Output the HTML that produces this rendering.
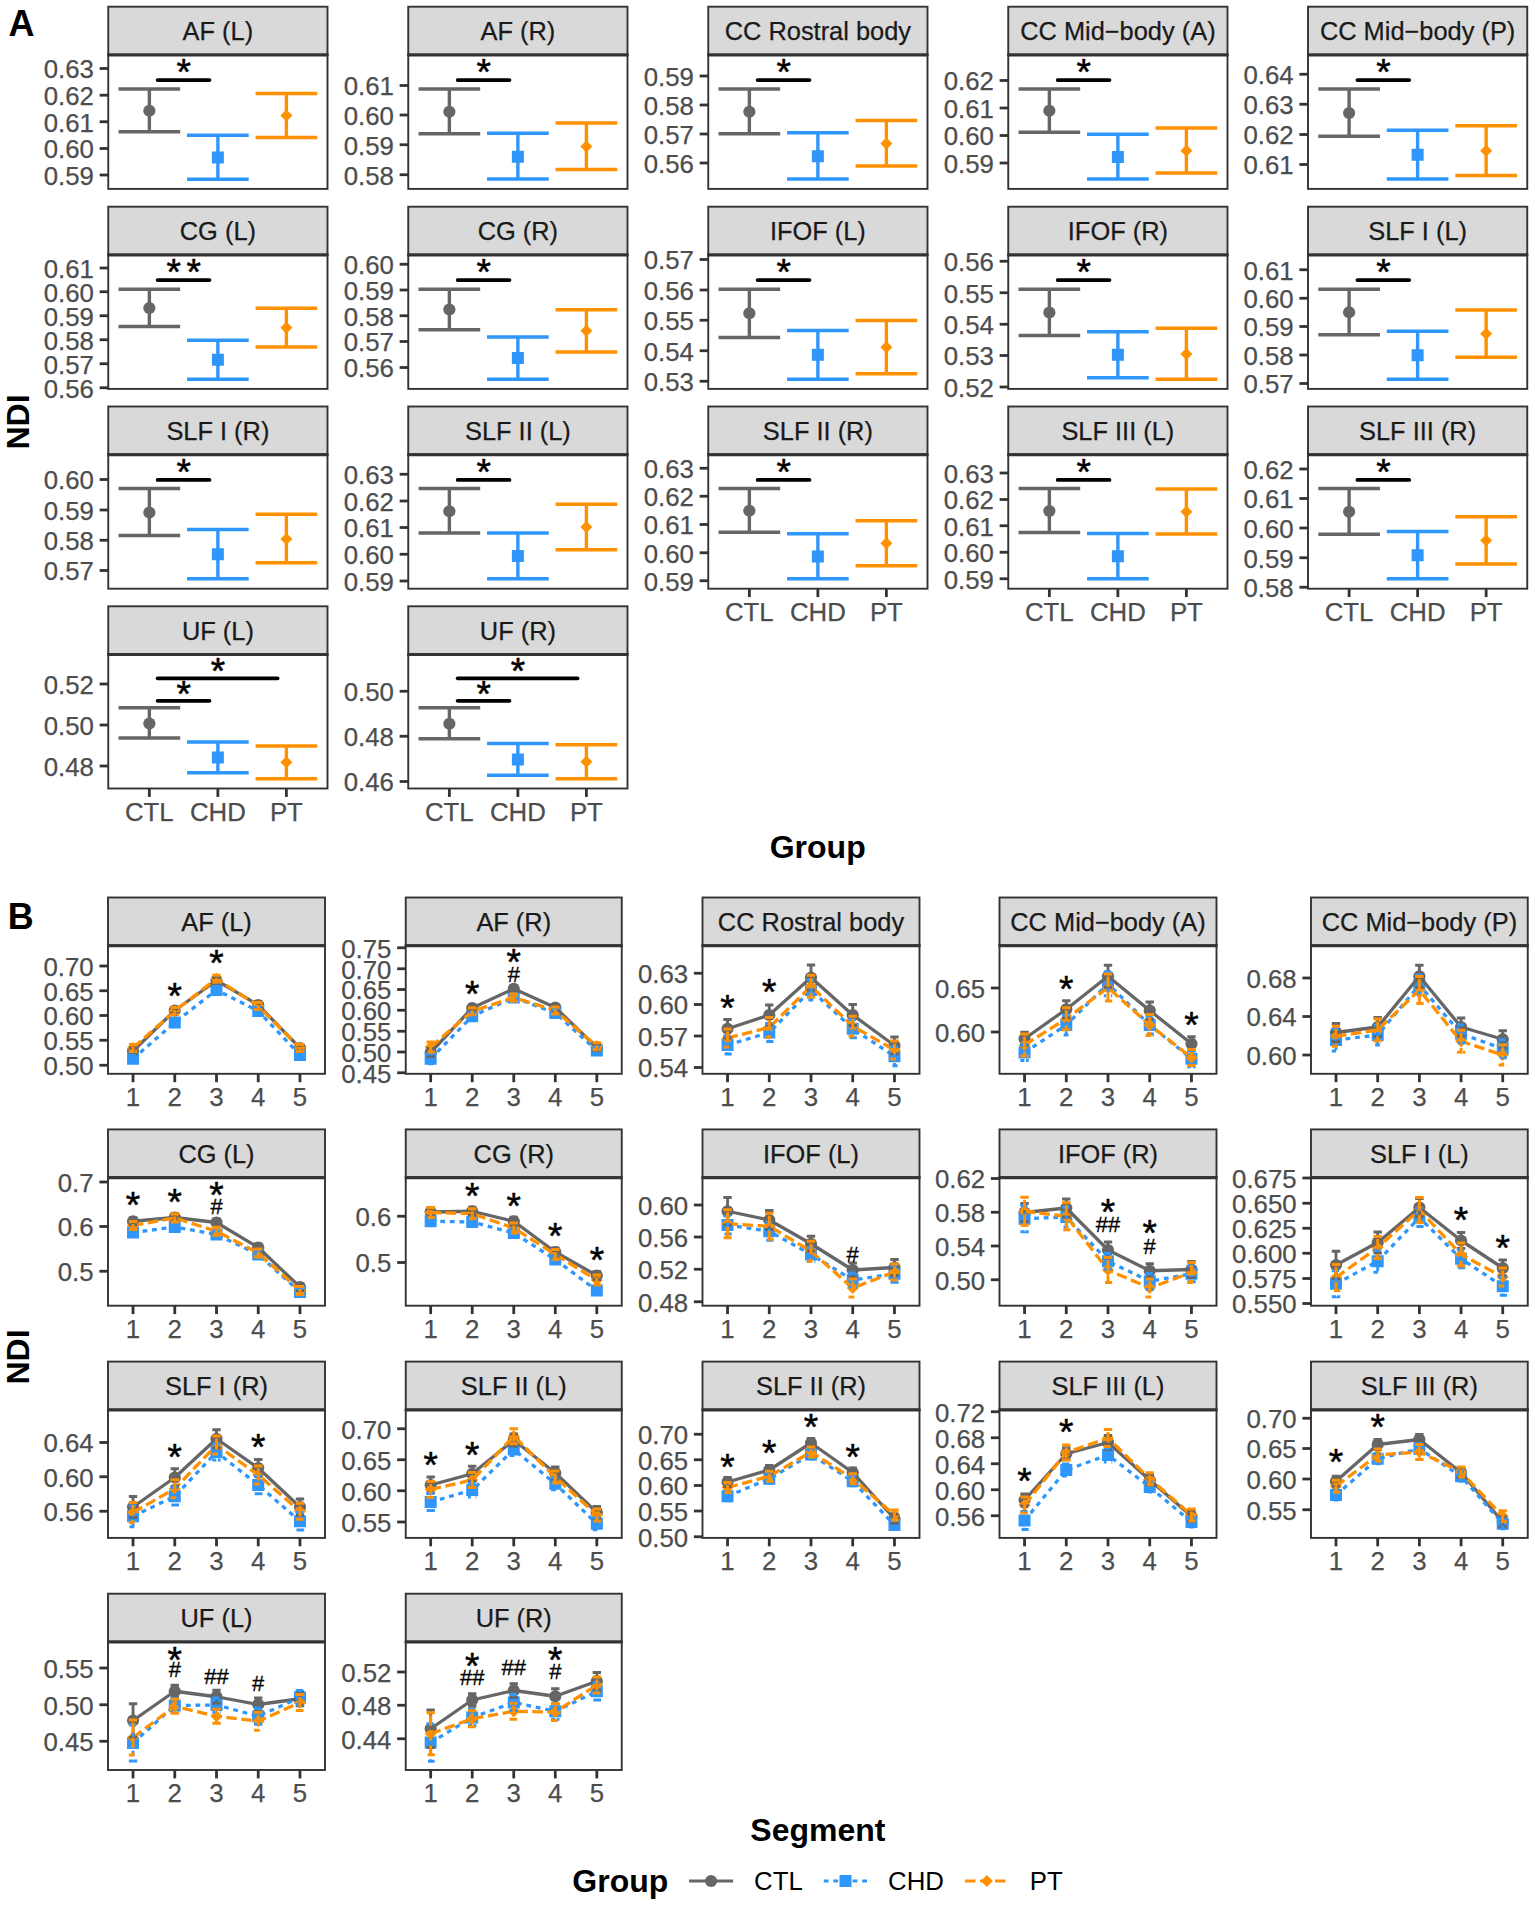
<!DOCTYPE html>
<html lang="en">
<head>
<meta charset="utf-8">
<title>NDI by group and segment</title>
<style>
html,body{margin:0;padding:0;background:#fff;}
body{width:1535px;height:1906px;overflow:hidden;}
svg{display:block;font-family:"Liberation Sans",Arial,Helvetica,sans-serif;}
</style>
</head>
<body>
<svg width="1535" height="1906" viewBox="0 0 1535 1906">
<rect width="1535" height="1906" fill="#fff"/>
<rect x="108.25" y="6.7" width="219.25" height="48" fill="#D9D9D9" stroke="#333333" stroke-width="1.9"/>
<rect x="108.25" y="54.7" width="219.25" height="134.2" fill="#fff" stroke="#333333" stroke-width="1.9"/>
<line x1="107.3" y1="55" x2="328.45" y2="55" stroke="#333333" stroke-width="3"/>
<text x="217.88" y="39.9" font-size="25.4" text-anchor="middle" fill="#1A1A1A" stroke="#1A1A1A" stroke-width="0.25">AF (L)</text>
<line x1="99.65" y1="68.5" x2="108.25" y2="68.5" stroke="#333333" stroke-width="2.8"/>
<text x="93.85" y="78.3" font-size="25.8" text-anchor="end" fill="#4D4D4D" stroke="#4D4D4D" stroke-width="0.25">0.63</text>
<line x1="99.65" y1="95.2" x2="108.25" y2="95.2" stroke="#333333" stroke-width="2.8"/>
<text x="93.85" y="105" font-size="25.8" text-anchor="end" fill="#4D4D4D" stroke="#4D4D4D" stroke-width="0.25">0.62</text>
<line x1="99.65" y1="121.75" x2="108.25" y2="121.75" stroke="#333333" stroke-width="2.8"/>
<text x="93.85" y="131.55" font-size="25.8" text-anchor="end" fill="#4D4D4D" stroke="#4D4D4D" stroke-width="0.25">0.61</text>
<line x1="99.65" y1="148.5" x2="108.25" y2="148.5" stroke="#333333" stroke-width="2.8"/>
<text x="93.85" y="158.3" font-size="25.8" text-anchor="end" fill="#4D4D4D" stroke="#4D4D4D" stroke-width="0.25">0.60</text>
<line x1="99.65" y1="175" x2="108.25" y2="175" stroke="#333333" stroke-width="2.8"/>
<text x="93.85" y="184.8" font-size="25.8" text-anchor="end" fill="#4D4D4D" stroke="#4D4D4D" stroke-width="0.25">0.59</text>
<line x1="118.53" y1="89" x2="180.19" y2="89" stroke="#666666" stroke-width="3.4"/>
<line x1="118.53" y1="131.75" x2="180.19" y2="131.75" stroke="#666666" stroke-width="3.4"/>
<line x1="149.36" y1="89" x2="149.36" y2="131.75" stroke="#666666" stroke-width="3.4"/>
<circle cx="149.36" cy="110.75" r="6.1" fill="#666666"/>
<line x1="187.04" y1="135.25" x2="248.71" y2="135.25" stroke="#2F96FB" stroke-width="3.4"/>
<line x1="187.04" y1="179.25" x2="248.71" y2="179.25" stroke="#2F96FB" stroke-width="3.4"/>
<line x1="217.88" y1="135.25" x2="217.88" y2="179.25" stroke="#2F96FB" stroke-width="3.4"/>
<rect x="211.88" y="151.5" width="12" height="12" fill="#2F96FB"/>
<line x1="255.56" y1="93.5" x2="317.22" y2="93.5" stroke="#FF9000" stroke-width="3.4"/>
<line x1="255.56" y1="137.5" x2="317.22" y2="137.5" stroke="#FF9000" stroke-width="3.4"/>
<line x1="286.39" y1="93.5" x2="286.39" y2="137.5" stroke="#FF9000" stroke-width="3.4"/>
<path d="M280.39 115.5L286.39 109.5L292.39 115.5L286.39 121.5Z" fill="#FF9000"/>
<line x1="157.66" y1="80.1" x2="209.47" y2="80.1" stroke="#000" stroke-width="3.8" stroke-linecap="round"/>
<text x="183.62" y="85.2" font-size="37" text-anchor="middle" fill="#000" stroke="#000" stroke-width="0.5" stroke-linejoin="round">*</text>
<rect x="408.25" y="6.7" width="219.25" height="48" fill="#D9D9D9" stroke="#333333" stroke-width="1.9"/>
<rect x="408.25" y="54.7" width="219.25" height="134.2" fill="#fff" stroke="#333333" stroke-width="1.9"/>
<line x1="407.3" y1="55" x2="628.45" y2="55" stroke="#333333" stroke-width="3"/>
<text x="517.88" y="39.9" font-size="25.4" text-anchor="middle" fill="#1A1A1A" stroke="#1A1A1A" stroke-width="0.25">AF (R)</text>
<line x1="399.65" y1="85.5" x2="408.25" y2="85.5" stroke="#333333" stroke-width="2.8"/>
<text x="393.85" y="95.3" font-size="25.8" text-anchor="end" fill="#4D4D4D" stroke="#4D4D4D" stroke-width="0.25">0.61</text>
<line x1="399.65" y1="115" x2="408.25" y2="115" stroke="#333333" stroke-width="2.8"/>
<text x="393.85" y="124.8" font-size="25.8" text-anchor="end" fill="#4D4D4D" stroke="#4D4D4D" stroke-width="0.25">0.60</text>
<line x1="399.65" y1="144.75" x2="408.25" y2="144.75" stroke="#333333" stroke-width="2.8"/>
<text x="393.85" y="154.55" font-size="25.8" text-anchor="end" fill="#4D4D4D" stroke="#4D4D4D" stroke-width="0.25">0.59</text>
<line x1="399.65" y1="174.75" x2="408.25" y2="174.75" stroke="#333333" stroke-width="2.8"/>
<text x="393.85" y="184.55" font-size="25.8" text-anchor="end" fill="#4D4D4D" stroke="#4D4D4D" stroke-width="0.25">0.58</text>
<line x1="418.53" y1="89" x2="480.19" y2="89" stroke="#666666" stroke-width="3.4"/>
<line x1="418.53" y1="133.75" x2="480.19" y2="133.75" stroke="#666666" stroke-width="3.4"/>
<line x1="449.36" y1="89" x2="449.36" y2="133.75" stroke="#666666" stroke-width="3.4"/>
<circle cx="449.36" cy="111.75" r="6.1" fill="#666666"/>
<line x1="487.04" y1="133.25" x2="548.71" y2="133.25" stroke="#2F96FB" stroke-width="3.4"/>
<line x1="487.04" y1="179" x2="548.71" y2="179" stroke="#2F96FB" stroke-width="3.4"/>
<line x1="517.88" y1="133.25" x2="517.88" y2="179" stroke="#2F96FB" stroke-width="3.4"/>
<rect x="511.88" y="150.75" width="12" height="12" fill="#2F96FB"/>
<line x1="555.56" y1="123" x2="617.22" y2="123" stroke="#FF9000" stroke-width="3.4"/>
<line x1="555.56" y1="169.5" x2="617.22" y2="169.5" stroke="#FF9000" stroke-width="3.4"/>
<line x1="586.39" y1="123" x2="586.39" y2="169.5" stroke="#FF9000" stroke-width="3.4"/>
<path d="M580.39 146.5L586.39 140.5L592.39 146.5L586.39 152.5Z" fill="#FF9000"/>
<line x1="457.66" y1="80.1" x2="509.48" y2="80.1" stroke="#000" stroke-width="3.8" stroke-linecap="round"/>
<text x="483.62" y="85.2" font-size="37" text-anchor="middle" fill="#000" stroke="#000" stroke-width="0.5" stroke-linejoin="round">*</text>
<rect x="708.25" y="6.7" width="219.25" height="48" fill="#D9D9D9" stroke="#333333" stroke-width="1.9"/>
<rect x="708.25" y="54.7" width="219.25" height="134.2" fill="#fff" stroke="#333333" stroke-width="1.9"/>
<line x1="707.3" y1="55" x2="928.45" y2="55" stroke="#333333" stroke-width="3"/>
<text x="817.88" y="39.9" font-size="25.4" text-anchor="middle" fill="#1A1A1A" stroke="#1A1A1A" stroke-width="0.25">CC Rostral body</text>
<line x1="699.65" y1="76" x2="708.25" y2="76" stroke="#333333" stroke-width="2.8"/>
<text x="693.85" y="85.8" font-size="25.8" text-anchor="end" fill="#4D4D4D" stroke="#4D4D4D" stroke-width="0.25">0.59</text>
<line x1="699.65" y1="105" x2="708.25" y2="105" stroke="#333333" stroke-width="2.8"/>
<text x="693.85" y="114.8" font-size="25.8" text-anchor="end" fill="#4D4D4D" stroke="#4D4D4D" stroke-width="0.25">0.58</text>
<line x1="699.65" y1="134" x2="708.25" y2="134" stroke="#333333" stroke-width="2.8"/>
<text x="693.85" y="143.8" font-size="25.8" text-anchor="end" fill="#4D4D4D" stroke="#4D4D4D" stroke-width="0.25">0.57</text>
<line x1="699.65" y1="163" x2="708.25" y2="163" stroke="#333333" stroke-width="2.8"/>
<text x="693.85" y="172.8" font-size="25.8" text-anchor="end" fill="#4D4D4D" stroke="#4D4D4D" stroke-width="0.25">0.56</text>
<line x1="718.53" y1="89" x2="780.19" y2="89" stroke="#666666" stroke-width="3.4"/>
<line x1="718.53" y1="133.75" x2="780.19" y2="133.75" stroke="#666666" stroke-width="3.4"/>
<line x1="749.36" y1="89" x2="749.36" y2="133.75" stroke="#666666" stroke-width="3.4"/>
<circle cx="749.36" cy="111.75" r="6.1" fill="#666666"/>
<line x1="787.04" y1="132.75" x2="848.71" y2="132.75" stroke="#2F96FB" stroke-width="3.4"/>
<line x1="787.04" y1="179" x2="848.71" y2="179" stroke="#2F96FB" stroke-width="3.4"/>
<line x1="817.88" y1="132.75" x2="817.88" y2="179" stroke="#2F96FB" stroke-width="3.4"/>
<rect x="811.88" y="150.25" width="12" height="12" fill="#2F96FB"/>
<line x1="855.56" y1="120.5" x2="917.22" y2="120.5" stroke="#FF9000" stroke-width="3.4"/>
<line x1="855.56" y1="166" x2="917.22" y2="166" stroke="#FF9000" stroke-width="3.4"/>
<line x1="886.39" y1="120.5" x2="886.39" y2="166" stroke="#FF9000" stroke-width="3.4"/>
<path d="M880.39 143.5L886.39 137.5L892.39 143.5L886.39 149.5Z" fill="#FF9000"/>
<line x1="757.66" y1="80.1" x2="809.48" y2="80.1" stroke="#000" stroke-width="3.8" stroke-linecap="round"/>
<text x="783.62" y="85.2" font-size="37" text-anchor="middle" fill="#000" stroke="#000" stroke-width="0.5" stroke-linejoin="round">*</text>
<rect x="1008.25" y="6.7" width="219.25" height="48" fill="#D9D9D9" stroke="#333333" stroke-width="1.9"/>
<rect x="1008.25" y="54.7" width="219.25" height="134.2" fill="#fff" stroke="#333333" stroke-width="1.9"/>
<line x1="1007.3" y1="55" x2="1228.45" y2="55" stroke="#333333" stroke-width="3"/>
<text x="1117.88" y="39.9" font-size="25.4" text-anchor="middle" fill="#1A1A1A" stroke="#1A1A1A" stroke-width="0.25">CC Mid−body (A)</text>
<line x1="999.65" y1="80.5" x2="1008.25" y2="80.5" stroke="#333333" stroke-width="2.8"/>
<text x="993.85" y="90.3" font-size="25.8" text-anchor="end" fill="#4D4D4D" stroke="#4D4D4D" stroke-width="0.25">0.62</text>
<line x1="999.65" y1="108" x2="1008.25" y2="108" stroke="#333333" stroke-width="2.8"/>
<text x="993.85" y="117.8" font-size="25.8" text-anchor="end" fill="#4D4D4D" stroke="#4D4D4D" stroke-width="0.25">0.61</text>
<line x1="999.65" y1="135.5" x2="1008.25" y2="135.5" stroke="#333333" stroke-width="2.8"/>
<text x="993.85" y="145.3" font-size="25.8" text-anchor="end" fill="#4D4D4D" stroke="#4D4D4D" stroke-width="0.25">0.60</text>
<line x1="999.65" y1="163" x2="1008.25" y2="163" stroke="#333333" stroke-width="2.8"/>
<text x="993.85" y="172.8" font-size="25.8" text-anchor="end" fill="#4D4D4D" stroke="#4D4D4D" stroke-width="0.25">0.59</text>
<line x1="1018.53" y1="89" x2="1080.19" y2="89" stroke="#666666" stroke-width="3.4"/>
<line x1="1018.53" y1="132.25" x2="1080.19" y2="132.25" stroke="#666666" stroke-width="3.4"/>
<line x1="1049.36" y1="89" x2="1049.36" y2="132.25" stroke="#666666" stroke-width="3.4"/>
<circle cx="1049.36" cy="110.75" r="6.1" fill="#666666"/>
<line x1="1087.04" y1="134.25" x2="1148.71" y2="134.25" stroke="#2F96FB" stroke-width="3.4"/>
<line x1="1087.04" y1="179" x2="1148.71" y2="179" stroke="#2F96FB" stroke-width="3.4"/>
<line x1="1117.88" y1="134.25" x2="1117.88" y2="179" stroke="#2F96FB" stroke-width="3.4"/>
<rect x="1111.88" y="151" width="12" height="12" fill="#2F96FB"/>
<line x1="1155.56" y1="128" x2="1217.22" y2="128" stroke="#FF9000" stroke-width="3.4"/>
<line x1="1155.56" y1="173" x2="1217.22" y2="173" stroke="#FF9000" stroke-width="3.4"/>
<line x1="1186.39" y1="128" x2="1186.39" y2="173" stroke="#FF9000" stroke-width="3.4"/>
<path d="M1180.39 150.75L1186.39 144.75L1192.39 150.75L1186.39 156.75Z" fill="#FF9000"/>
<line x1="1057.66" y1="80.1" x2="1109.47" y2="80.1" stroke="#000" stroke-width="3.8" stroke-linecap="round"/>
<text x="1083.62" y="85.2" font-size="37" text-anchor="middle" fill="#000" stroke="#000" stroke-width="0.5" stroke-linejoin="round">*</text>
<rect x="1308" y="6.7" width="219.25" height="48" fill="#D9D9D9" stroke="#333333" stroke-width="1.9"/>
<rect x="1308" y="54.7" width="219.25" height="134.2" fill="#fff" stroke="#333333" stroke-width="1.9"/>
<line x1="1307.05" y1="55" x2="1528.2" y2="55" stroke="#333333" stroke-width="3"/>
<text x="1417.62" y="39.9" font-size="25.4" text-anchor="middle" fill="#1A1A1A" stroke="#1A1A1A" stroke-width="0.25">CC Mid−body (P)</text>
<line x1="1299.4" y1="74.25" x2="1308" y2="74.25" stroke="#333333" stroke-width="2.8"/>
<text x="1293.6" y="84.05" font-size="25.8" text-anchor="end" fill="#4D4D4D" stroke="#4D4D4D" stroke-width="0.25">0.64</text>
<line x1="1299.4" y1="104.25" x2="1308" y2="104.25" stroke="#333333" stroke-width="2.8"/>
<text x="1293.6" y="114.05" font-size="25.8" text-anchor="end" fill="#4D4D4D" stroke="#4D4D4D" stroke-width="0.25">0.63</text>
<line x1="1299.4" y1="134.5" x2="1308" y2="134.5" stroke="#333333" stroke-width="2.8"/>
<text x="1293.6" y="144.3" font-size="25.8" text-anchor="end" fill="#4D4D4D" stroke="#4D4D4D" stroke-width="0.25">0.62</text>
<line x1="1299.4" y1="164.5" x2="1308" y2="164.5" stroke="#333333" stroke-width="2.8"/>
<text x="1293.6" y="174.3" font-size="25.8" text-anchor="end" fill="#4D4D4D" stroke="#4D4D4D" stroke-width="0.25">0.61</text>
<line x1="1318.28" y1="89" x2="1379.94" y2="89" stroke="#666666" stroke-width="3.4"/>
<line x1="1318.28" y1="136.25" x2="1379.94" y2="136.25" stroke="#666666" stroke-width="3.4"/>
<line x1="1349.11" y1="89" x2="1349.11" y2="136.25" stroke="#666666" stroke-width="3.4"/>
<circle cx="1349.11" cy="113" r="6.1" fill="#666666"/>
<line x1="1386.79" y1="130.25" x2="1448.46" y2="130.25" stroke="#2F96FB" stroke-width="3.4"/>
<line x1="1386.79" y1="179" x2="1448.46" y2="179" stroke="#2F96FB" stroke-width="3.4"/>
<line x1="1417.62" y1="130.25" x2="1417.62" y2="179" stroke="#2F96FB" stroke-width="3.4"/>
<rect x="1411.62" y="148.75" width="12" height="12" fill="#2F96FB"/>
<line x1="1455.31" y1="125.75" x2="1516.97" y2="125.75" stroke="#FF9000" stroke-width="3.4"/>
<line x1="1455.31" y1="175.5" x2="1516.97" y2="175.5" stroke="#FF9000" stroke-width="3.4"/>
<line x1="1486.14" y1="125.75" x2="1486.14" y2="175.5" stroke="#FF9000" stroke-width="3.4"/>
<path d="M1480.14 150.75L1486.14 144.75L1492.14 150.75L1486.14 156.75Z" fill="#FF9000"/>
<line x1="1357.41" y1="80.1" x2="1409.22" y2="80.1" stroke="#000" stroke-width="3.8" stroke-linecap="round"/>
<text x="1383.37" y="85.2" font-size="37" text-anchor="middle" fill="#000" stroke="#000" stroke-width="0.5" stroke-linejoin="round">*</text>
<rect x="108.25" y="206.7" width="219.25" height="48" fill="#D9D9D9" stroke="#333333" stroke-width="1.9"/>
<rect x="108.25" y="254.7" width="219.25" height="134.2" fill="#fff" stroke="#333333" stroke-width="1.9"/>
<line x1="107.3" y1="255" x2="328.45" y2="255" stroke="#333333" stroke-width="3"/>
<text x="217.88" y="239.9" font-size="25.4" text-anchor="middle" fill="#1A1A1A" stroke="#1A1A1A" stroke-width="0.25">CG (L)</text>
<line x1="99.65" y1="268" x2="108.25" y2="268" stroke="#333333" stroke-width="2.8"/>
<text x="93.85" y="277.8" font-size="25.8" text-anchor="end" fill="#4D4D4D" stroke="#4D4D4D" stroke-width="0.25">0.61</text>
<line x1="99.65" y1="291.75" x2="108.25" y2="291.75" stroke="#333333" stroke-width="2.8"/>
<text x="93.85" y="301.55" font-size="25.8" text-anchor="end" fill="#4D4D4D" stroke="#4D4D4D" stroke-width="0.25">0.60</text>
<line x1="99.65" y1="315.75" x2="108.25" y2="315.75" stroke="#333333" stroke-width="2.8"/>
<text x="93.85" y="325.55" font-size="25.8" text-anchor="end" fill="#4D4D4D" stroke="#4D4D4D" stroke-width="0.25">0.59</text>
<line x1="99.65" y1="339.75" x2="108.25" y2="339.75" stroke="#333333" stroke-width="2.8"/>
<text x="93.85" y="349.55" font-size="25.8" text-anchor="end" fill="#4D4D4D" stroke="#4D4D4D" stroke-width="0.25">0.58</text>
<line x1="99.65" y1="363.75" x2="108.25" y2="363.75" stroke="#333333" stroke-width="2.8"/>
<text x="93.85" y="373.55" font-size="25.8" text-anchor="end" fill="#4D4D4D" stroke="#4D4D4D" stroke-width="0.25">0.57</text>
<line x1="99.65" y1="387.75" x2="108.25" y2="387.75" stroke="#333333" stroke-width="2.8"/>
<text x="93.85" y="397.55" font-size="25.8" text-anchor="end" fill="#4D4D4D" stroke="#4D4D4D" stroke-width="0.25">0.56</text>
<line x1="118.53" y1="289.25" x2="180.19" y2="289.25" stroke="#666666" stroke-width="3.4"/>
<line x1="118.53" y1="326.5" x2="180.19" y2="326.5" stroke="#666666" stroke-width="3.4"/>
<line x1="149.36" y1="289.25" x2="149.36" y2="326.5" stroke="#666666" stroke-width="3.4"/>
<circle cx="149.36" cy="308" r="6.1" fill="#666666"/>
<line x1="187.04" y1="340.25" x2="248.71" y2="340.25" stroke="#2F96FB" stroke-width="3.4"/>
<line x1="187.04" y1="379.25" x2="248.71" y2="379.25" stroke="#2F96FB" stroke-width="3.4"/>
<line x1="217.88" y1="340.25" x2="217.88" y2="379.25" stroke="#2F96FB" stroke-width="3.4"/>
<rect x="211.88" y="353.75" width="12" height="12" fill="#2F96FB"/>
<line x1="255.56" y1="308.25" x2="317.22" y2="308.25" stroke="#FF9000" stroke-width="3.4"/>
<line x1="255.56" y1="347" x2="317.22" y2="347" stroke="#FF9000" stroke-width="3.4"/>
<line x1="286.39" y1="308.25" x2="286.39" y2="347" stroke="#FF9000" stroke-width="3.4"/>
<path d="M280.39 327.75L286.39 321.75L292.39 327.75L286.39 333.75Z" fill="#FF9000"/>
<line x1="157.66" y1="280.1" x2="209.47" y2="280.1" stroke="#000" stroke-width="3.8" stroke-linecap="round"/>
<text x="173.62" y="285.2" font-size="37" text-anchor="middle" fill="#000" stroke="#000" stroke-width="0.5" stroke-linejoin="round">*</text>
<text x="193.62" y="285.2" font-size="37" text-anchor="middle" fill="#000" stroke="#000" stroke-width="0.5" stroke-linejoin="round">*</text>
<rect x="408.25" y="206.7" width="219.25" height="48" fill="#D9D9D9" stroke="#333333" stroke-width="1.9"/>
<rect x="408.25" y="254.7" width="219.25" height="134.2" fill="#fff" stroke="#333333" stroke-width="1.9"/>
<line x1="407.3" y1="255" x2="628.45" y2="255" stroke="#333333" stroke-width="3"/>
<text x="517.88" y="239.9" font-size="25.4" text-anchor="middle" fill="#1A1A1A" stroke="#1A1A1A" stroke-width="0.25">CG (R)</text>
<line x1="399.65" y1="264.25" x2="408.25" y2="264.25" stroke="#333333" stroke-width="2.8"/>
<text x="393.85" y="274.05" font-size="25.8" text-anchor="end" fill="#4D4D4D" stroke="#4D4D4D" stroke-width="0.25">0.60</text>
<line x1="399.65" y1="290" x2="408.25" y2="290" stroke="#333333" stroke-width="2.8"/>
<text x="393.85" y="299.8" font-size="25.8" text-anchor="end" fill="#4D4D4D" stroke="#4D4D4D" stroke-width="0.25">0.59</text>
<line x1="399.65" y1="315.75" x2="408.25" y2="315.75" stroke="#333333" stroke-width="2.8"/>
<text x="393.85" y="325.55" font-size="25.8" text-anchor="end" fill="#4D4D4D" stroke="#4D4D4D" stroke-width="0.25">0.58</text>
<line x1="399.65" y1="341.5" x2="408.25" y2="341.5" stroke="#333333" stroke-width="2.8"/>
<text x="393.85" y="351.3" font-size="25.8" text-anchor="end" fill="#4D4D4D" stroke="#4D4D4D" stroke-width="0.25">0.57</text>
<line x1="399.65" y1="367.5" x2="408.25" y2="367.5" stroke="#333333" stroke-width="2.8"/>
<text x="393.85" y="377.3" font-size="25.8" text-anchor="end" fill="#4D4D4D" stroke="#4D4D4D" stroke-width="0.25">0.56</text>
<line x1="418.53" y1="289.25" x2="480.19" y2="289.25" stroke="#666666" stroke-width="3.4"/>
<line x1="418.53" y1="329.75" x2="480.19" y2="329.75" stroke="#666666" stroke-width="3.4"/>
<line x1="449.36" y1="289.25" x2="449.36" y2="329.75" stroke="#666666" stroke-width="3.4"/>
<circle cx="449.36" cy="309.5" r="6.1" fill="#666666"/>
<line x1="487.04" y1="337" x2="548.71" y2="337" stroke="#2F96FB" stroke-width="3.4"/>
<line x1="487.04" y1="379.25" x2="548.71" y2="379.25" stroke="#2F96FB" stroke-width="3.4"/>
<line x1="517.88" y1="337" x2="517.88" y2="379.25" stroke="#2F96FB" stroke-width="3.4"/>
<rect x="511.88" y="352" width="12" height="12" fill="#2F96FB"/>
<line x1="555.56" y1="309.75" x2="617.22" y2="309.75" stroke="#FF9000" stroke-width="3.4"/>
<line x1="555.56" y1="352" x2="617.22" y2="352" stroke="#FF9000" stroke-width="3.4"/>
<line x1="586.39" y1="309.75" x2="586.39" y2="352" stroke="#FF9000" stroke-width="3.4"/>
<path d="M580.39 330.75L586.39 324.75L592.39 330.75L586.39 336.75Z" fill="#FF9000"/>
<line x1="457.66" y1="280.1" x2="509.48" y2="280.1" stroke="#000" stroke-width="3.8" stroke-linecap="round"/>
<text x="483.62" y="285.2" font-size="37" text-anchor="middle" fill="#000" stroke="#000" stroke-width="0.5" stroke-linejoin="round">*</text>
<rect x="708.25" y="206.7" width="219.25" height="48" fill="#D9D9D9" stroke="#333333" stroke-width="1.9"/>
<rect x="708.25" y="254.7" width="219.25" height="134.2" fill="#fff" stroke="#333333" stroke-width="1.9"/>
<line x1="707.3" y1="255" x2="928.45" y2="255" stroke="#333333" stroke-width="3"/>
<text x="817.88" y="239.9" font-size="25.4" text-anchor="middle" fill="#1A1A1A" stroke="#1A1A1A" stroke-width="0.25">IFOF (L)</text>
<line x1="699.65" y1="259.5" x2="708.25" y2="259.5" stroke="#333333" stroke-width="2.8"/>
<text x="693.85" y="269.3" font-size="25.8" text-anchor="end" fill="#4D4D4D" stroke="#4D4D4D" stroke-width="0.25">0.57</text>
<line x1="699.65" y1="290" x2="708.25" y2="290" stroke="#333333" stroke-width="2.8"/>
<text x="693.85" y="299.8" font-size="25.8" text-anchor="end" fill="#4D4D4D" stroke="#4D4D4D" stroke-width="0.25">0.56</text>
<line x1="699.65" y1="320.25" x2="708.25" y2="320.25" stroke="#333333" stroke-width="2.8"/>
<text x="693.85" y="330.05" font-size="25.8" text-anchor="end" fill="#4D4D4D" stroke="#4D4D4D" stroke-width="0.25">0.55</text>
<line x1="699.65" y1="350.75" x2="708.25" y2="350.75" stroke="#333333" stroke-width="2.8"/>
<text x="693.85" y="360.55" font-size="25.8" text-anchor="end" fill="#4D4D4D" stroke="#4D4D4D" stroke-width="0.25">0.54</text>
<line x1="699.65" y1="381.25" x2="708.25" y2="381.25" stroke="#333333" stroke-width="2.8"/>
<text x="693.85" y="391.05" font-size="25.8" text-anchor="end" fill="#4D4D4D" stroke="#4D4D4D" stroke-width="0.25">0.53</text>
<line x1="718.53" y1="289.25" x2="780.19" y2="289.25" stroke="#666666" stroke-width="3.4"/>
<line x1="718.53" y1="337.5" x2="780.19" y2="337.5" stroke="#666666" stroke-width="3.4"/>
<line x1="749.36" y1="289.25" x2="749.36" y2="337.5" stroke="#666666" stroke-width="3.4"/>
<circle cx="749.36" cy="313.25" r="6.1" fill="#666666"/>
<line x1="787.04" y1="330.5" x2="848.71" y2="330.5" stroke="#2F96FB" stroke-width="3.4"/>
<line x1="787.04" y1="379.25" x2="848.71" y2="379.25" stroke="#2F96FB" stroke-width="3.4"/>
<line x1="817.88" y1="330.5" x2="817.88" y2="379.25" stroke="#2F96FB" stroke-width="3.4"/>
<rect x="811.88" y="348.75" width="12" height="12" fill="#2F96FB"/>
<line x1="855.56" y1="320.5" x2="917.22" y2="320.5" stroke="#FF9000" stroke-width="3.4"/>
<line x1="855.56" y1="373.75" x2="917.22" y2="373.75" stroke="#FF9000" stroke-width="3.4"/>
<line x1="886.39" y1="320.5" x2="886.39" y2="373.75" stroke="#FF9000" stroke-width="3.4"/>
<path d="M880.39 347.25L886.39 341.25L892.39 347.25L886.39 353.25Z" fill="#FF9000"/>
<line x1="757.66" y1="280.1" x2="809.48" y2="280.1" stroke="#000" stroke-width="3.8" stroke-linecap="round"/>
<text x="783.62" y="285.2" font-size="37" text-anchor="middle" fill="#000" stroke="#000" stroke-width="0.5" stroke-linejoin="round">*</text>
<rect x="1008.25" y="206.7" width="219.25" height="48" fill="#D9D9D9" stroke="#333333" stroke-width="1.9"/>
<rect x="1008.25" y="254.7" width="219.25" height="134.2" fill="#fff" stroke="#333333" stroke-width="1.9"/>
<line x1="1007.3" y1="255" x2="1228.45" y2="255" stroke="#333333" stroke-width="3"/>
<text x="1117.88" y="239.9" font-size="25.4" text-anchor="middle" fill="#1A1A1A" stroke="#1A1A1A" stroke-width="0.25">IFOF (R)</text>
<line x1="999.65" y1="261.25" x2="1008.25" y2="261.25" stroke="#333333" stroke-width="2.8"/>
<text x="993.85" y="271.05" font-size="25.8" text-anchor="end" fill="#4D4D4D" stroke="#4D4D4D" stroke-width="0.25">0.56</text>
<line x1="999.65" y1="292.75" x2="1008.25" y2="292.75" stroke="#333333" stroke-width="2.8"/>
<text x="993.85" y="302.55" font-size="25.8" text-anchor="end" fill="#4D4D4D" stroke="#4D4D4D" stroke-width="0.25">0.55</text>
<line x1="999.65" y1="324.25" x2="1008.25" y2="324.25" stroke="#333333" stroke-width="2.8"/>
<text x="993.85" y="334.05" font-size="25.8" text-anchor="end" fill="#4D4D4D" stroke="#4D4D4D" stroke-width="0.25">0.54</text>
<line x1="999.65" y1="355.5" x2="1008.25" y2="355.5" stroke="#333333" stroke-width="2.8"/>
<text x="993.85" y="365.3" font-size="25.8" text-anchor="end" fill="#4D4D4D" stroke="#4D4D4D" stroke-width="0.25">0.53</text>
<line x1="999.65" y1="387" x2="1008.25" y2="387" stroke="#333333" stroke-width="2.8"/>
<text x="993.85" y="396.8" font-size="25.8" text-anchor="end" fill="#4D4D4D" stroke="#4D4D4D" stroke-width="0.25">0.52</text>
<line x1="1018.53" y1="289.25" x2="1080.19" y2="289.25" stroke="#666666" stroke-width="3.4"/>
<line x1="1018.53" y1="335.5" x2="1080.19" y2="335.5" stroke="#666666" stroke-width="3.4"/>
<line x1="1049.36" y1="289.25" x2="1049.36" y2="335.5" stroke="#666666" stroke-width="3.4"/>
<circle cx="1049.36" cy="312.5" r="6.1" fill="#666666"/>
<line x1="1087.04" y1="331.75" x2="1148.71" y2="331.75" stroke="#2F96FB" stroke-width="3.4"/>
<line x1="1087.04" y1="377.75" x2="1148.71" y2="377.75" stroke="#2F96FB" stroke-width="3.4"/>
<line x1="1117.88" y1="331.75" x2="1117.88" y2="377.75" stroke="#2F96FB" stroke-width="3.4"/>
<rect x="1111.88" y="348.75" width="12" height="12" fill="#2F96FB"/>
<line x1="1155.56" y1="328.25" x2="1217.22" y2="328.25" stroke="#FF9000" stroke-width="3.4"/>
<line x1="1155.56" y1="379.25" x2="1217.22" y2="379.25" stroke="#FF9000" stroke-width="3.4"/>
<line x1="1186.39" y1="328.25" x2="1186.39" y2="379.25" stroke="#FF9000" stroke-width="3.4"/>
<path d="M1180.39 354L1186.39 348L1192.39 354L1186.39 360Z" fill="#FF9000"/>
<line x1="1057.66" y1="280.1" x2="1109.47" y2="280.1" stroke="#000" stroke-width="3.8" stroke-linecap="round"/>
<text x="1083.62" y="285.2" font-size="37" text-anchor="middle" fill="#000" stroke="#000" stroke-width="0.5" stroke-linejoin="round">*</text>
<rect x="1308" y="206.7" width="219.25" height="48" fill="#D9D9D9" stroke="#333333" stroke-width="1.9"/>
<rect x="1308" y="254.7" width="219.25" height="134.2" fill="#fff" stroke="#333333" stroke-width="1.9"/>
<line x1="1307.05" y1="255" x2="1528.2" y2="255" stroke="#333333" stroke-width="3"/>
<text x="1417.62" y="239.9" font-size="25.4" text-anchor="middle" fill="#1A1A1A" stroke="#1A1A1A" stroke-width="0.25">SLF I (L)</text>
<line x1="1299.4" y1="269.75" x2="1308" y2="269.75" stroke="#333333" stroke-width="2.8"/>
<text x="1293.6" y="279.55" font-size="25.8" text-anchor="end" fill="#4D4D4D" stroke="#4D4D4D" stroke-width="0.25">0.61</text>
<line x1="1299.4" y1="298.25" x2="1308" y2="298.25" stroke="#333333" stroke-width="2.8"/>
<text x="1293.6" y="308.05" font-size="25.8" text-anchor="end" fill="#4D4D4D" stroke="#4D4D4D" stroke-width="0.25">0.60</text>
<line x1="1299.4" y1="326.5" x2="1308" y2="326.5" stroke="#333333" stroke-width="2.8"/>
<text x="1293.6" y="336.3" font-size="25.8" text-anchor="end" fill="#4D4D4D" stroke="#4D4D4D" stroke-width="0.25">0.59</text>
<line x1="1299.4" y1="355" x2="1308" y2="355" stroke="#333333" stroke-width="2.8"/>
<text x="1293.6" y="364.8" font-size="25.8" text-anchor="end" fill="#4D4D4D" stroke="#4D4D4D" stroke-width="0.25">0.58</text>
<line x1="1299.4" y1="383.5" x2="1308" y2="383.5" stroke="#333333" stroke-width="2.8"/>
<text x="1293.6" y="393.3" font-size="25.8" text-anchor="end" fill="#4D4D4D" stroke="#4D4D4D" stroke-width="0.25">0.57</text>
<line x1="1318.28" y1="289.25" x2="1379.94" y2="289.25" stroke="#666666" stroke-width="3.4"/>
<line x1="1318.28" y1="334.75" x2="1379.94" y2="334.75" stroke="#666666" stroke-width="3.4"/>
<line x1="1349.11" y1="289.25" x2="1349.11" y2="334.75" stroke="#666666" stroke-width="3.4"/>
<circle cx="1349.11" cy="312.25" r="6.1" fill="#666666"/>
<line x1="1386.79" y1="331.25" x2="1448.46" y2="331.25" stroke="#2F96FB" stroke-width="3.4"/>
<line x1="1386.79" y1="379.25" x2="1448.46" y2="379.25" stroke="#2F96FB" stroke-width="3.4"/>
<line x1="1417.62" y1="331.25" x2="1417.62" y2="379.25" stroke="#2F96FB" stroke-width="3.4"/>
<rect x="1411.62" y="349.25" width="12" height="12" fill="#2F96FB"/>
<line x1="1455.31" y1="310" x2="1516.97" y2="310" stroke="#FF9000" stroke-width="3.4"/>
<line x1="1455.31" y1="357.25" x2="1516.97" y2="357.25" stroke="#FF9000" stroke-width="3.4"/>
<line x1="1486.14" y1="310" x2="1486.14" y2="357.25" stroke="#FF9000" stroke-width="3.4"/>
<path d="M1480.14 333.75L1486.14 327.75L1492.14 333.75L1486.14 339.75Z" fill="#FF9000"/>
<line x1="1357.41" y1="280.1" x2="1409.22" y2="280.1" stroke="#000" stroke-width="3.8" stroke-linecap="round"/>
<text x="1383.37" y="285.2" font-size="37" text-anchor="middle" fill="#000" stroke="#000" stroke-width="0.5" stroke-linejoin="round">*</text>
<rect x="108.25" y="406.5" width="219.25" height="48" fill="#D9D9D9" stroke="#333333" stroke-width="1.9"/>
<rect x="108.25" y="454.5" width="219.25" height="134.2" fill="#fff" stroke="#333333" stroke-width="1.9"/>
<line x1="107.3" y1="454.8" x2="328.45" y2="454.8" stroke="#333333" stroke-width="3"/>
<text x="217.88" y="439.7" font-size="25.4" text-anchor="middle" fill="#1A1A1A" stroke="#1A1A1A" stroke-width="0.25">SLF I (R)</text>
<line x1="99.65" y1="479.5" x2="108.25" y2="479.5" stroke="#333333" stroke-width="2.8"/>
<text x="93.85" y="489.3" font-size="25.8" text-anchor="end" fill="#4D4D4D" stroke="#4D4D4D" stroke-width="0.25">0.60</text>
<line x1="99.65" y1="510" x2="108.25" y2="510" stroke="#333333" stroke-width="2.8"/>
<text x="93.85" y="519.8" font-size="25.8" text-anchor="end" fill="#4D4D4D" stroke="#4D4D4D" stroke-width="0.25">0.59</text>
<line x1="99.65" y1="540.25" x2="108.25" y2="540.25" stroke="#333333" stroke-width="2.8"/>
<text x="93.85" y="550.05" font-size="25.8" text-anchor="end" fill="#4D4D4D" stroke="#4D4D4D" stroke-width="0.25">0.58</text>
<line x1="99.65" y1="570.5" x2="108.25" y2="570.5" stroke="#333333" stroke-width="2.8"/>
<text x="93.85" y="580.3" font-size="25.8" text-anchor="end" fill="#4D4D4D" stroke="#4D4D4D" stroke-width="0.25">0.57</text>
<line x1="118.53" y1="488.5" x2="180.19" y2="488.5" stroke="#666666" stroke-width="3.4"/>
<line x1="118.53" y1="535.5" x2="180.19" y2="535.5" stroke="#666666" stroke-width="3.4"/>
<line x1="149.36" y1="488.5" x2="149.36" y2="535.5" stroke="#666666" stroke-width="3.4"/>
<circle cx="149.36" cy="512.5" r="6.1" fill="#666666"/>
<line x1="187.04" y1="529.5" x2="248.71" y2="529.5" stroke="#2F96FB" stroke-width="3.4"/>
<line x1="187.04" y1="578.75" x2="248.71" y2="578.75" stroke="#2F96FB" stroke-width="3.4"/>
<line x1="217.88" y1="529.5" x2="217.88" y2="578.75" stroke="#2F96FB" stroke-width="3.4"/>
<rect x="211.88" y="548.25" width="12" height="12" fill="#2F96FB"/>
<line x1="255.56" y1="514.25" x2="317.22" y2="514.25" stroke="#FF9000" stroke-width="3.4"/>
<line x1="255.56" y1="562.75" x2="317.22" y2="562.75" stroke="#FF9000" stroke-width="3.4"/>
<line x1="286.39" y1="514.25" x2="286.39" y2="562.75" stroke="#FF9000" stroke-width="3.4"/>
<path d="M280.39 539L286.39 533L292.39 539L286.39 545Z" fill="#FF9000"/>
<line x1="157.66" y1="479.9" x2="209.47" y2="479.9" stroke="#000" stroke-width="3.8" stroke-linecap="round"/>
<text x="183.62" y="485" font-size="37" text-anchor="middle" fill="#000" stroke="#000" stroke-width="0.5" stroke-linejoin="round">*</text>
<rect x="408.25" y="406.5" width="219.25" height="48" fill="#D9D9D9" stroke="#333333" stroke-width="1.9"/>
<rect x="408.25" y="454.5" width="219.25" height="134.2" fill="#fff" stroke="#333333" stroke-width="1.9"/>
<line x1="407.3" y1="454.8" x2="628.45" y2="454.8" stroke="#333333" stroke-width="3"/>
<text x="517.88" y="439.7" font-size="25.4" text-anchor="middle" fill="#1A1A1A" stroke="#1A1A1A" stroke-width="0.25">SLF II (L)</text>
<line x1="399.65" y1="474.25" x2="408.25" y2="474.25" stroke="#333333" stroke-width="2.8"/>
<text x="393.85" y="484.05" font-size="25.8" text-anchor="end" fill="#4D4D4D" stroke="#4D4D4D" stroke-width="0.25">0.63</text>
<line x1="399.65" y1="501" x2="408.25" y2="501" stroke="#333333" stroke-width="2.8"/>
<text x="393.85" y="510.8" font-size="25.8" text-anchor="end" fill="#4D4D4D" stroke="#4D4D4D" stroke-width="0.25">0.62</text>
<line x1="399.65" y1="527.5" x2="408.25" y2="527.5" stroke="#333333" stroke-width="2.8"/>
<text x="393.85" y="537.3" font-size="25.8" text-anchor="end" fill="#4D4D4D" stroke="#4D4D4D" stroke-width="0.25">0.61</text>
<line x1="399.65" y1="554.25" x2="408.25" y2="554.25" stroke="#333333" stroke-width="2.8"/>
<text x="393.85" y="564.05" font-size="25.8" text-anchor="end" fill="#4D4D4D" stroke="#4D4D4D" stroke-width="0.25">0.60</text>
<line x1="399.65" y1="581" x2="408.25" y2="581" stroke="#333333" stroke-width="2.8"/>
<text x="393.85" y="590.8" font-size="25.8" text-anchor="end" fill="#4D4D4D" stroke="#4D4D4D" stroke-width="0.25">0.59</text>
<line x1="418.53" y1="488.5" x2="480.19" y2="488.5" stroke="#666666" stroke-width="3.4"/>
<line x1="418.53" y1="533" x2="480.19" y2="533" stroke="#666666" stroke-width="3.4"/>
<line x1="449.36" y1="488.5" x2="449.36" y2="533" stroke="#666666" stroke-width="3.4"/>
<circle cx="449.36" cy="511.25" r="6.1" fill="#666666"/>
<line x1="487.04" y1="533" x2="548.71" y2="533" stroke="#2F96FB" stroke-width="3.4"/>
<line x1="487.04" y1="578.75" x2="548.71" y2="578.75" stroke="#2F96FB" stroke-width="3.4"/>
<line x1="517.88" y1="533" x2="517.88" y2="578.75" stroke="#2F96FB" stroke-width="3.4"/>
<rect x="511.88" y="550" width="12" height="12" fill="#2F96FB"/>
<line x1="555.56" y1="504.25" x2="617.22" y2="504.25" stroke="#FF9000" stroke-width="3.4"/>
<line x1="555.56" y1="549.75" x2="617.22" y2="549.75" stroke="#FF9000" stroke-width="3.4"/>
<line x1="586.39" y1="504.25" x2="586.39" y2="549.75" stroke="#FF9000" stroke-width="3.4"/>
<path d="M580.39 527L586.39 521L592.39 527L586.39 533Z" fill="#FF9000"/>
<line x1="457.66" y1="479.9" x2="509.48" y2="479.9" stroke="#000" stroke-width="3.8" stroke-linecap="round"/>
<text x="483.62" y="485" font-size="37" text-anchor="middle" fill="#000" stroke="#000" stroke-width="0.5" stroke-linejoin="round">*</text>
<rect x="708.25" y="406.5" width="219.25" height="48" fill="#D9D9D9" stroke="#333333" stroke-width="1.9"/>
<rect x="708.25" y="454.5" width="219.25" height="134.2" fill="#fff" stroke="#333333" stroke-width="1.9"/>
<line x1="707.3" y1="454.8" x2="928.45" y2="454.8" stroke="#333333" stroke-width="3"/>
<text x="817.88" y="439.7" font-size="25.4" text-anchor="middle" fill="#1A1A1A" stroke="#1A1A1A" stroke-width="0.25">SLF II (R)</text>
<line x1="699.65" y1="468.25" x2="708.25" y2="468.25" stroke="#333333" stroke-width="2.8"/>
<text x="693.85" y="478.05" font-size="25.8" text-anchor="end" fill="#4D4D4D" stroke="#4D4D4D" stroke-width="0.25">0.63</text>
<line x1="699.65" y1="496.25" x2="708.25" y2="496.25" stroke="#333333" stroke-width="2.8"/>
<text x="693.85" y="506.05" font-size="25.8" text-anchor="end" fill="#4D4D4D" stroke="#4D4D4D" stroke-width="0.25">0.62</text>
<line x1="699.65" y1="524.5" x2="708.25" y2="524.5" stroke="#333333" stroke-width="2.8"/>
<text x="693.85" y="534.3" font-size="25.8" text-anchor="end" fill="#4D4D4D" stroke="#4D4D4D" stroke-width="0.25">0.61</text>
<line x1="699.65" y1="552.75" x2="708.25" y2="552.75" stroke="#333333" stroke-width="2.8"/>
<text x="693.85" y="562.55" font-size="25.8" text-anchor="end" fill="#4D4D4D" stroke="#4D4D4D" stroke-width="0.25">0.60</text>
<line x1="699.65" y1="580.75" x2="708.25" y2="580.75" stroke="#333333" stroke-width="2.8"/>
<text x="693.85" y="590.55" font-size="25.8" text-anchor="end" fill="#4D4D4D" stroke="#4D4D4D" stroke-width="0.25">0.59</text>
<line x1="718.53" y1="488.5" x2="780.19" y2="488.5" stroke="#666666" stroke-width="3.4"/>
<line x1="718.53" y1="532.25" x2="780.19" y2="532.25" stroke="#666666" stroke-width="3.4"/>
<line x1="749.36" y1="488.5" x2="749.36" y2="532.25" stroke="#666666" stroke-width="3.4"/>
<circle cx="749.36" cy="510.75" r="6.1" fill="#666666"/>
<line x1="787.04" y1="533.75" x2="848.71" y2="533.75" stroke="#2F96FB" stroke-width="3.4"/>
<line x1="787.04" y1="578.75" x2="848.71" y2="578.75" stroke="#2F96FB" stroke-width="3.4"/>
<line x1="817.88" y1="533.75" x2="817.88" y2="578.75" stroke="#2F96FB" stroke-width="3.4"/>
<rect x="811.88" y="550.5" width="12" height="12" fill="#2F96FB"/>
<line x1="855.56" y1="520.75" x2="917.22" y2="520.75" stroke="#FF9000" stroke-width="3.4"/>
<line x1="855.56" y1="565.75" x2="917.22" y2="565.75" stroke="#FF9000" stroke-width="3.4"/>
<line x1="886.39" y1="520.75" x2="886.39" y2="565.75" stroke="#FF9000" stroke-width="3.4"/>
<path d="M880.39 543.25L886.39 537.25L892.39 543.25L886.39 549.25Z" fill="#FF9000"/>
<line x1="757.66" y1="479.9" x2="809.48" y2="479.9" stroke="#000" stroke-width="3.8" stroke-linecap="round"/>
<text x="783.62" y="485" font-size="37" text-anchor="middle" fill="#000" stroke="#000" stroke-width="0.5" stroke-linejoin="round">*</text>
<line x1="749.36" y1="588.7" x2="749.36" y2="597.1" stroke="#333333" stroke-width="2.8"/>
<text x="749.36" y="620.9" font-size="25.8" text-anchor="middle" fill="#4D4D4D" stroke="#4D4D4D" stroke-width="0.25">CTL</text>
<line x1="817.88" y1="588.7" x2="817.88" y2="597.1" stroke="#333333" stroke-width="2.8"/>
<text x="817.88" y="620.9" font-size="25.8" text-anchor="middle" fill="#4D4D4D" stroke="#4D4D4D" stroke-width="0.25">CHD</text>
<line x1="886.39" y1="588.7" x2="886.39" y2="597.1" stroke="#333333" stroke-width="2.8"/>
<text x="886.39" y="620.9" font-size="25.8" text-anchor="middle" fill="#4D4D4D" stroke="#4D4D4D" stroke-width="0.25">PT</text>
<rect x="1008.25" y="406.5" width="219.25" height="48" fill="#D9D9D9" stroke="#333333" stroke-width="1.9"/>
<rect x="1008.25" y="454.5" width="219.25" height="134.2" fill="#fff" stroke="#333333" stroke-width="1.9"/>
<line x1="1007.3" y1="454.8" x2="1228.45" y2="454.8" stroke="#333333" stroke-width="3"/>
<text x="1117.88" y="439.7" font-size="25.4" text-anchor="middle" fill="#1A1A1A" stroke="#1A1A1A" stroke-width="0.25">SLF III (L)</text>
<line x1="999.65" y1="473" x2="1008.25" y2="473" stroke="#333333" stroke-width="2.8"/>
<text x="993.85" y="482.8" font-size="25.8" text-anchor="end" fill="#4D4D4D" stroke="#4D4D4D" stroke-width="0.25">0.63</text>
<line x1="999.65" y1="499.5" x2="1008.25" y2="499.5" stroke="#333333" stroke-width="2.8"/>
<text x="993.85" y="509.3" font-size="25.8" text-anchor="end" fill="#4D4D4D" stroke="#4D4D4D" stroke-width="0.25">0.62</text>
<line x1="999.65" y1="525.75" x2="1008.25" y2="525.75" stroke="#333333" stroke-width="2.8"/>
<text x="993.85" y="535.55" font-size="25.8" text-anchor="end" fill="#4D4D4D" stroke="#4D4D4D" stroke-width="0.25">0.61</text>
<line x1="999.65" y1="552.25" x2="1008.25" y2="552.25" stroke="#333333" stroke-width="2.8"/>
<text x="993.85" y="562.05" font-size="25.8" text-anchor="end" fill="#4D4D4D" stroke="#4D4D4D" stroke-width="0.25">0.60</text>
<line x1="999.65" y1="578.75" x2="1008.25" y2="578.75" stroke="#333333" stroke-width="2.8"/>
<text x="993.85" y="588.55" font-size="25.8" text-anchor="end" fill="#4D4D4D" stroke="#4D4D4D" stroke-width="0.25">0.59</text>
<line x1="1018.53" y1="488.5" x2="1080.19" y2="488.5" stroke="#666666" stroke-width="3.4"/>
<line x1="1018.53" y1="532.5" x2="1080.19" y2="532.5" stroke="#666666" stroke-width="3.4"/>
<line x1="1049.36" y1="488.5" x2="1049.36" y2="532.5" stroke="#666666" stroke-width="3.4"/>
<circle cx="1049.36" cy="511" r="6.1" fill="#666666"/>
<line x1="1087.04" y1="533.5" x2="1148.71" y2="533.5" stroke="#2F96FB" stroke-width="3.4"/>
<line x1="1087.04" y1="578.75" x2="1148.71" y2="578.75" stroke="#2F96FB" stroke-width="3.4"/>
<line x1="1117.88" y1="533.5" x2="1117.88" y2="578.75" stroke="#2F96FB" stroke-width="3.4"/>
<rect x="1111.88" y="550.25" width="12" height="12" fill="#2F96FB"/>
<line x1="1155.56" y1="489" x2="1217.22" y2="489" stroke="#FF9000" stroke-width="3.4"/>
<line x1="1155.56" y1="534" x2="1217.22" y2="534" stroke="#FF9000" stroke-width="3.4"/>
<line x1="1186.39" y1="489" x2="1186.39" y2="534" stroke="#FF9000" stroke-width="3.4"/>
<path d="M1180.39 511.75L1186.39 505.75L1192.39 511.75L1186.39 517.75Z" fill="#FF9000"/>
<line x1="1057.66" y1="479.9" x2="1109.47" y2="479.9" stroke="#000" stroke-width="3.8" stroke-linecap="round"/>
<text x="1083.62" y="485" font-size="37" text-anchor="middle" fill="#000" stroke="#000" stroke-width="0.5" stroke-linejoin="round">*</text>
<line x1="1049.36" y1="588.7" x2="1049.36" y2="597.1" stroke="#333333" stroke-width="2.8"/>
<text x="1049.36" y="620.9" font-size="25.8" text-anchor="middle" fill="#4D4D4D" stroke="#4D4D4D" stroke-width="0.25">CTL</text>
<line x1="1117.88" y1="588.7" x2="1117.88" y2="597.1" stroke="#333333" stroke-width="2.8"/>
<text x="1117.88" y="620.9" font-size="25.8" text-anchor="middle" fill="#4D4D4D" stroke="#4D4D4D" stroke-width="0.25">CHD</text>
<line x1="1186.39" y1="588.7" x2="1186.39" y2="597.1" stroke="#333333" stroke-width="2.8"/>
<text x="1186.39" y="620.9" font-size="25.8" text-anchor="middle" fill="#4D4D4D" stroke="#4D4D4D" stroke-width="0.25">PT</text>
<rect x="1308" y="406.5" width="219.25" height="48" fill="#D9D9D9" stroke="#333333" stroke-width="1.9"/>
<rect x="1308" y="454.5" width="219.25" height="134.2" fill="#fff" stroke="#333333" stroke-width="1.9"/>
<line x1="1307.05" y1="454.8" x2="1528.2" y2="454.8" stroke="#333333" stroke-width="3"/>
<text x="1417.62" y="439.7" font-size="25.4" text-anchor="middle" fill="#1A1A1A" stroke="#1A1A1A" stroke-width="0.25">SLF III (R)</text>
<line x1="1299.4" y1="469" x2="1308" y2="469" stroke="#333333" stroke-width="2.8"/>
<text x="1293.6" y="478.8" font-size="25.8" text-anchor="end" fill="#4D4D4D" stroke="#4D4D4D" stroke-width="0.25">0.62</text>
<line x1="1299.4" y1="498.5" x2="1308" y2="498.5" stroke="#333333" stroke-width="2.8"/>
<text x="1293.6" y="508.3" font-size="25.8" text-anchor="end" fill="#4D4D4D" stroke="#4D4D4D" stroke-width="0.25">0.61</text>
<line x1="1299.4" y1="528" x2="1308" y2="528" stroke="#333333" stroke-width="2.8"/>
<text x="1293.6" y="537.8" font-size="25.8" text-anchor="end" fill="#4D4D4D" stroke="#4D4D4D" stroke-width="0.25">0.60</text>
<line x1="1299.4" y1="557.75" x2="1308" y2="557.75" stroke="#333333" stroke-width="2.8"/>
<text x="1293.6" y="567.55" font-size="25.8" text-anchor="end" fill="#4D4D4D" stroke="#4D4D4D" stroke-width="0.25">0.59</text>
<line x1="1299.4" y1="587.25" x2="1308" y2="587.25" stroke="#333333" stroke-width="2.8"/>
<text x="1293.6" y="597.05" font-size="25.8" text-anchor="end" fill="#4D4D4D" stroke="#4D4D4D" stroke-width="0.25">0.58</text>
<line x1="1318.28" y1="488.5" x2="1379.94" y2="488.5" stroke="#666666" stroke-width="3.4"/>
<line x1="1318.28" y1="534.25" x2="1379.94" y2="534.25" stroke="#666666" stroke-width="3.4"/>
<line x1="1349.11" y1="488.5" x2="1349.11" y2="534.25" stroke="#666666" stroke-width="3.4"/>
<circle cx="1349.11" cy="511.75" r="6.1" fill="#666666"/>
<line x1="1386.79" y1="531.5" x2="1448.46" y2="531.5" stroke="#2F96FB" stroke-width="3.4"/>
<line x1="1386.79" y1="578.75" x2="1448.46" y2="578.75" stroke="#2F96FB" stroke-width="3.4"/>
<line x1="1417.62" y1="531.5" x2="1417.62" y2="578.75" stroke="#2F96FB" stroke-width="3.4"/>
<rect x="1411.62" y="549.25" width="12" height="12" fill="#2F96FB"/>
<line x1="1455.31" y1="516.75" x2="1516.97" y2="516.75" stroke="#FF9000" stroke-width="3.4"/>
<line x1="1455.31" y1="564" x2="1516.97" y2="564" stroke="#FF9000" stroke-width="3.4"/>
<line x1="1486.14" y1="516.75" x2="1486.14" y2="564" stroke="#FF9000" stroke-width="3.4"/>
<path d="M1480.14 540.5L1486.14 534.5L1492.14 540.5L1486.14 546.5Z" fill="#FF9000"/>
<line x1="1357.41" y1="479.9" x2="1409.22" y2="479.9" stroke="#000" stroke-width="3.8" stroke-linecap="round"/>
<text x="1383.37" y="485" font-size="37" text-anchor="middle" fill="#000" stroke="#000" stroke-width="0.5" stroke-linejoin="round">*</text>
<line x1="1349.11" y1="588.7" x2="1349.11" y2="597.1" stroke="#333333" stroke-width="2.8"/>
<text x="1349.11" y="620.9" font-size="25.8" text-anchor="middle" fill="#4D4D4D" stroke="#4D4D4D" stroke-width="0.25">CTL</text>
<line x1="1417.62" y1="588.7" x2="1417.62" y2="597.1" stroke="#333333" stroke-width="2.8"/>
<text x="1417.62" y="620.9" font-size="25.8" text-anchor="middle" fill="#4D4D4D" stroke="#4D4D4D" stroke-width="0.25">CHD</text>
<line x1="1486.14" y1="588.7" x2="1486.14" y2="597.1" stroke="#333333" stroke-width="2.8"/>
<text x="1486.14" y="620.9" font-size="25.8" text-anchor="middle" fill="#4D4D4D" stroke="#4D4D4D" stroke-width="0.25">PT</text>
<rect x="108.25" y="606.3" width="219.25" height="48" fill="#D9D9D9" stroke="#333333" stroke-width="1.9"/>
<rect x="108.25" y="654.3" width="219.25" height="134.2" fill="#fff" stroke="#333333" stroke-width="1.9"/>
<line x1="107.3" y1="654.6" x2="328.45" y2="654.6" stroke="#333333" stroke-width="3"/>
<text x="217.88" y="639.5" font-size="25.4" text-anchor="middle" fill="#1A1A1A" stroke="#1A1A1A" stroke-width="0.25">UF (L)</text>
<line x1="99.65" y1="684" x2="108.25" y2="684" stroke="#333333" stroke-width="2.8"/>
<text x="93.85" y="693.8" font-size="25.8" text-anchor="end" fill="#4D4D4D" stroke="#4D4D4D" stroke-width="0.25">0.52</text>
<line x1="99.65" y1="725" x2="108.25" y2="725" stroke="#333333" stroke-width="2.8"/>
<text x="93.85" y="734.8" font-size="25.8" text-anchor="end" fill="#4D4D4D" stroke="#4D4D4D" stroke-width="0.25">0.50</text>
<line x1="99.65" y1="766" x2="108.25" y2="766" stroke="#333333" stroke-width="2.8"/>
<text x="93.85" y="775.8" font-size="25.8" text-anchor="end" fill="#4D4D4D" stroke="#4D4D4D" stroke-width="0.25">0.48</text>
<line x1="118.53" y1="707.75" x2="180.19" y2="707.75" stroke="#666666" stroke-width="3.4"/>
<line x1="118.53" y1="738" x2="180.19" y2="738" stroke="#666666" stroke-width="3.4"/>
<line x1="149.36" y1="707.75" x2="149.36" y2="738" stroke="#666666" stroke-width="3.4"/>
<circle cx="149.36" cy="723.5" r="6.1" fill="#666666"/>
<line x1="187.04" y1="742" x2="248.71" y2="742" stroke="#2F96FB" stroke-width="3.4"/>
<line x1="187.04" y1="772.75" x2="248.71" y2="772.75" stroke="#2F96FB" stroke-width="3.4"/>
<line x1="217.88" y1="742" x2="217.88" y2="772.75" stroke="#2F96FB" stroke-width="3.4"/>
<rect x="211.88" y="751.5" width="12" height="12" fill="#2F96FB"/>
<line x1="255.56" y1="746" x2="317.22" y2="746" stroke="#FF9000" stroke-width="3.4"/>
<line x1="255.56" y1="778.75" x2="317.22" y2="778.75" stroke="#FF9000" stroke-width="3.4"/>
<line x1="286.39" y1="746" x2="286.39" y2="778.75" stroke="#FF9000" stroke-width="3.4"/>
<path d="M280.39 762.25L286.39 756.25L292.39 762.25L286.39 768.25Z" fill="#FF9000"/>
<line x1="157.66" y1="678.3" x2="277.59" y2="678.3" stroke="#000" stroke-width="3.8" stroke-linecap="round"/>
<text x="217.88" y="684.2" font-size="37" text-anchor="middle" fill="#000" stroke="#000" stroke-width="0.5" stroke-linejoin="round">*</text>
<line x1="157.66" y1="700.8" x2="209.47" y2="700.8" stroke="#000" stroke-width="3.8" stroke-linecap="round"/>
<text x="183.62" y="707.1" font-size="37" text-anchor="middle" fill="#000" stroke="#000" stroke-width="0.5" stroke-linejoin="round">*</text>
<line x1="149.36" y1="788.5" x2="149.36" y2="796.9" stroke="#333333" stroke-width="2.8"/>
<text x="149.36" y="820.7" font-size="25.8" text-anchor="middle" fill="#4D4D4D" stroke="#4D4D4D" stroke-width="0.25">CTL</text>
<line x1="217.88" y1="788.5" x2="217.88" y2="796.9" stroke="#333333" stroke-width="2.8"/>
<text x="217.88" y="820.7" font-size="25.8" text-anchor="middle" fill="#4D4D4D" stroke="#4D4D4D" stroke-width="0.25">CHD</text>
<line x1="286.39" y1="788.5" x2="286.39" y2="796.9" stroke="#333333" stroke-width="2.8"/>
<text x="286.39" y="820.7" font-size="25.8" text-anchor="middle" fill="#4D4D4D" stroke="#4D4D4D" stroke-width="0.25">PT</text>
<rect x="408.25" y="606.3" width="219.25" height="48" fill="#D9D9D9" stroke="#333333" stroke-width="1.9"/>
<rect x="408.25" y="654.3" width="219.25" height="134.2" fill="#fff" stroke="#333333" stroke-width="1.9"/>
<line x1="407.3" y1="654.6" x2="628.45" y2="654.6" stroke="#333333" stroke-width="3"/>
<text x="517.88" y="639.5" font-size="25.4" text-anchor="middle" fill="#1A1A1A" stroke="#1A1A1A" stroke-width="0.25">UF (R)</text>
<line x1="399.65" y1="691.25" x2="408.25" y2="691.25" stroke="#333333" stroke-width="2.8"/>
<text x="393.85" y="701.05" font-size="25.8" text-anchor="end" fill="#4D4D4D" stroke="#4D4D4D" stroke-width="0.25">0.50</text>
<line x1="399.65" y1="736.25" x2="408.25" y2="736.25" stroke="#333333" stroke-width="2.8"/>
<text x="393.85" y="746.05" font-size="25.8" text-anchor="end" fill="#4D4D4D" stroke="#4D4D4D" stroke-width="0.25">0.48</text>
<line x1="399.65" y1="781.5" x2="408.25" y2="781.5" stroke="#333333" stroke-width="2.8"/>
<text x="393.85" y="791.3" font-size="25.8" text-anchor="end" fill="#4D4D4D" stroke="#4D4D4D" stroke-width="0.25">0.46</text>
<line x1="418.53" y1="707.75" x2="480.19" y2="707.75" stroke="#666666" stroke-width="3.4"/>
<line x1="418.53" y1="738.75" x2="480.19" y2="738.75" stroke="#666666" stroke-width="3.4"/>
<line x1="449.36" y1="707.75" x2="449.36" y2="738.75" stroke="#666666" stroke-width="3.4"/>
<circle cx="449.36" cy="723.75" r="6.1" fill="#666666"/>
<line x1="487.04" y1="743.5" x2="548.71" y2="743.5" stroke="#2F96FB" stroke-width="3.4"/>
<line x1="487.04" y1="775.25" x2="548.71" y2="775.25" stroke="#2F96FB" stroke-width="3.4"/>
<line x1="517.88" y1="743.5" x2="517.88" y2="775.25" stroke="#2F96FB" stroke-width="3.4"/>
<rect x="511.88" y="753.5" width="12" height="12" fill="#2F96FB"/>
<line x1="555.56" y1="744.75" x2="617.22" y2="744.75" stroke="#FF9000" stroke-width="3.4"/>
<line x1="555.56" y1="778.75" x2="617.22" y2="778.75" stroke="#FF9000" stroke-width="3.4"/>
<line x1="586.39" y1="744.75" x2="586.39" y2="778.75" stroke="#FF9000" stroke-width="3.4"/>
<path d="M580.39 761.75L586.39 755.75L592.39 761.75L586.39 767.75Z" fill="#FF9000"/>
<line x1="457.66" y1="678.3" x2="577.59" y2="678.3" stroke="#000" stroke-width="3.8" stroke-linecap="round"/>
<text x="517.88" y="684.2" font-size="37" text-anchor="middle" fill="#000" stroke="#000" stroke-width="0.5" stroke-linejoin="round">*</text>
<line x1="457.66" y1="700.8" x2="509.48" y2="700.8" stroke="#000" stroke-width="3.8" stroke-linecap="round"/>
<text x="483.62" y="707.1" font-size="37" text-anchor="middle" fill="#000" stroke="#000" stroke-width="0.5" stroke-linejoin="round">*</text>
<line x1="449.36" y1="788.5" x2="449.36" y2="796.9" stroke="#333333" stroke-width="2.8"/>
<text x="449.36" y="820.7" font-size="25.8" text-anchor="middle" fill="#4D4D4D" stroke="#4D4D4D" stroke-width="0.25">CTL</text>
<line x1="517.88" y1="788.5" x2="517.88" y2="796.9" stroke="#333333" stroke-width="2.8"/>
<text x="517.88" y="820.7" font-size="25.8" text-anchor="middle" fill="#4D4D4D" stroke="#4D4D4D" stroke-width="0.25">CHD</text>
<line x1="586.39" y1="788.5" x2="586.39" y2="796.9" stroke="#333333" stroke-width="2.8"/>
<text x="586.39" y="820.7" font-size="25.8" text-anchor="middle" fill="#4D4D4D" stroke="#4D4D4D" stroke-width="0.25">PT</text>
<text x="817.7" y="858.4" font-size="32" text-anchor="middle" fill="#000" font-weight="bold">Group</text>
<text x="0" y="0" font-size="32" text-anchor="middle" fill="#000" font-weight="bold" transform="translate(29.4 422) rotate(-90)">NDI</text>
<text x="8.4" y="35.5" font-size="36" text-anchor="start" fill="#000" font-weight="bold">A</text>
<rect x="108" y="897.5" width="217" height="48" fill="#D9D9D9" stroke="#333333" stroke-width="1.9"/>
<rect x="108" y="945.5" width="217" height="128.3" fill="#fff" stroke="#333333" stroke-width="1.9"/>
<line x1="107.05" y1="945.8" x2="325.95" y2="945.8" stroke="#333333" stroke-width="3"/>
<text x="216.5" y="930.7" font-size="25.4" text-anchor="middle" fill="#1A1A1A" stroke="#1A1A1A" stroke-width="0.25">AF (L)</text>
<line x1="99.4" y1="966" x2="108" y2="966" stroke="#333333" stroke-width="2.8"/>
<text x="93.6" y="975.8" font-size="25.8" text-anchor="end" fill="#4D4D4D" stroke="#4D4D4D" stroke-width="0.25">0.70</text>
<line x1="99.4" y1="990.75" x2="108" y2="990.75" stroke="#333333" stroke-width="2.8"/>
<text x="93.6" y="1000.55" font-size="25.8" text-anchor="end" fill="#4D4D4D" stroke="#4D4D4D" stroke-width="0.25">0.65</text>
<line x1="99.4" y1="1015.5" x2="108" y2="1015.5" stroke="#333333" stroke-width="2.8"/>
<text x="93.6" y="1025.3" font-size="25.8" text-anchor="end" fill="#4D4D4D" stroke="#4D4D4D" stroke-width="0.25">0.60</text>
<line x1="99.4" y1="1040.25" x2="108" y2="1040.25" stroke="#333333" stroke-width="2.8"/>
<text x="93.6" y="1050.05" font-size="25.8" text-anchor="end" fill="#4D4D4D" stroke="#4D4D4D" stroke-width="0.25">0.55</text>
<line x1="99.4" y1="1065.25" x2="108" y2="1065.25" stroke="#333333" stroke-width="2.8"/>
<text x="93.6" y="1075.05" font-size="25.8" text-anchor="end" fill="#4D4D4D" stroke="#4D4D4D" stroke-width="0.25">0.50</text>
<line x1="133.04" y1="1073.8" x2="133.04" y2="1082.2" stroke="#333333" stroke-width="2.8"/>
<text x="133.04" y="1106" font-size="25.8" text-anchor="middle" fill="#4D4D4D" stroke="#4D4D4D" stroke-width="0.25">1</text>
<line x1="174.77" y1="1073.8" x2="174.77" y2="1082.2" stroke="#333333" stroke-width="2.8"/>
<text x="174.77" y="1106" font-size="25.8" text-anchor="middle" fill="#4D4D4D" stroke="#4D4D4D" stroke-width="0.25">2</text>
<line x1="216.5" y1="1073.8" x2="216.5" y2="1082.2" stroke="#333333" stroke-width="2.8"/>
<text x="216.5" y="1106" font-size="25.8" text-anchor="middle" fill="#4D4D4D" stroke="#4D4D4D" stroke-width="0.25">3</text>
<line x1="258.23" y1="1073.8" x2="258.23" y2="1082.2" stroke="#333333" stroke-width="2.8"/>
<text x="258.23" y="1106" font-size="25.8" text-anchor="middle" fill="#4D4D4D" stroke="#4D4D4D" stroke-width="0.25">4</text>
<line x1="299.96" y1="1073.8" x2="299.96" y2="1082.2" stroke="#333333" stroke-width="2.8"/>
<text x="299.96" y="1106" font-size="25.8" text-anchor="middle" fill="#4D4D4D" stroke="#4D4D4D" stroke-width="0.25">5</text>
<circle cx="133.04" cy="1051" r="6.1" fill="#666666"/>
<circle cx="174.77" cy="1010.5" r="6.1" fill="#666666"/>
<circle cx="216.5" cy="980.5" r="6.1" fill="#666666"/>
<circle cx="258.23" cy="1005" r="6.1" fill="#666666"/>
<circle cx="299.96" cy="1048" r="6.1" fill="#666666"/>
<rect x="127.04" y="1052.75" width="12" height="12" fill="#2F96FB"/>
<rect x="168.77" y="1016.5" width="12" height="12" fill="#2F96FB"/>
<rect x="210.5" y="984" width="12" height="12" fill="#2F96FB"/>
<rect x="252.23" y="1005" width="12" height="12" fill="#2F96FB"/>
<rect x="293.96" y="1049" width="12" height="12" fill="#2F96FB"/>
<path d="M127.04 1048L133.04 1042L139.04 1048L133.04 1054Z" fill="#FF9000"/>
<path d="M168.77 1011L174.77 1005L180.77 1011L174.77 1017Z" fill="#FF9000"/>
<path d="M210.5 978.75L216.5 972.75L222.5 978.75L216.5 984.75Z" fill="#FF9000"/>
<path d="M252.23 1006L258.23 1000L264.23 1006L258.23 1012Z" fill="#FF9000"/>
<path d="M293.96 1048L299.96 1042L305.96 1048L299.96 1054Z" fill="#FF9000"/>
<polyline points="133.04,1051 174.77,1010.5 216.5,980.5 258.23,1005 299.96,1048" fill="none" stroke="#666666" stroke-width="3.3" stroke-linejoin="round"/>
<polyline points="133.04,1058.75 174.77,1022.5 216.5,990 258.23,1011 299.96,1055" fill="none" stroke="#2F96FB" stroke-width="3.3" stroke-linejoin="round" stroke-dasharray="4.8 4.8"/>
<polyline points="133.04,1048 174.77,1011 216.5,978.75 258.23,1006 299.96,1048" fill="none" stroke="#FF9000" stroke-width="3.3" stroke-linejoin="round" stroke-dasharray="10.5 4.5"/>
<path d="M128.84 1048H137.24H133.04V1054H128.84H137.24" fill="none" stroke="#666666" stroke-width="2.9"/>
<path d="M170.57 1007.5H178.97H174.77V1013.5H170.57H178.97" fill="none" stroke="#666666" stroke-width="2.9"/>
<path d="M212.3 977.5H220.7H216.5V983.5H212.3H220.7" fill="none" stroke="#666666" stroke-width="2.9"/>
<path d="M254.03 1002H262.43H258.23V1008H254.03H262.43" fill="none" stroke="#666666" stroke-width="2.9"/>
<path d="M295.76 1045H304.16H299.96V1051H295.76H304.16" fill="none" stroke="#666666" stroke-width="2.9"/>
<path d="M128.84 1055.25H137.24H133.04V1062.25H128.84H137.24" fill="none" stroke="#2F96FB" stroke-width="2.9" stroke-dasharray="4.8 4.8"/>
<path d="M170.57 1019H178.97H174.77V1026H170.57H178.97" fill="none" stroke="#2F96FB" stroke-width="2.9" stroke-dasharray="4.8 4.8"/>
<path d="M212.3 986.5H220.7H216.5V993.5H212.3H220.7" fill="none" stroke="#2F96FB" stroke-width="2.9" stroke-dasharray="4.8 4.8"/>
<path d="M254.03 1007.5H262.43H258.23V1014.5H254.03H262.43" fill="none" stroke="#2F96FB" stroke-width="2.9" stroke-dasharray="4.8 4.8"/>
<path d="M295.76 1051.5H304.16H299.96V1058.5H295.76H304.16" fill="none" stroke="#2F96FB" stroke-width="2.9" stroke-dasharray="4.8 4.8"/>
<path d="M128.84 1044.5H137.24H133.04V1051.5H128.84H137.24" fill="none" stroke="#FF9000" stroke-width="2.9" stroke-dasharray="10.5 4.5"/>
<path d="M170.57 1007.5H178.97H174.77V1014.5H170.57H178.97" fill="none" stroke="#FF9000" stroke-width="2.9" stroke-dasharray="10.5 4.5"/>
<path d="M212.3 975.25H220.7H216.5V982.25H212.3H220.7" fill="none" stroke="#FF9000" stroke-width="2.9" stroke-dasharray="10.5 4.5"/>
<path d="M254.03 1002.5H262.43H258.23V1009.5H254.03H262.43" fill="none" stroke="#FF9000" stroke-width="2.9" stroke-dasharray="10.5 4.5"/>
<path d="M295.76 1044.5H304.16H299.96V1051.5H295.76H304.16" fill="none" stroke="#FF9000" stroke-width="2.9" stroke-dasharray="10.5 4.5"/>
<text x="174.77" y="1008.9" font-size="37" text-anchor="middle" fill="#000" stroke="#000" stroke-width="0.5" stroke-linejoin="round">*</text>
<text x="216.5" y="975.9" font-size="37" text-anchor="middle" fill="#000" stroke="#000" stroke-width="0.5" stroke-linejoin="round">*</text>
<rect x="405.75" y="897.5" width="216" height="48" fill="#D9D9D9" stroke="#333333" stroke-width="1.9"/>
<rect x="405.75" y="945.5" width="216" height="128.3" fill="#fff" stroke="#333333" stroke-width="1.9"/>
<line x1="404.8" y1="945.8" x2="622.7" y2="945.8" stroke="#333333" stroke-width="3"/>
<text x="513.75" y="930.7" font-size="25.4" text-anchor="middle" fill="#1A1A1A" stroke="#1A1A1A" stroke-width="0.25">AF (R)</text>
<line x1="397.15" y1="947.75" x2="405.75" y2="947.75" stroke="#333333" stroke-width="2.8"/>
<text x="391.35" y="957.55" font-size="25.8" text-anchor="end" fill="#4D4D4D" stroke="#4D4D4D" stroke-width="0.25">0.75</text>
<line x1="397.15" y1="968.75" x2="405.75" y2="968.75" stroke="#333333" stroke-width="2.8"/>
<text x="391.35" y="978.55" font-size="25.8" text-anchor="end" fill="#4D4D4D" stroke="#4D4D4D" stroke-width="0.25">0.70</text>
<line x1="397.15" y1="989.5" x2="405.75" y2="989.5" stroke="#333333" stroke-width="2.8"/>
<text x="391.35" y="999.3" font-size="25.8" text-anchor="end" fill="#4D4D4D" stroke="#4D4D4D" stroke-width="0.25">0.65</text>
<line x1="397.15" y1="1010.25" x2="405.75" y2="1010.25" stroke="#333333" stroke-width="2.8"/>
<text x="391.35" y="1020.05" font-size="25.8" text-anchor="end" fill="#4D4D4D" stroke="#4D4D4D" stroke-width="0.25">0.60</text>
<line x1="397.15" y1="1031.25" x2="405.75" y2="1031.25" stroke="#333333" stroke-width="2.8"/>
<text x="391.35" y="1041.05" font-size="25.8" text-anchor="end" fill="#4D4D4D" stroke="#4D4D4D" stroke-width="0.25">0.55</text>
<line x1="397.15" y1="1052" x2="405.75" y2="1052" stroke="#333333" stroke-width="2.8"/>
<text x="391.35" y="1061.8" font-size="25.8" text-anchor="end" fill="#4D4D4D" stroke="#4D4D4D" stroke-width="0.25">0.50</text>
<line x1="397.15" y1="1072.75" x2="405.75" y2="1072.75" stroke="#333333" stroke-width="2.8"/>
<text x="391.35" y="1082.55" font-size="25.8" text-anchor="end" fill="#4D4D4D" stroke="#4D4D4D" stroke-width="0.25">0.45</text>
<line x1="430.67" y1="1073.8" x2="430.67" y2="1082.2" stroke="#333333" stroke-width="2.8"/>
<text x="430.67" y="1106" font-size="25.8" text-anchor="middle" fill="#4D4D4D" stroke="#4D4D4D" stroke-width="0.25">1</text>
<line x1="472.21" y1="1073.8" x2="472.21" y2="1082.2" stroke="#333333" stroke-width="2.8"/>
<text x="472.21" y="1106" font-size="25.8" text-anchor="middle" fill="#4D4D4D" stroke="#4D4D4D" stroke-width="0.25">2</text>
<line x1="513.75" y1="1073.8" x2="513.75" y2="1082.2" stroke="#333333" stroke-width="2.8"/>
<text x="513.75" y="1106" font-size="25.8" text-anchor="middle" fill="#4D4D4D" stroke="#4D4D4D" stroke-width="0.25">3</text>
<line x1="555.29" y1="1073.8" x2="555.29" y2="1082.2" stroke="#333333" stroke-width="2.8"/>
<text x="555.29" y="1106" font-size="25.8" text-anchor="middle" fill="#4D4D4D" stroke="#4D4D4D" stroke-width="0.25">4</text>
<line x1="596.83" y1="1073.8" x2="596.83" y2="1082.2" stroke="#333333" stroke-width="2.8"/>
<text x="596.83" y="1106" font-size="25.8" text-anchor="middle" fill="#4D4D4D" stroke="#4D4D4D" stroke-width="0.25">5</text>
<circle cx="430.67" cy="1052.5" r="6.1" fill="#666666"/>
<circle cx="472.21" cy="1008" r="6.1" fill="#666666"/>
<circle cx="513.75" cy="988.75" r="6.1" fill="#666666"/>
<circle cx="555.29" cy="1007.5" r="6.1" fill="#666666"/>
<circle cx="596.83" cy="1047.5" r="6.1" fill="#666666"/>
<rect x="424.67" y="1052.75" width="12" height="12" fill="#2F96FB"/>
<rect x="466.21" y="1010.25" width="12" height="12" fill="#2F96FB"/>
<rect x="507.75" y="991.5" width="12" height="12" fill="#2F96FB"/>
<rect x="549.29" y="1007" width="12" height="12" fill="#2F96FB"/>
<rect x="590.83" y="1044.5" width="12" height="12" fill="#2F96FB"/>
<path d="M424.67 1047L430.67 1041L436.67 1047L430.67 1053Z" fill="#FF9000"/>
<path d="M466.21 1011.25L472.21 1005.25L478.21 1011.25L472.21 1017.25Z" fill="#FF9000"/>
<path d="M507.75 997.5L513.75 991.5L519.75 997.5L513.75 1003.5Z" fill="#FF9000"/>
<path d="M549.29 1010.5L555.29 1004.5L561.29 1010.5L555.29 1016.5Z" fill="#FF9000"/>
<path d="M590.83 1046.25L596.83 1040.25L602.83 1046.25L596.83 1052.25Z" fill="#FF9000"/>
<polyline points="430.67,1052.5 472.21,1008 513.75,988.75 555.29,1007.5 596.83,1047.5" fill="none" stroke="#666666" stroke-width="3.3" stroke-linejoin="round"/>
<polyline points="430.67,1058.75 472.21,1016.25 513.75,997.5 555.29,1013 596.83,1050.5" fill="none" stroke="#2F96FB" stroke-width="3.3" stroke-linejoin="round" stroke-dasharray="4.8 4.8"/>
<polyline points="430.67,1047 472.21,1011.25 513.75,997.5 555.29,1010.5 596.83,1046.25" fill="none" stroke="#FF9000" stroke-width="3.3" stroke-linejoin="round" stroke-dasharray="10.5 4.5"/>
<path d="M426.47 1048.5H434.87H430.67V1056.5H426.47H434.87" fill="none" stroke="#666666" stroke-width="2.9"/>
<path d="M468.01 1005H476.41H472.21V1011H468.01H476.41" fill="none" stroke="#666666" stroke-width="2.9"/>
<path d="M509.55 985.75H517.95H513.75V991.75H509.55H517.95" fill="none" stroke="#666666" stroke-width="2.9"/>
<path d="M551.09 1004.5H559.49H555.29V1010.5H551.09H559.49" fill="none" stroke="#666666" stroke-width="2.9"/>
<path d="M592.63 1044.5H601.03H596.83V1050.5H592.63H601.03" fill="none" stroke="#666666" stroke-width="2.9"/>
<path d="M426.47 1053.75H434.87H430.67V1063.75H426.47H434.87" fill="none" stroke="#2F96FB" stroke-width="2.9" stroke-dasharray="4.8 4.8"/>
<path d="M468.01 1012.75H476.41H472.21V1019.75H468.01H476.41" fill="none" stroke="#2F96FB" stroke-width="2.9" stroke-dasharray="4.8 4.8"/>
<path d="M509.55 994H517.95H513.75V1001H509.55H517.95" fill="none" stroke="#2F96FB" stroke-width="2.9" stroke-dasharray="4.8 4.8"/>
<path d="M551.09 1009.5H559.49H555.29V1016.5H551.09H559.49" fill="none" stroke="#2F96FB" stroke-width="2.9" stroke-dasharray="4.8 4.8"/>
<path d="M592.63 1047H601.03H596.83V1054H592.63H601.03" fill="none" stroke="#2F96FB" stroke-width="2.9" stroke-dasharray="4.8 4.8"/>
<path d="M426.47 1042H434.87H430.67V1052H426.47H434.87" fill="none" stroke="#FF9000" stroke-width="2.9" stroke-dasharray="10.5 4.5"/>
<path d="M468.01 1007.75H476.41H472.21V1014.75H468.01H476.41" fill="none" stroke="#FF9000" stroke-width="2.9" stroke-dasharray="10.5 4.5"/>
<path d="M509.55 994H517.95H513.75V1001H509.55H517.95" fill="none" stroke="#FF9000" stroke-width="2.9" stroke-dasharray="10.5 4.5"/>
<path d="M551.09 1007H559.49H555.29V1014H551.09H559.49" fill="none" stroke="#FF9000" stroke-width="2.9" stroke-dasharray="10.5 4.5"/>
<path d="M592.63 1042.75H601.03H596.83V1049.75H592.63H601.03" fill="none" stroke="#FF9000" stroke-width="2.9" stroke-dasharray="10.5 4.5"/>
<text x="472.21" y="1006.9" font-size="37" text-anchor="middle" fill="#000" stroke="#000" stroke-width="0.5" stroke-linejoin="round">*</text>
<text x="513.75" y="975.15" font-size="37" text-anchor="middle" fill="#000" stroke="#000" stroke-width="0.5" stroke-linejoin="round">*</text>
<text x="513.75" y="981.55" font-size="22" text-anchor="middle" fill="#000" stroke="#000" stroke-width="0.3">#</text>
<rect x="702.5" y="897.5" width="217" height="48" fill="#D9D9D9" stroke="#333333" stroke-width="1.9"/>
<rect x="702.5" y="945.5" width="217" height="128.3" fill="#fff" stroke="#333333" stroke-width="1.9"/>
<line x1="701.55" y1="945.8" x2="920.45" y2="945.8" stroke="#333333" stroke-width="3"/>
<text x="811" y="930.7" font-size="25.4" text-anchor="middle" fill="#1A1A1A" stroke="#1A1A1A" stroke-width="0.25">CC Rostral body</text>
<line x1="693.9" y1="973.25" x2="702.5" y2="973.25" stroke="#333333" stroke-width="2.8"/>
<text x="688.1" y="983.05" font-size="25.8" text-anchor="end" fill="#4D4D4D" stroke="#4D4D4D" stroke-width="0.25">0.63</text>
<line x1="693.9" y1="1004.5" x2="702.5" y2="1004.5" stroke="#333333" stroke-width="2.8"/>
<text x="688.1" y="1014.3" font-size="25.8" text-anchor="end" fill="#4D4D4D" stroke="#4D4D4D" stroke-width="0.25">0.60</text>
<line x1="693.9" y1="1036" x2="702.5" y2="1036" stroke="#333333" stroke-width="2.8"/>
<text x="688.1" y="1045.8" font-size="25.8" text-anchor="end" fill="#4D4D4D" stroke="#4D4D4D" stroke-width="0.25">0.57</text>
<line x1="693.9" y1="1067.5" x2="702.5" y2="1067.5" stroke="#333333" stroke-width="2.8"/>
<text x="688.1" y="1077.3" font-size="25.8" text-anchor="end" fill="#4D4D4D" stroke="#4D4D4D" stroke-width="0.25">0.54</text>
<line x1="727.54" y1="1073.8" x2="727.54" y2="1082.2" stroke="#333333" stroke-width="2.8"/>
<text x="727.54" y="1106" font-size="25.8" text-anchor="middle" fill="#4D4D4D" stroke="#4D4D4D" stroke-width="0.25">1</text>
<line x1="769.27" y1="1073.8" x2="769.27" y2="1082.2" stroke="#333333" stroke-width="2.8"/>
<text x="769.27" y="1106" font-size="25.8" text-anchor="middle" fill="#4D4D4D" stroke="#4D4D4D" stroke-width="0.25">2</text>
<line x1="811" y1="1073.8" x2="811" y2="1082.2" stroke="#333333" stroke-width="2.8"/>
<text x="811" y="1106" font-size="25.8" text-anchor="middle" fill="#4D4D4D" stroke="#4D4D4D" stroke-width="0.25">3</text>
<line x1="852.73" y1="1073.8" x2="852.73" y2="1082.2" stroke="#333333" stroke-width="2.8"/>
<text x="852.73" y="1106" font-size="25.8" text-anchor="middle" fill="#4D4D4D" stroke="#4D4D4D" stroke-width="0.25">4</text>
<line x1="894.46" y1="1073.8" x2="894.46" y2="1082.2" stroke="#333333" stroke-width="2.8"/>
<text x="894.46" y="1106" font-size="25.8" text-anchor="middle" fill="#4D4D4D" stroke="#4D4D4D" stroke-width="0.25">5</text>
<circle cx="727.54" cy="1028.75" r="6.1" fill="#666666"/>
<circle cx="769.27" cy="1015" r="6.1" fill="#666666"/>
<circle cx="811" cy="977.5" r="6.1" fill="#666666"/>
<circle cx="852.73" cy="1015" r="6.1" fill="#666666"/>
<circle cx="894.46" cy="1045.5" r="6.1" fill="#666666"/>
<rect x="721.54" y="1039" width="12" height="12" fill="#2F96FB"/>
<rect x="763.27" y="1026.5" width="12" height="12" fill="#2F96FB"/>
<rect x="805" y="984" width="12" height="12" fill="#2F96FB"/>
<rect x="846.73" y="1022.75" width="12" height="12" fill="#2F96FB"/>
<rect x="888.46" y="1050.25" width="12" height="12" fill="#2F96FB"/>
<path d="M721.54 1038L727.54 1032L733.54 1038L727.54 1044Z" fill="#FF9000"/>
<path d="M763.27 1027.5L769.27 1021.5L775.27 1027.5L769.27 1033.5Z" fill="#FF9000"/>
<path d="M805 986.25L811 980.25L817 986.25L811 992.25Z" fill="#FF9000"/>
<path d="M846.73 1026.25L852.73 1020.25L858.73 1026.25L852.73 1032.25Z" fill="#FF9000"/>
<path d="M888.46 1050L894.46 1044L900.46 1050L894.46 1056Z" fill="#FF9000"/>
<polyline points="727.54,1028.75 769.27,1015 811,977.5 852.73,1015 894.46,1045.5" fill="none" stroke="#666666" stroke-width="3.3" stroke-linejoin="round"/>
<polyline points="727.54,1045 769.27,1032.5 811,990 852.73,1028.75 894.46,1056.25" fill="none" stroke="#2F96FB" stroke-width="3.3" stroke-linejoin="round" stroke-dasharray="4.8 4.8"/>
<polyline points="727.54,1038 769.27,1027.5 811,986.25 852.73,1026.25 894.46,1050" fill="none" stroke="#FF9000" stroke-width="3.3" stroke-linejoin="round" stroke-dasharray="10.5 4.5"/>
<path d="M723.34 1019.5H731.74H727.54V1038H723.34H731.74" fill="none" stroke="#666666" stroke-width="2.9"/>
<path d="M765.07 1005H773.47H769.27V1025H765.07H773.47" fill="none" stroke="#666666" stroke-width="2.9"/>
<path d="M806.8 965H815.2H811V990H806.8H815.2" fill="none" stroke="#666666" stroke-width="2.9"/>
<path d="M848.53 1004.5H856.93H852.73V1025.5H848.53H856.93" fill="none" stroke="#666666" stroke-width="2.9"/>
<path d="M890.26 1037H898.66H894.46V1054H890.26H898.66" fill="none" stroke="#666666" stroke-width="2.9"/>
<path d="M723.34 1036H731.74H727.54V1054H723.34H731.74" fill="none" stroke="#2F96FB" stroke-width="2.9" stroke-dasharray="4.8 4.8"/>
<path d="M765.07 1023.5H773.47H769.27V1041.5H765.07H773.47" fill="none" stroke="#2F96FB" stroke-width="2.9" stroke-dasharray="4.8 4.8"/>
<path d="M806.8 980H815.2H811V1000H806.8H815.2" fill="none" stroke="#2F96FB" stroke-width="2.9" stroke-dasharray="4.8 4.8"/>
<path d="M848.53 1019.75H856.93H852.73V1037.75H848.53H856.93" fill="none" stroke="#2F96FB" stroke-width="2.9" stroke-dasharray="4.8 4.8"/>
<path d="M890.26 1046.75H898.66H894.46V1065.75H890.26H898.66" fill="none" stroke="#2F96FB" stroke-width="2.9" stroke-dasharray="4.8 4.8"/>
<path d="M723.34 1029H731.74H727.54V1047H723.34H731.74" fill="none" stroke="#FF9000" stroke-width="2.9" stroke-dasharray="10.5 4.5"/>
<path d="M765.07 1017.5H773.47H769.27V1037.5H765.07H773.47" fill="none" stroke="#FF9000" stroke-width="2.9" stroke-dasharray="10.5 4.5"/>
<path d="M806.8 975.25H815.2H811V997.25H806.8H815.2" fill="none" stroke="#FF9000" stroke-width="2.9" stroke-dasharray="10.5 4.5"/>
<path d="M848.53 1016.25H856.93H852.73V1036.25H848.53H856.93" fill="none" stroke="#FF9000" stroke-width="2.9" stroke-dasharray="10.5 4.5"/>
<path d="M890.26 1041H898.66H894.46V1059H890.26H898.66" fill="none" stroke="#FF9000" stroke-width="2.9" stroke-dasharray="10.5 4.5"/>
<text x="727.54" y="1020.5" font-size="37" text-anchor="middle" fill="#000" stroke="#000" stroke-width="0.5" stroke-linejoin="round">*</text>
<text x="769.27" y="1005.4" font-size="37" text-anchor="middle" fill="#000" stroke="#000" stroke-width="0.5" stroke-linejoin="round">*</text>
<rect x="999.5" y="897.5" width="217" height="48" fill="#D9D9D9" stroke="#333333" stroke-width="1.9"/>
<rect x="999.5" y="945.5" width="217" height="128.3" fill="#fff" stroke="#333333" stroke-width="1.9"/>
<line x1="998.55" y1="945.8" x2="1217.45" y2="945.8" stroke="#333333" stroke-width="3"/>
<text x="1108" y="930.7" font-size="25.4" text-anchor="middle" fill="#1A1A1A" stroke="#1A1A1A" stroke-width="0.25">CC Mid−body (A)</text>
<line x1="990.9" y1="988" x2="999.5" y2="988" stroke="#333333" stroke-width="2.8"/>
<text x="985.1" y="997.8" font-size="25.8" text-anchor="end" fill="#4D4D4D" stroke="#4D4D4D" stroke-width="0.25">0.65</text>
<line x1="990.9" y1="1032" x2="999.5" y2="1032" stroke="#333333" stroke-width="2.8"/>
<text x="985.1" y="1041.8" font-size="25.8" text-anchor="end" fill="#4D4D4D" stroke="#4D4D4D" stroke-width="0.25">0.60</text>
<line x1="1024.54" y1="1073.8" x2="1024.54" y2="1082.2" stroke="#333333" stroke-width="2.8"/>
<text x="1024.54" y="1106" font-size="25.8" text-anchor="middle" fill="#4D4D4D" stroke="#4D4D4D" stroke-width="0.25">1</text>
<line x1="1066.27" y1="1073.8" x2="1066.27" y2="1082.2" stroke="#333333" stroke-width="2.8"/>
<text x="1066.27" y="1106" font-size="25.8" text-anchor="middle" fill="#4D4D4D" stroke="#4D4D4D" stroke-width="0.25">2</text>
<line x1="1108" y1="1073.8" x2="1108" y2="1082.2" stroke="#333333" stroke-width="2.8"/>
<text x="1108" y="1106" font-size="25.8" text-anchor="middle" fill="#4D4D4D" stroke="#4D4D4D" stroke-width="0.25">3</text>
<line x1="1149.73" y1="1073.8" x2="1149.73" y2="1082.2" stroke="#333333" stroke-width="2.8"/>
<text x="1149.73" y="1106" font-size="25.8" text-anchor="middle" fill="#4D4D4D" stroke="#4D4D4D" stroke-width="0.25">4</text>
<line x1="1191.46" y1="1073.8" x2="1191.46" y2="1082.2" stroke="#333333" stroke-width="2.8"/>
<text x="1191.46" y="1106" font-size="25.8" text-anchor="middle" fill="#4D4D4D" stroke="#4D4D4D" stroke-width="0.25">5</text>
<circle cx="1024.54" cy="1038.75" r="6.1" fill="#666666"/>
<circle cx="1066.27" cy="1009.25" r="6.1" fill="#666666"/>
<circle cx="1108" cy="976.25" r="6.1" fill="#666666"/>
<circle cx="1149.73" cy="1010.5" r="6.1" fill="#666666"/>
<circle cx="1191.46" cy="1043.75" r="6.1" fill="#666666"/>
<rect x="1018.54" y="1046.5" width="12" height="12" fill="#2F96FB"/>
<rect x="1060.27" y="1019" width="12" height="12" fill="#2F96FB"/>
<rect x="1102" y="977.75" width="12" height="12" fill="#2F96FB"/>
<rect x="1143.73" y="1019" width="12" height="12" fill="#2F96FB"/>
<rect x="1185.46" y="1052.75" width="12" height="12" fill="#2F96FB"/>
<path d="M1018.54 1045L1024.54 1039L1030.54 1045L1024.54 1051Z" fill="#FF9000"/>
<path d="M1060.27 1018.75L1066.27 1012.75L1072.27 1018.75L1066.27 1024.75Z" fill="#FF9000"/>
<path d="M1102 987.5L1108 981.5L1114 987.5L1108 993.5Z" fill="#FF9000"/>
<path d="M1143.73 1025L1149.73 1019L1155.73 1025L1149.73 1031Z" fill="#FF9000"/>
<path d="M1185.46 1057.5L1191.46 1051.5L1197.46 1057.5L1191.46 1063.5Z" fill="#FF9000"/>
<polyline points="1024.54,1038.75 1066.27,1009.25 1108,976.25 1149.73,1010.5 1191.46,1043.75" fill="none" stroke="#666666" stroke-width="3.3" stroke-linejoin="round"/>
<polyline points="1024.54,1052.5 1066.27,1025 1108,983.75 1149.73,1025 1191.46,1058.75" fill="none" stroke="#2F96FB" stroke-width="3.3" stroke-linejoin="round" stroke-dasharray="4.8 4.8"/>
<polyline points="1024.54,1045 1066.27,1018.75 1108,987.5 1149.73,1025 1191.46,1057.5" fill="none" stroke="#FF9000" stroke-width="3.3" stroke-linejoin="round" stroke-dasharray="10.5 4.5"/>
<path d="M1020.34 1032.25H1028.74H1024.54V1045.25H1020.34H1028.74" fill="none" stroke="#666666" stroke-width="2.9"/>
<path d="M1062.07 1000.75H1070.47H1066.27V1017.75H1062.07H1070.47" fill="none" stroke="#666666" stroke-width="2.9"/>
<path d="M1103.8 965.25H1112.2H1108V987.25H1103.8H1112.2" fill="none" stroke="#666666" stroke-width="2.9"/>
<path d="M1145.53 1002H1153.93H1149.73V1019H1145.53H1153.93" fill="none" stroke="#666666" stroke-width="2.9"/>
<path d="M1187.26 1036.75H1195.66H1191.46V1050.75H1187.26H1195.66" fill="none" stroke="#666666" stroke-width="2.9"/>
<path d="M1020.34 1044.5H1028.74H1024.54V1060.5H1020.34H1028.74" fill="none" stroke="#2F96FB" stroke-width="2.9" stroke-dasharray="4.8 4.8"/>
<path d="M1062.07 1015H1070.47H1066.27V1035H1062.07H1070.47" fill="none" stroke="#2F96FB" stroke-width="2.9" stroke-dasharray="4.8 4.8"/>
<path d="M1103.8 971.75H1112.2H1108V995.75H1103.8H1112.2" fill="none" stroke="#2F96FB" stroke-width="2.9" stroke-dasharray="4.8 4.8"/>
<path d="M1145.53 1016H1153.93H1149.73V1034H1145.53H1153.93" fill="none" stroke="#2F96FB" stroke-width="2.9" stroke-dasharray="4.8 4.8"/>
<path d="M1187.26 1050.75H1195.66H1191.46V1066.75H1187.26H1195.66" fill="none" stroke="#2F96FB" stroke-width="2.9" stroke-dasharray="4.8 4.8"/>
<path d="M1020.34 1034H1028.74H1024.54V1056H1020.34H1028.74" fill="none" stroke="#FF9000" stroke-width="2.9" stroke-dasharray="10.5 4.5"/>
<path d="M1062.07 1007.75H1070.47H1066.27V1029.75H1062.07H1070.47" fill="none" stroke="#FF9000" stroke-width="2.9" stroke-dasharray="10.5 4.5"/>
<path d="M1103.8 974H1112.2H1108V1001H1103.8H1112.2" fill="none" stroke="#FF9000" stroke-width="2.9" stroke-dasharray="10.5 4.5"/>
<path d="M1145.53 1014.5H1153.93H1149.73V1035.5H1145.53H1153.93" fill="none" stroke="#FF9000" stroke-width="2.9" stroke-dasharray="10.5 4.5"/>
<path d="M1187.26 1049.5H1195.66H1191.46V1065.5H1187.26H1195.66" fill="none" stroke="#FF9000" stroke-width="2.9" stroke-dasharray="10.5 4.5"/>
<text x="1066.27" y="1001.9" font-size="37" text-anchor="middle" fill="#000" stroke="#000" stroke-width="0.5" stroke-linejoin="round">*</text>
<text x="1191.46" y="1037.65" font-size="37" text-anchor="middle" fill="#000" stroke="#000" stroke-width="0.5" stroke-linejoin="round">*</text>
<rect x="1311" y="897.5" width="216.75" height="48" fill="#D9D9D9" stroke="#333333" stroke-width="1.9"/>
<rect x="1311" y="945.5" width="216.75" height="128.3" fill="#fff" stroke="#333333" stroke-width="1.9"/>
<line x1="1310.05" y1="945.8" x2="1528.7" y2="945.8" stroke="#333333" stroke-width="3"/>
<text x="1419.38" y="930.7" font-size="25.4" text-anchor="middle" fill="#1A1A1A" stroke="#1A1A1A" stroke-width="0.25">CC Mid−body (P)</text>
<line x1="1302.4" y1="978" x2="1311" y2="978" stroke="#333333" stroke-width="2.8"/>
<text x="1296.6" y="987.8" font-size="25.8" text-anchor="end" fill="#4D4D4D" stroke="#4D4D4D" stroke-width="0.25">0.68</text>
<line x1="1302.4" y1="1016.5" x2="1311" y2="1016.5" stroke="#333333" stroke-width="2.8"/>
<text x="1296.6" y="1026.3" font-size="25.8" text-anchor="end" fill="#4D4D4D" stroke="#4D4D4D" stroke-width="0.25">0.64</text>
<line x1="1302.4" y1="1055" x2="1311" y2="1055" stroke="#333333" stroke-width="2.8"/>
<text x="1296.6" y="1064.8" font-size="25.8" text-anchor="end" fill="#4D4D4D" stroke="#4D4D4D" stroke-width="0.25">0.60</text>
<line x1="1336.01" y1="1073.8" x2="1336.01" y2="1082.2" stroke="#333333" stroke-width="2.8"/>
<text x="1336.01" y="1106" font-size="25.8" text-anchor="middle" fill="#4D4D4D" stroke="#4D4D4D" stroke-width="0.25">1</text>
<line x1="1377.69" y1="1073.8" x2="1377.69" y2="1082.2" stroke="#333333" stroke-width="2.8"/>
<text x="1377.69" y="1106" font-size="25.8" text-anchor="middle" fill="#4D4D4D" stroke="#4D4D4D" stroke-width="0.25">2</text>
<line x1="1419.38" y1="1073.8" x2="1419.38" y2="1082.2" stroke="#333333" stroke-width="2.8"/>
<text x="1419.38" y="1106" font-size="25.8" text-anchor="middle" fill="#4D4D4D" stroke="#4D4D4D" stroke-width="0.25">3</text>
<line x1="1461.06" y1="1073.8" x2="1461.06" y2="1082.2" stroke="#333333" stroke-width="2.8"/>
<text x="1461.06" y="1106" font-size="25.8" text-anchor="middle" fill="#4D4D4D" stroke="#4D4D4D" stroke-width="0.25">4</text>
<line x1="1502.74" y1="1073.8" x2="1502.74" y2="1082.2" stroke="#333333" stroke-width="2.8"/>
<text x="1502.74" y="1106" font-size="25.8" text-anchor="middle" fill="#4D4D4D" stroke="#4D4D4D" stroke-width="0.25">5</text>
<circle cx="1336.01" cy="1032.5" r="6.1" fill="#666666"/>
<circle cx="1377.69" cy="1027" r="6.1" fill="#666666"/>
<circle cx="1419.38" cy="976.25" r="6.1" fill="#666666"/>
<circle cx="1461.06" cy="1027" r="6.1" fill="#666666"/>
<circle cx="1502.74" cy="1039.25" r="6.1" fill="#666666"/>
<rect x="1330.01" y="1034" width="12" height="12" fill="#2F96FB"/>
<rect x="1371.69" y="1029" width="12" height="12" fill="#2F96FB"/>
<rect x="1413.38" y="979" width="12" height="12" fill="#2F96FB"/>
<rect x="1455.06" y="1027.75" width="12" height="12" fill="#2F96FB"/>
<rect x="1496.74" y="1042.75" width="12" height="12" fill="#2F96FB"/>
<path d="M1330.01 1036.25L1336.01 1030.25L1342.01 1036.25L1336.01 1042.25Z" fill="#FF9000"/>
<path d="M1371.69 1030L1377.69 1024L1383.69 1030L1377.69 1036Z" fill="#FF9000"/>
<path d="M1413.38 990L1419.38 984L1425.38 990L1419.38 996Z" fill="#FF9000"/>
<path d="M1455.06 1041.25L1461.06 1035.25L1467.06 1041.25L1461.06 1047.25Z" fill="#FF9000"/>
<path d="M1496.74 1055L1502.74 1049L1508.74 1055L1502.74 1061Z" fill="#FF9000"/>
<polyline points="1336.01,1032.5 1377.69,1027 1419.38,976.25 1461.06,1027 1502.74,1039.25" fill="none" stroke="#666666" stroke-width="3.3" stroke-linejoin="round"/>
<polyline points="1336.01,1040 1377.69,1035 1419.38,985 1461.06,1033.75 1502.74,1048.75" fill="none" stroke="#2F96FB" stroke-width="3.3" stroke-linejoin="round" stroke-dasharray="4.8 4.8"/>
<polyline points="1336.01,1036.25 1377.69,1030 1419.38,990 1461.06,1041.25 1502.74,1055" fill="none" stroke="#FF9000" stroke-width="3.3" stroke-linejoin="round" stroke-dasharray="10.5 4.5"/>
<path d="M1331.81 1023.5H1340.21H1336.01V1041.5H1331.81H1340.21" fill="none" stroke="#666666" stroke-width="2.9"/>
<path d="M1373.49 1017.5H1381.89H1377.69V1036.5H1373.49H1381.89" fill="none" stroke="#666666" stroke-width="2.9"/>
<path d="M1415.17 965.25H1423.58H1419.38V987.25H1415.17H1423.58" fill="none" stroke="#666666" stroke-width="2.9"/>
<path d="M1456.86 1018H1465.26H1461.06V1036H1456.86H1465.26" fill="none" stroke="#666666" stroke-width="2.9"/>
<path d="M1498.54 1030.75H1506.94H1502.74V1047.75H1498.54H1506.94" fill="none" stroke="#666666" stroke-width="2.9"/>
<path d="M1331.81 1029H1340.21H1336.01V1051H1331.81H1340.21" fill="none" stroke="#2F96FB" stroke-width="2.9" stroke-dasharray="4.8 4.8"/>
<path d="M1373.49 1025H1381.89H1377.69V1045H1373.49H1381.89" fill="none" stroke="#2F96FB" stroke-width="2.9" stroke-dasharray="4.8 4.8"/>
<path d="M1415.17 975H1423.58H1419.38V995H1415.17H1423.58" fill="none" stroke="#2F96FB" stroke-width="2.9" stroke-dasharray="4.8 4.8"/>
<path d="M1456.86 1024.75H1465.26H1461.06V1042.75H1456.86H1465.26" fill="none" stroke="#2F96FB" stroke-width="2.9" stroke-dasharray="4.8 4.8"/>
<path d="M1498.54 1039.75H1506.94H1502.74V1057.75H1498.54H1506.94" fill="none" stroke="#2F96FB" stroke-width="2.9" stroke-dasharray="4.8 4.8"/>
<path d="M1331.81 1026.25H1340.21H1336.01V1046.25H1331.81H1340.21" fill="none" stroke="#FF9000" stroke-width="2.9" stroke-dasharray="10.5 4.5"/>
<path d="M1373.49 1019H1381.89H1377.69V1041H1373.49H1381.89" fill="none" stroke="#FF9000" stroke-width="2.9" stroke-dasharray="10.5 4.5"/>
<path d="M1415.17 976.5H1423.58H1419.38V1003.5H1415.17H1423.58" fill="none" stroke="#FF9000" stroke-width="2.9" stroke-dasharray="10.5 4.5"/>
<path d="M1456.86 1030.25H1465.26H1461.06V1052.25H1456.86H1465.26" fill="none" stroke="#FF9000" stroke-width="2.9" stroke-dasharray="10.5 4.5"/>
<path d="M1498.54 1045H1506.94H1502.74V1065H1498.54H1506.94" fill="none" stroke="#FF9000" stroke-width="2.9" stroke-dasharray="10.5 4.5"/>
<rect x="108" y="1129.4" width="217" height="48" fill="#D9D9D9" stroke="#333333" stroke-width="1.9"/>
<rect x="108" y="1177.4" width="217" height="128.3" fill="#fff" stroke="#333333" stroke-width="1.9"/>
<line x1="107.05" y1="1177.7" x2="325.95" y2="1177.7" stroke="#333333" stroke-width="3"/>
<text x="216.5" y="1162.6" font-size="25.4" text-anchor="middle" fill="#1A1A1A" stroke="#1A1A1A" stroke-width="0.25">CG (L)</text>
<line x1="99.4" y1="1182" x2="108" y2="1182" stroke="#333333" stroke-width="2.8"/>
<text x="93.6" y="1191.8" font-size="25.8" text-anchor="end" fill="#4D4D4D" stroke="#4D4D4D" stroke-width="0.25">0.7</text>
<line x1="99.4" y1="1226.5" x2="108" y2="1226.5" stroke="#333333" stroke-width="2.8"/>
<text x="93.6" y="1236.3" font-size="25.8" text-anchor="end" fill="#4D4D4D" stroke="#4D4D4D" stroke-width="0.25">0.6</text>
<line x1="99.4" y1="1271.25" x2="108" y2="1271.25" stroke="#333333" stroke-width="2.8"/>
<text x="93.6" y="1281.05" font-size="25.8" text-anchor="end" fill="#4D4D4D" stroke="#4D4D4D" stroke-width="0.25">0.5</text>
<line x1="133.04" y1="1305.7" x2="133.04" y2="1314.1" stroke="#333333" stroke-width="2.8"/>
<text x="133.04" y="1337.9" font-size="25.8" text-anchor="middle" fill="#4D4D4D" stroke="#4D4D4D" stroke-width="0.25">1</text>
<line x1="174.77" y1="1305.7" x2="174.77" y2="1314.1" stroke="#333333" stroke-width="2.8"/>
<text x="174.77" y="1337.9" font-size="25.8" text-anchor="middle" fill="#4D4D4D" stroke="#4D4D4D" stroke-width="0.25">2</text>
<line x1="216.5" y1="1305.7" x2="216.5" y2="1314.1" stroke="#333333" stroke-width="2.8"/>
<text x="216.5" y="1337.9" font-size="25.8" text-anchor="middle" fill="#4D4D4D" stroke="#4D4D4D" stroke-width="0.25">3</text>
<line x1="258.23" y1="1305.7" x2="258.23" y2="1314.1" stroke="#333333" stroke-width="2.8"/>
<text x="258.23" y="1337.9" font-size="25.8" text-anchor="middle" fill="#4D4D4D" stroke="#4D4D4D" stroke-width="0.25">4</text>
<line x1="299.96" y1="1305.7" x2="299.96" y2="1314.1" stroke="#333333" stroke-width="2.8"/>
<text x="299.96" y="1337.9" font-size="25.8" text-anchor="middle" fill="#4D4D4D" stroke="#4D4D4D" stroke-width="0.25">5</text>
<circle cx="133.04" cy="1221.25" r="6.1" fill="#666666"/>
<circle cx="174.77" cy="1217.5" r="6.1" fill="#666666"/>
<circle cx="216.5" cy="1222.5" r="6.1" fill="#666666"/>
<circle cx="258.23" cy="1247.5" r="6.1" fill="#666666"/>
<circle cx="299.96" cy="1287" r="6.1" fill="#666666"/>
<rect x="127.04" y="1226.5" width="12" height="12" fill="#2F96FB"/>
<rect x="168.77" y="1221" width="12" height="12" fill="#2F96FB"/>
<rect x="210.5" y="1228.5" width="12" height="12" fill="#2F96FB"/>
<rect x="252.23" y="1248.5" width="12" height="12" fill="#2F96FB"/>
<rect x="293.96" y="1286" width="12" height="12" fill="#2F96FB"/>
<path d="M127.04 1225.5L133.04 1219.5L139.04 1225.5L133.04 1231.5Z" fill="#FF9000"/>
<path d="M168.77 1218L174.77 1212L180.77 1218L174.77 1224Z" fill="#FF9000"/>
<path d="M210.5 1231.25L216.5 1225.25L222.5 1231.25L216.5 1237.25Z" fill="#FF9000"/>
<path d="M252.23 1253L258.23 1247L264.23 1253L258.23 1259Z" fill="#FF9000"/>
<path d="M293.96 1290.5L299.96 1284.5L305.96 1290.5L299.96 1296.5Z" fill="#FF9000"/>
<polyline points="133.04,1221.25 174.77,1217.5 216.5,1222.5 258.23,1247.5 299.96,1287" fill="none" stroke="#666666" stroke-width="3.3" stroke-linejoin="round"/>
<polyline points="133.04,1232.5 174.77,1227 216.5,1234.5 258.23,1254.5 299.96,1292" fill="none" stroke="#2F96FB" stroke-width="3.3" stroke-linejoin="round" stroke-dasharray="4.8 4.8"/>
<polyline points="133.04,1225.5 174.77,1218 216.5,1231.25 258.23,1253 299.96,1290.5" fill="none" stroke="#FF9000" stroke-width="3.3" stroke-linejoin="round" stroke-dasharray="10.5 4.5"/>
<path d="M128.84 1217.75H137.24H133.04V1224.75H128.84H137.24" fill="none" stroke="#666666" stroke-width="2.9"/>
<path d="M170.57 1214H178.97H174.77V1221H170.57H178.97" fill="none" stroke="#666666" stroke-width="2.9"/>
<path d="M212.3 1219H220.7H216.5V1226H212.3H220.7" fill="none" stroke="#666666" stroke-width="2.9"/>
<path d="M254.03 1244H262.43H258.23V1251H254.03H262.43" fill="none" stroke="#666666" stroke-width="2.9"/>
<path d="M295.76 1283.5H304.16H299.96V1290.5H295.76H304.16" fill="none" stroke="#666666" stroke-width="2.9"/>
<path d="M128.84 1229H137.24H133.04V1236H128.84H137.24" fill="none" stroke="#2F96FB" stroke-width="2.9" stroke-dasharray="4.8 4.8"/>
<path d="M170.57 1223.5H178.97H174.77V1230.5H170.57H178.97" fill="none" stroke="#2F96FB" stroke-width="2.9" stroke-dasharray="4.8 4.8"/>
<path d="M212.3 1231H220.7H216.5V1238H212.3H220.7" fill="none" stroke="#2F96FB" stroke-width="2.9" stroke-dasharray="4.8 4.8"/>
<path d="M254.03 1251H262.43H258.23V1258H254.03H262.43" fill="none" stroke="#2F96FB" stroke-width="2.9" stroke-dasharray="4.8 4.8"/>
<path d="M295.76 1288.5H304.16H299.96V1295.5H295.76H304.16" fill="none" stroke="#2F96FB" stroke-width="2.9" stroke-dasharray="4.8 4.8"/>
<path d="M128.84 1221.5H137.24H133.04V1229.5H128.84H137.24" fill="none" stroke="#FF9000" stroke-width="2.9" stroke-dasharray="10.5 4.5"/>
<path d="M170.57 1214H178.97H174.77V1222H170.57H178.97" fill="none" stroke="#FF9000" stroke-width="2.9" stroke-dasharray="10.5 4.5"/>
<path d="M212.3 1227.25H220.7H216.5V1235.25H212.3H220.7" fill="none" stroke="#FF9000" stroke-width="2.9" stroke-dasharray="10.5 4.5"/>
<path d="M254.03 1249H262.43H258.23V1257H254.03H262.43" fill="none" stroke="#FF9000" stroke-width="2.9" stroke-dasharray="10.5 4.5"/>
<path d="M295.76 1286.5H304.16H299.96V1294.5H295.76H304.16" fill="none" stroke="#FF9000" stroke-width="2.9" stroke-dasharray="10.5 4.5"/>
<text x="133.04" y="1218.15" font-size="37" text-anchor="middle" fill="#000" stroke="#000" stroke-width="0.5" stroke-linejoin="round">*</text>
<text x="174.77" y="1215.15" font-size="37" text-anchor="middle" fill="#000" stroke="#000" stroke-width="0.5" stroke-linejoin="round">*</text>
<text x="216.5" y="1208.4" font-size="37" text-anchor="middle" fill="#000" stroke="#000" stroke-width="0.5" stroke-linejoin="round">*</text>
<text x="216.5" y="1214.05" font-size="22" text-anchor="middle" fill="#000" stroke="#000" stroke-width="0.3">#</text>
<rect x="405.75" y="1129.4" width="216" height="48" fill="#D9D9D9" stroke="#333333" stroke-width="1.9"/>
<rect x="405.75" y="1177.4" width="216" height="128.3" fill="#fff" stroke="#333333" stroke-width="1.9"/>
<line x1="404.8" y1="1177.7" x2="622.7" y2="1177.7" stroke="#333333" stroke-width="3"/>
<text x="513.75" y="1162.6" font-size="25.4" text-anchor="middle" fill="#1A1A1A" stroke="#1A1A1A" stroke-width="0.25">CG (R)</text>
<line x1="397.15" y1="1216.25" x2="405.75" y2="1216.25" stroke="#333333" stroke-width="2.8"/>
<text x="391.35" y="1226.05" font-size="25.8" text-anchor="end" fill="#4D4D4D" stroke="#4D4D4D" stroke-width="0.25">0.6</text>
<line x1="397.15" y1="1262.5" x2="405.75" y2="1262.5" stroke="#333333" stroke-width="2.8"/>
<text x="391.35" y="1272.3" font-size="25.8" text-anchor="end" fill="#4D4D4D" stroke="#4D4D4D" stroke-width="0.25">0.5</text>
<line x1="430.67" y1="1305.7" x2="430.67" y2="1314.1" stroke="#333333" stroke-width="2.8"/>
<text x="430.67" y="1337.9" font-size="25.8" text-anchor="middle" fill="#4D4D4D" stroke="#4D4D4D" stroke-width="0.25">1</text>
<line x1="472.21" y1="1305.7" x2="472.21" y2="1314.1" stroke="#333333" stroke-width="2.8"/>
<text x="472.21" y="1337.9" font-size="25.8" text-anchor="middle" fill="#4D4D4D" stroke="#4D4D4D" stroke-width="0.25">2</text>
<line x1="513.75" y1="1305.7" x2="513.75" y2="1314.1" stroke="#333333" stroke-width="2.8"/>
<text x="513.75" y="1337.9" font-size="25.8" text-anchor="middle" fill="#4D4D4D" stroke="#4D4D4D" stroke-width="0.25">3</text>
<line x1="555.29" y1="1305.7" x2="555.29" y2="1314.1" stroke="#333333" stroke-width="2.8"/>
<text x="555.29" y="1337.9" font-size="25.8" text-anchor="middle" fill="#4D4D4D" stroke="#4D4D4D" stroke-width="0.25">4</text>
<line x1="596.83" y1="1305.7" x2="596.83" y2="1314.1" stroke="#333333" stroke-width="2.8"/>
<text x="596.83" y="1337.9" font-size="25.8" text-anchor="middle" fill="#4D4D4D" stroke="#4D4D4D" stroke-width="0.25">5</text>
<circle cx="430.67" cy="1212" r="6.1" fill="#666666"/>
<circle cx="472.21" cy="1211.25" r="6.1" fill="#666666"/>
<circle cx="513.75" cy="1221.25" r="6.1" fill="#666666"/>
<circle cx="555.29" cy="1252" r="6.1" fill="#666666"/>
<circle cx="596.83" cy="1275.5" r="6.1" fill="#666666"/>
<rect x="424.67" y="1215.25" width="12" height="12" fill="#2F96FB"/>
<rect x="466.21" y="1216" width="12" height="12" fill="#2F96FB"/>
<rect x="507.75" y="1227" width="12" height="12" fill="#2F96FB"/>
<rect x="549.29" y="1253.5" width="12" height="12" fill="#2F96FB"/>
<rect x="590.83" y="1284.5" width="12" height="12" fill="#2F96FB"/>
<path d="M424.67 1212.5L430.67 1206.5L436.67 1212.5L430.67 1218.5Z" fill="#FF9000"/>
<path d="M466.21 1213.75L472.21 1207.75L478.21 1213.75L472.21 1219.75Z" fill="#FF9000"/>
<path d="M507.75 1228L513.75 1222L519.75 1228L513.75 1234Z" fill="#FF9000"/>
<path d="M549.29 1254.5L555.29 1248.5L561.29 1254.5L555.29 1260.5Z" fill="#FF9000"/>
<path d="M590.83 1280L596.83 1274L602.83 1280L596.83 1286Z" fill="#FF9000"/>
<polyline points="430.67,1212 472.21,1211.25 513.75,1221.25 555.29,1252 596.83,1275.5" fill="none" stroke="#666666" stroke-width="3.3" stroke-linejoin="round"/>
<polyline points="430.67,1221.25 472.21,1222 513.75,1233 555.29,1259.5 596.83,1290.5" fill="none" stroke="#2F96FB" stroke-width="3.3" stroke-linejoin="round" stroke-dasharray="4.8 4.8"/>
<polyline points="430.67,1212.5 472.21,1213.75 513.75,1228 555.29,1254.5 596.83,1280" fill="none" stroke="#FF9000" stroke-width="3.3" stroke-linejoin="round" stroke-dasharray="10.5 4.5"/>
<path d="M426.47 1208H434.87H430.67V1216H426.47H434.87" fill="none" stroke="#666666" stroke-width="2.9"/>
<path d="M468.01 1207.25H476.41H472.21V1215.25H468.01H476.41" fill="none" stroke="#666666" stroke-width="2.9"/>
<path d="M509.55 1217.25H517.95H513.75V1225.25H509.55H517.95" fill="none" stroke="#666666" stroke-width="2.9"/>
<path d="M551.09 1248H559.49H555.29V1256H551.09H559.49" fill="none" stroke="#666666" stroke-width="2.9"/>
<path d="M592.63 1271.5H601.03H596.83V1279.5H592.63H601.03" fill="none" stroke="#666666" stroke-width="2.9"/>
<path d="M426.47 1217.25H434.87H430.67V1225.25H426.47H434.87" fill="none" stroke="#2F96FB" stroke-width="2.9" stroke-dasharray="4.8 4.8"/>
<path d="M468.01 1218H476.41H472.21V1226H468.01H476.41" fill="none" stroke="#2F96FB" stroke-width="2.9" stroke-dasharray="4.8 4.8"/>
<path d="M509.55 1229H517.95H513.75V1237H509.55H517.95" fill="none" stroke="#2F96FB" stroke-width="2.9" stroke-dasharray="4.8 4.8"/>
<path d="M551.09 1255.5H559.49H555.29V1263.5H551.09H559.49" fill="none" stroke="#2F96FB" stroke-width="2.9" stroke-dasharray="4.8 4.8"/>
<path d="M592.63 1286.5H601.03H596.83V1294.5H592.63H601.03" fill="none" stroke="#2F96FB" stroke-width="2.9" stroke-dasharray="4.8 4.8"/>
<path d="M426.47 1207.5H434.87H430.67V1217.5H426.47H434.87" fill="none" stroke="#FF9000" stroke-width="2.9" stroke-dasharray="10.5 4.5"/>
<path d="M468.01 1208.75H476.41H472.21V1218.75H468.01H476.41" fill="none" stroke="#FF9000" stroke-width="2.9" stroke-dasharray="10.5 4.5"/>
<path d="M509.55 1223H517.95H513.75V1233H509.55H517.95" fill="none" stroke="#FF9000" stroke-width="2.9" stroke-dasharray="10.5 4.5"/>
<path d="M551.09 1249.5H559.49H555.29V1259.5H551.09H559.49" fill="none" stroke="#FF9000" stroke-width="2.9" stroke-dasharray="10.5 4.5"/>
<path d="M592.63 1275H601.03H596.83V1285H592.63H601.03" fill="none" stroke="#FF9000" stroke-width="2.9" stroke-dasharray="10.5 4.5"/>
<text x="472.21" y="1208.9" font-size="37" text-anchor="middle" fill="#000" stroke="#000" stroke-width="0.5" stroke-linejoin="round">*</text>
<text x="513.75" y="1218.9" font-size="37" text-anchor="middle" fill="#000" stroke="#000" stroke-width="0.5" stroke-linejoin="round">*</text>
<text x="555.29" y="1249.4" font-size="37" text-anchor="middle" fill="#000" stroke="#000" stroke-width="0.5" stroke-linejoin="round">*</text>
<text x="596.83" y="1273.4" font-size="37" text-anchor="middle" fill="#000" stroke="#000" stroke-width="0.5" stroke-linejoin="round">*</text>
<rect x="702.5" y="1129.4" width="217" height="48" fill="#D9D9D9" stroke="#333333" stroke-width="1.9"/>
<rect x="702.5" y="1177.4" width="217" height="128.3" fill="#fff" stroke="#333333" stroke-width="1.9"/>
<line x1="701.55" y1="1177.7" x2="920.45" y2="1177.7" stroke="#333333" stroke-width="3"/>
<text x="811" y="1162.6" font-size="25.4" text-anchor="middle" fill="#1A1A1A" stroke="#1A1A1A" stroke-width="0.25">IFOF (L)</text>
<line x1="693.9" y1="1205" x2="702.5" y2="1205" stroke="#333333" stroke-width="2.8"/>
<text x="688.1" y="1214.8" font-size="25.8" text-anchor="end" fill="#4D4D4D" stroke="#4D4D4D" stroke-width="0.25">0.60</text>
<line x1="693.9" y1="1237" x2="702.5" y2="1237" stroke="#333333" stroke-width="2.8"/>
<text x="688.1" y="1246.8" font-size="25.8" text-anchor="end" fill="#4D4D4D" stroke="#4D4D4D" stroke-width="0.25">0.56</text>
<line x1="693.9" y1="1269.25" x2="702.5" y2="1269.25" stroke="#333333" stroke-width="2.8"/>
<text x="688.1" y="1279.05" font-size="25.8" text-anchor="end" fill="#4D4D4D" stroke="#4D4D4D" stroke-width="0.25">0.52</text>
<line x1="693.9" y1="1301.75" x2="702.5" y2="1301.75" stroke="#333333" stroke-width="2.8"/>
<text x="688.1" y="1311.55" font-size="25.8" text-anchor="end" fill="#4D4D4D" stroke="#4D4D4D" stroke-width="0.25">0.48</text>
<line x1="727.54" y1="1305.7" x2="727.54" y2="1314.1" stroke="#333333" stroke-width="2.8"/>
<text x="727.54" y="1337.9" font-size="25.8" text-anchor="middle" fill="#4D4D4D" stroke="#4D4D4D" stroke-width="0.25">1</text>
<line x1="769.27" y1="1305.7" x2="769.27" y2="1314.1" stroke="#333333" stroke-width="2.8"/>
<text x="769.27" y="1337.9" font-size="25.8" text-anchor="middle" fill="#4D4D4D" stroke="#4D4D4D" stroke-width="0.25">2</text>
<line x1="811" y1="1305.7" x2="811" y2="1314.1" stroke="#333333" stroke-width="2.8"/>
<text x="811" y="1337.9" font-size="25.8" text-anchor="middle" fill="#4D4D4D" stroke="#4D4D4D" stroke-width="0.25">3</text>
<line x1="852.73" y1="1305.7" x2="852.73" y2="1314.1" stroke="#333333" stroke-width="2.8"/>
<text x="852.73" y="1337.9" font-size="25.8" text-anchor="middle" fill="#4D4D4D" stroke="#4D4D4D" stroke-width="0.25">4</text>
<line x1="894.46" y1="1305.7" x2="894.46" y2="1314.1" stroke="#333333" stroke-width="2.8"/>
<text x="894.46" y="1337.9" font-size="25.8" text-anchor="middle" fill="#4D4D4D" stroke="#4D4D4D" stroke-width="0.25">5</text>
<circle cx="727.54" cy="1211.25" r="6.1" fill="#666666"/>
<circle cx="769.27" cy="1220" r="6.1" fill="#666666"/>
<circle cx="811" cy="1243.75" r="6.1" fill="#666666"/>
<circle cx="852.73" cy="1270" r="6.1" fill="#666666"/>
<circle cx="894.46" cy="1267.5" r="6.1" fill="#666666"/>
<rect x="721.54" y="1219" width="12" height="12" fill="#2F96FB"/>
<rect x="763.27" y="1225.25" width="12" height="12" fill="#2F96FB"/>
<rect x="805" y="1248.5" width="12" height="12" fill="#2F96FB"/>
<rect x="846.73" y="1274" width="12" height="12" fill="#2F96FB"/>
<rect x="888.46" y="1267.75" width="12" height="12" fill="#2F96FB"/>
<path d="M721.54 1223.75L727.54 1217.75L733.54 1223.75L727.54 1229.75Z" fill="#FF9000"/>
<path d="M763.27 1226.25L769.27 1220.25L775.27 1226.25L769.27 1232.25Z" fill="#FF9000"/>
<path d="M805 1251.25L811 1245.25L817 1251.25L811 1257.25Z" fill="#FF9000"/>
<path d="M846.73 1288L852.73 1282L858.73 1288L852.73 1294Z" fill="#FF9000"/>
<path d="M888.46 1272L894.46 1266L900.46 1272L894.46 1278Z" fill="#FF9000"/>
<polyline points="727.54,1211.25 769.27,1220 811,1243.75 852.73,1270 894.46,1267.5" fill="none" stroke="#666666" stroke-width="3.3" stroke-linejoin="round"/>
<polyline points="727.54,1225 769.27,1231.25 811,1254.5 852.73,1280 894.46,1273.75" fill="none" stroke="#2F96FB" stroke-width="3.3" stroke-linejoin="round" stroke-dasharray="4.8 4.8"/>
<polyline points="727.54,1223.75 769.27,1226.25 811,1251.25 852.73,1288 894.46,1272" fill="none" stroke="#FF9000" stroke-width="3.3" stroke-linejoin="round" stroke-dasharray="10.5 4.5"/>
<path d="M723.34 1197.5H731.74H727.54V1225H723.34H731.74" fill="none" stroke="#666666" stroke-width="2.9"/>
<path d="M765.07 1210.5H773.47H769.27V1229.5H765.07H773.47" fill="none" stroke="#666666" stroke-width="2.9"/>
<path d="M806.8 1236.25H815.2H811V1251.25H806.8H815.2" fill="none" stroke="#666666" stroke-width="2.9"/>
<path d="M848.53 1263H856.93H852.73V1277H848.53H856.93" fill="none" stroke="#666666" stroke-width="2.9"/>
<path d="M890.26 1259.5H898.66H894.46V1275.5H890.26H898.66" fill="none" stroke="#666666" stroke-width="2.9"/>
<path d="M723.34 1216H731.74H727.54V1234H723.34H731.74" fill="none" stroke="#2F96FB" stroke-width="2.9" stroke-dasharray="4.8 4.8"/>
<path d="M765.07 1222.25H773.47H769.27V1240.25H765.07H773.47" fill="none" stroke="#2F96FB" stroke-width="2.9" stroke-dasharray="4.8 4.8"/>
<path d="M806.8 1247.5H815.2H811V1261.5H806.8H815.2" fill="none" stroke="#2F96FB" stroke-width="2.9" stroke-dasharray="4.8 4.8"/>
<path d="M848.53 1273H856.93H852.73V1287H848.53H856.93" fill="none" stroke="#2F96FB" stroke-width="2.9" stroke-dasharray="4.8 4.8"/>
<path d="M890.26 1265.25H898.66H894.46V1282.25H890.26H898.66" fill="none" stroke="#2F96FB" stroke-width="2.9" stroke-dasharray="4.8 4.8"/>
<path d="M723.34 1209.75H731.74H727.54V1237.75H723.34H731.74" fill="none" stroke="#FF9000" stroke-width="2.9" stroke-dasharray="10.5 4.5"/>
<path d="M765.07 1213.25H773.47H769.27V1239.25H765.07H773.47" fill="none" stroke="#FF9000" stroke-width="2.9" stroke-dasharray="10.5 4.5"/>
<path d="M806.8 1241.25H815.2H811V1261.25H806.8H815.2" fill="none" stroke="#FF9000" stroke-width="2.9" stroke-dasharray="10.5 4.5"/>
<path d="M848.53 1279H856.93H852.73V1297H848.53H856.93" fill="none" stroke="#FF9000" stroke-width="2.9" stroke-dasharray="10.5 4.5"/>
<path d="M890.26 1264H898.66H894.46V1280H890.26H898.66" fill="none" stroke="#FF9000" stroke-width="2.9" stroke-dasharray="10.5 4.5"/>
<text x="852.73" y="1261.8" font-size="22" text-anchor="middle" fill="#000" stroke="#000" stroke-width="0.3">#</text>
<rect x="999.5" y="1129.4" width="217" height="48" fill="#D9D9D9" stroke="#333333" stroke-width="1.9"/>
<rect x="999.5" y="1177.4" width="217" height="128.3" fill="#fff" stroke="#333333" stroke-width="1.9"/>
<line x1="998.55" y1="1177.7" x2="1217.45" y2="1177.7" stroke="#333333" stroke-width="3"/>
<text x="1108" y="1162.6" font-size="25.4" text-anchor="middle" fill="#1A1A1A" stroke="#1A1A1A" stroke-width="0.25">IFOF (R)</text>
<line x1="990.9" y1="1178.5" x2="999.5" y2="1178.5" stroke="#333333" stroke-width="2.8"/>
<text x="985.1" y="1188.3" font-size="25.8" text-anchor="end" fill="#4D4D4D" stroke="#4D4D4D" stroke-width="0.25">0.62</text>
<line x1="990.9" y1="1212.25" x2="999.5" y2="1212.25" stroke="#333333" stroke-width="2.8"/>
<text x="985.1" y="1222.05" font-size="25.8" text-anchor="end" fill="#4D4D4D" stroke="#4D4D4D" stroke-width="0.25">0.58</text>
<line x1="990.9" y1="1246" x2="999.5" y2="1246" stroke="#333333" stroke-width="2.8"/>
<text x="985.1" y="1255.8" font-size="25.8" text-anchor="end" fill="#4D4D4D" stroke="#4D4D4D" stroke-width="0.25">0.54</text>
<line x1="990.9" y1="1279.75" x2="999.5" y2="1279.75" stroke="#333333" stroke-width="2.8"/>
<text x="985.1" y="1289.55" font-size="25.8" text-anchor="end" fill="#4D4D4D" stroke="#4D4D4D" stroke-width="0.25">0.50</text>
<line x1="1024.54" y1="1305.7" x2="1024.54" y2="1314.1" stroke="#333333" stroke-width="2.8"/>
<text x="1024.54" y="1337.9" font-size="25.8" text-anchor="middle" fill="#4D4D4D" stroke="#4D4D4D" stroke-width="0.25">1</text>
<line x1="1066.27" y1="1305.7" x2="1066.27" y2="1314.1" stroke="#333333" stroke-width="2.8"/>
<text x="1066.27" y="1337.9" font-size="25.8" text-anchor="middle" fill="#4D4D4D" stroke="#4D4D4D" stroke-width="0.25">2</text>
<line x1="1108" y1="1305.7" x2="1108" y2="1314.1" stroke="#333333" stroke-width="2.8"/>
<text x="1108" y="1337.9" font-size="25.8" text-anchor="middle" fill="#4D4D4D" stroke="#4D4D4D" stroke-width="0.25">3</text>
<line x1="1149.73" y1="1305.7" x2="1149.73" y2="1314.1" stroke="#333333" stroke-width="2.8"/>
<text x="1149.73" y="1337.9" font-size="25.8" text-anchor="middle" fill="#4D4D4D" stroke="#4D4D4D" stroke-width="0.25">4</text>
<line x1="1191.46" y1="1305.7" x2="1191.46" y2="1314.1" stroke="#333333" stroke-width="2.8"/>
<text x="1191.46" y="1337.9" font-size="25.8" text-anchor="middle" fill="#4D4D4D" stroke="#4D4D4D" stroke-width="0.25">5</text>
<circle cx="1024.54" cy="1212.5" r="6.1" fill="#666666"/>
<circle cx="1066.27" cy="1208" r="6.1" fill="#666666"/>
<circle cx="1108" cy="1250" r="6.1" fill="#666666"/>
<circle cx="1149.73" cy="1270.75" r="6.1" fill="#666666"/>
<circle cx="1191.46" cy="1269.5" r="6.1" fill="#666666"/>
<rect x="1018.54" y="1212.75" width="12" height="12" fill="#2F96FB"/>
<rect x="1060.27" y="1211" width="12" height="12" fill="#2F96FB"/>
<rect x="1102" y="1255.25" width="12" height="12" fill="#2F96FB"/>
<rect x="1143.73" y="1275.25" width="12" height="12" fill="#2F96FB"/>
<rect x="1185.46" y="1267.75" width="12" height="12" fill="#2F96FB"/>
<path d="M1018.54 1211.25L1024.54 1205.25L1030.54 1211.25L1024.54 1217.25Z" fill="#FF9000"/>
<path d="M1060.27 1216.25L1066.27 1210.25L1072.27 1216.25L1066.27 1222.25Z" fill="#FF9000"/>
<path d="M1102 1270L1108 1264L1114 1270L1108 1276Z" fill="#FF9000"/>
<path d="M1143.73 1288L1149.73 1282L1155.73 1288L1149.73 1294Z" fill="#FF9000"/>
<path d="M1185.46 1272.5L1191.46 1266.5L1197.46 1272.5L1191.46 1278.5Z" fill="#FF9000"/>
<polyline points="1024.54,1212.5 1066.27,1208 1108,1250 1149.73,1270.75 1191.46,1269.5" fill="none" stroke="#666666" stroke-width="3.3" stroke-linejoin="round"/>
<polyline points="1024.54,1218.75 1066.27,1217 1108,1261.25 1149.73,1281.25 1191.46,1273.75" fill="none" stroke="#2F96FB" stroke-width="3.3" stroke-linejoin="round" stroke-dasharray="4.8 4.8"/>
<polyline points="1024.54,1211.25 1066.27,1216.25 1108,1270 1149.73,1288 1191.46,1272.5" fill="none" stroke="#FF9000" stroke-width="3.3" stroke-linejoin="round" stroke-dasharray="10.5 4.5"/>
<path d="M1020.34 1203.5H1028.74H1024.54V1221.5H1020.34H1028.74" fill="none" stroke="#666666" stroke-width="2.9"/>
<path d="M1062.07 1199H1070.47H1066.27V1217H1062.07H1070.47" fill="none" stroke="#666666" stroke-width="2.9"/>
<path d="M1103.8 1242H1112.2H1108V1258H1103.8H1112.2" fill="none" stroke="#666666" stroke-width="2.9"/>
<path d="M1145.53 1263.75H1153.93H1149.73V1277.75H1145.53H1153.93" fill="none" stroke="#666666" stroke-width="2.9"/>
<path d="M1187.26 1261.5H1195.66H1191.46V1277.5H1187.26H1195.66" fill="none" stroke="#666666" stroke-width="2.9"/>
<path d="M1020.34 1205.75H1028.74H1024.54V1231.75H1020.34H1028.74" fill="none" stroke="#2F96FB" stroke-width="2.9" stroke-dasharray="4.8 4.8"/>
<path d="M1062.07 1207H1070.47H1066.27V1227H1062.07H1070.47" fill="none" stroke="#2F96FB" stroke-width="2.9" stroke-dasharray="4.8 4.8"/>
<path d="M1103.8 1253.25H1112.2H1108V1269.25H1103.8H1112.2" fill="none" stroke="#2F96FB" stroke-width="2.9" stroke-dasharray="4.8 4.8"/>
<path d="M1145.53 1273.25H1153.93H1149.73V1289.25H1145.53H1153.93" fill="none" stroke="#2F96FB" stroke-width="2.9" stroke-dasharray="4.8 4.8"/>
<path d="M1187.26 1265.75H1195.66H1191.46V1281.75H1187.26H1195.66" fill="none" stroke="#2F96FB" stroke-width="2.9" stroke-dasharray="4.8 4.8"/>
<path d="M1020.34 1197.25H1028.74H1024.54V1225.25H1020.34H1028.74" fill="none" stroke="#FF9000" stroke-width="2.9" stroke-dasharray="10.5 4.5"/>
<path d="M1062.07 1202.75H1070.47H1066.27V1229.75H1062.07H1070.47" fill="none" stroke="#FF9000" stroke-width="2.9" stroke-dasharray="10.5 4.5"/>
<path d="M1103.8 1257.5H1112.2H1108V1282.5H1103.8H1112.2" fill="none" stroke="#FF9000" stroke-width="2.9" stroke-dasharray="10.5 4.5"/>
<path d="M1145.53 1279H1153.93H1149.73V1297H1145.53H1153.93" fill="none" stroke="#FF9000" stroke-width="2.9" stroke-dasharray="10.5 4.5"/>
<path d="M1187.26 1262.5H1195.66H1191.46V1282.5H1187.26H1195.66" fill="none" stroke="#FF9000" stroke-width="2.9" stroke-dasharray="10.5 4.5"/>
<text x="1108" y="1224.65" font-size="37" text-anchor="middle" fill="#000" stroke="#000" stroke-width="0.5" stroke-linejoin="round">*</text>
<text x="1108" y="1232.3" font-size="22" text-anchor="middle" fill="#000" stroke="#000" stroke-width="0.3">##</text>
<text x="1149.73" y="1246.4" font-size="37" text-anchor="middle" fill="#000" stroke="#000" stroke-width="0.5" stroke-linejoin="round">*</text>
<text x="1149.73" y="1254.3" font-size="22" text-anchor="middle" fill="#000" stroke="#000" stroke-width="0.3">#</text>
<rect x="1311" y="1129.4" width="216.75" height="48" fill="#D9D9D9" stroke="#333333" stroke-width="1.9"/>
<rect x="1311" y="1177.4" width="216.75" height="128.3" fill="#fff" stroke="#333333" stroke-width="1.9"/>
<line x1="1310.05" y1="1177.7" x2="1528.7" y2="1177.7" stroke="#333333" stroke-width="3"/>
<text x="1419.38" y="1162.6" font-size="25.4" text-anchor="middle" fill="#1A1A1A" stroke="#1A1A1A" stroke-width="0.25">SLF I (L)</text>
<line x1="1302.4" y1="1178" x2="1311" y2="1178" stroke="#333333" stroke-width="2.8"/>
<text x="1296.6" y="1187.8" font-size="25.8" text-anchor="end" fill="#4D4D4D" stroke="#4D4D4D" stroke-width="0.25">0.675</text>
<line x1="1302.4" y1="1203.25" x2="1311" y2="1203.25" stroke="#333333" stroke-width="2.8"/>
<text x="1296.6" y="1213.05" font-size="25.8" text-anchor="end" fill="#4D4D4D" stroke="#4D4D4D" stroke-width="0.25">0.650</text>
<line x1="1302.4" y1="1228.25" x2="1311" y2="1228.25" stroke="#333333" stroke-width="2.8"/>
<text x="1296.6" y="1238.05" font-size="25.8" text-anchor="end" fill="#4D4D4D" stroke="#4D4D4D" stroke-width="0.25">0.625</text>
<line x1="1302.4" y1="1253.25" x2="1311" y2="1253.25" stroke="#333333" stroke-width="2.8"/>
<text x="1296.6" y="1263.05" font-size="25.8" text-anchor="end" fill="#4D4D4D" stroke="#4D4D4D" stroke-width="0.25">0.600</text>
<line x1="1302.4" y1="1278.5" x2="1311" y2="1278.5" stroke="#333333" stroke-width="2.8"/>
<text x="1296.6" y="1288.3" font-size="25.8" text-anchor="end" fill="#4D4D4D" stroke="#4D4D4D" stroke-width="0.25">0.575</text>
<line x1="1302.4" y1="1303.5" x2="1311" y2="1303.5" stroke="#333333" stroke-width="2.8"/>
<text x="1296.6" y="1313.3" font-size="25.8" text-anchor="end" fill="#4D4D4D" stroke="#4D4D4D" stroke-width="0.25">0.550</text>
<line x1="1336.01" y1="1305.7" x2="1336.01" y2="1314.1" stroke="#333333" stroke-width="2.8"/>
<text x="1336.01" y="1337.9" font-size="25.8" text-anchor="middle" fill="#4D4D4D" stroke="#4D4D4D" stroke-width="0.25">1</text>
<line x1="1377.69" y1="1305.7" x2="1377.69" y2="1314.1" stroke="#333333" stroke-width="2.8"/>
<text x="1377.69" y="1337.9" font-size="25.8" text-anchor="middle" fill="#4D4D4D" stroke="#4D4D4D" stroke-width="0.25">2</text>
<line x1="1419.38" y1="1305.7" x2="1419.38" y2="1314.1" stroke="#333333" stroke-width="2.8"/>
<text x="1419.38" y="1337.9" font-size="25.8" text-anchor="middle" fill="#4D4D4D" stroke="#4D4D4D" stroke-width="0.25">3</text>
<line x1="1461.06" y1="1305.7" x2="1461.06" y2="1314.1" stroke="#333333" stroke-width="2.8"/>
<text x="1461.06" y="1337.9" font-size="25.8" text-anchor="middle" fill="#4D4D4D" stroke="#4D4D4D" stroke-width="0.25">4</text>
<line x1="1502.74" y1="1305.7" x2="1502.74" y2="1314.1" stroke="#333333" stroke-width="2.8"/>
<text x="1502.74" y="1337.9" font-size="25.8" text-anchor="middle" fill="#4D4D4D" stroke="#4D4D4D" stroke-width="0.25">5</text>
<circle cx="1336.01" cy="1265" r="6.1" fill="#666666"/>
<circle cx="1377.69" cy="1242.5" r="6.1" fill="#666666"/>
<circle cx="1419.38" cy="1207.5" r="6.1" fill="#666666"/>
<circle cx="1461.06" cy="1240.5" r="6.1" fill="#666666"/>
<circle cx="1502.74" cy="1268" r="6.1" fill="#666666"/>
<rect x="1330.01" y="1277.75" width="12" height="12" fill="#2F96FB"/>
<rect x="1371.69" y="1255.25" width="12" height="12" fill="#2F96FB"/>
<rect x="1413.38" y="1211.5" width="12" height="12" fill="#2F96FB"/>
<rect x="1455.06" y="1252.75" width="12" height="12" fill="#2F96FB"/>
<rect x="1496.74" y="1280.25" width="12" height="12" fill="#2F96FB"/>
<path d="M1330.01 1277.5L1336.01 1271.5L1342.01 1277.5L1336.01 1283.5Z" fill="#FF9000"/>
<path d="M1371.69 1247.5L1377.69 1241.5L1383.69 1247.5L1377.69 1253.5Z" fill="#FF9000"/>
<path d="M1413.38 1210L1419.38 1204L1425.38 1210L1419.38 1216Z" fill="#FF9000"/>
<path d="M1455.06 1254.5L1461.06 1248.5L1467.06 1254.5L1461.06 1260.5Z" fill="#FF9000"/>
<path d="M1496.74 1277L1502.74 1271L1508.74 1277L1502.74 1283Z" fill="#FF9000"/>
<polyline points="1336.01,1265 1377.69,1242.5 1419.38,1207.5 1461.06,1240.5 1502.74,1268" fill="none" stroke="#666666" stroke-width="3.3" stroke-linejoin="round"/>
<polyline points="1336.01,1283.75 1377.69,1261.25 1419.38,1217.5 1461.06,1258.75 1502.74,1286.25" fill="none" stroke="#2F96FB" stroke-width="3.3" stroke-linejoin="round" stroke-dasharray="4.8 4.8"/>
<polyline points="1336.01,1277.5 1377.69,1247.5 1419.38,1210 1461.06,1254.5 1502.74,1277" fill="none" stroke="#FF9000" stroke-width="3.3" stroke-linejoin="round" stroke-dasharray="10.5 4.5"/>
<path d="M1331.81 1251.25H1340.21H1336.01V1278.75H1331.81H1340.21" fill="none" stroke="#666666" stroke-width="2.9"/>
<path d="M1373.49 1232H1381.89H1377.69V1253H1373.49H1381.89" fill="none" stroke="#666666" stroke-width="2.9"/>
<path d="M1415.17 1198.5H1423.58H1419.38V1216.5H1415.17H1423.58" fill="none" stroke="#666666" stroke-width="2.9"/>
<path d="M1456.86 1232.5H1465.26H1461.06V1248.5H1456.86H1465.26" fill="none" stroke="#666666" stroke-width="2.9"/>
<path d="M1498.54 1260H1506.94H1502.74V1276H1498.54H1506.94" fill="none" stroke="#666666" stroke-width="2.9"/>
<path d="M1331.81 1270.75H1340.21H1336.01V1296.75H1331.81H1340.21" fill="none" stroke="#2F96FB" stroke-width="2.9" stroke-dasharray="4.8 4.8"/>
<path d="M1373.49 1250.25H1381.89H1377.69V1272.25H1373.49H1381.89" fill="none" stroke="#2F96FB" stroke-width="2.9" stroke-dasharray="4.8 4.8"/>
<path d="M1415.17 1208.5H1423.58H1419.38V1226.5H1415.17H1423.58" fill="none" stroke="#2F96FB" stroke-width="2.9" stroke-dasharray="4.8 4.8"/>
<path d="M1456.86 1249.75H1465.26H1461.06V1267.75H1456.86H1465.26" fill="none" stroke="#2F96FB" stroke-width="2.9" stroke-dasharray="4.8 4.8"/>
<path d="M1498.54 1277.25H1506.94H1502.74V1295.25H1498.54H1506.94" fill="none" stroke="#2F96FB" stroke-width="2.9" stroke-dasharray="4.8 4.8"/>
<path d="M1331.81 1264.5H1340.21H1336.01V1290.5H1331.81H1340.21" fill="none" stroke="#FF9000" stroke-width="2.9" stroke-dasharray="10.5 4.5"/>
<path d="M1373.49 1236.5H1381.89H1377.69V1258.5H1373.49H1381.89" fill="none" stroke="#FF9000" stroke-width="2.9" stroke-dasharray="10.5 4.5"/>
<path d="M1415.17 1197.5H1423.58H1419.38V1222.5H1415.17H1423.58" fill="none" stroke="#FF9000" stroke-width="2.9" stroke-dasharray="10.5 4.5"/>
<path d="M1456.86 1243H1465.26H1461.06V1266H1456.86H1465.26" fill="none" stroke="#FF9000" stroke-width="2.9" stroke-dasharray="10.5 4.5"/>
<path d="M1498.54 1268H1506.94H1502.74V1286H1498.54H1506.94" fill="none" stroke="#FF9000" stroke-width="2.9" stroke-dasharray="10.5 4.5"/>
<text x="1461.06" y="1233.4" font-size="37" text-anchor="middle" fill="#000" stroke="#000" stroke-width="0.5" stroke-linejoin="round">*</text>
<text x="1502.74" y="1261.4" font-size="37" text-anchor="middle" fill="#000" stroke="#000" stroke-width="0.5" stroke-linejoin="round">*</text>
<rect x="108" y="1361.6" width="217" height="48" fill="#D9D9D9" stroke="#333333" stroke-width="1.9"/>
<rect x="108" y="1409.6" width="217" height="128.3" fill="#fff" stroke="#333333" stroke-width="1.9"/>
<line x1="107.05" y1="1409.9" x2="325.95" y2="1409.9" stroke="#333333" stroke-width="3"/>
<text x="216.5" y="1394.8" font-size="25.4" text-anchor="middle" fill="#1A1A1A" stroke="#1A1A1A" stroke-width="0.25">SLF I (R)</text>
<line x1="99.4" y1="1442.5" x2="108" y2="1442.5" stroke="#333333" stroke-width="2.8"/>
<text x="93.6" y="1452.3" font-size="25.8" text-anchor="end" fill="#4D4D4D" stroke="#4D4D4D" stroke-width="0.25">0.64</text>
<line x1="99.4" y1="1476.75" x2="108" y2="1476.75" stroke="#333333" stroke-width="2.8"/>
<text x="93.6" y="1486.55" font-size="25.8" text-anchor="end" fill="#4D4D4D" stroke="#4D4D4D" stroke-width="0.25">0.60</text>
<line x1="99.4" y1="1511.25" x2="108" y2="1511.25" stroke="#333333" stroke-width="2.8"/>
<text x="93.6" y="1521.05" font-size="25.8" text-anchor="end" fill="#4D4D4D" stroke="#4D4D4D" stroke-width="0.25">0.56</text>
<line x1="133.04" y1="1537.9" x2="133.04" y2="1546.3" stroke="#333333" stroke-width="2.8"/>
<text x="133.04" y="1570.1" font-size="25.8" text-anchor="middle" fill="#4D4D4D" stroke="#4D4D4D" stroke-width="0.25">1</text>
<line x1="174.77" y1="1537.9" x2="174.77" y2="1546.3" stroke="#333333" stroke-width="2.8"/>
<text x="174.77" y="1570.1" font-size="25.8" text-anchor="middle" fill="#4D4D4D" stroke="#4D4D4D" stroke-width="0.25">2</text>
<line x1="216.5" y1="1537.9" x2="216.5" y2="1546.3" stroke="#333333" stroke-width="2.8"/>
<text x="216.5" y="1570.1" font-size="25.8" text-anchor="middle" fill="#4D4D4D" stroke="#4D4D4D" stroke-width="0.25">3</text>
<line x1="258.23" y1="1537.9" x2="258.23" y2="1546.3" stroke="#333333" stroke-width="2.8"/>
<text x="258.23" y="1570.1" font-size="25.8" text-anchor="middle" fill="#4D4D4D" stroke="#4D4D4D" stroke-width="0.25">4</text>
<line x1="299.96" y1="1537.9" x2="299.96" y2="1546.3" stroke="#333333" stroke-width="2.8"/>
<text x="299.96" y="1570.1" font-size="25.8" text-anchor="middle" fill="#4D4D4D" stroke="#4D4D4D" stroke-width="0.25">5</text>
<circle cx="133.04" cy="1507" r="6.1" fill="#666666"/>
<circle cx="174.77" cy="1477.5" r="6.1" fill="#666666"/>
<circle cx="216.5" cy="1438.75" r="6.1" fill="#666666"/>
<circle cx="258.23" cy="1468" r="6.1" fill="#666666"/>
<circle cx="299.96" cy="1507" r="6.1" fill="#666666"/>
<rect x="127.04" y="1510.25" width="12" height="12" fill="#2F96FB"/>
<rect x="168.77" y="1490.25" width="12" height="12" fill="#2F96FB"/>
<rect x="210.5" y="1446" width="12" height="12" fill="#2F96FB"/>
<rect x="252.23" y="1479" width="12" height="12" fill="#2F96FB"/>
<rect x="293.96" y="1515.25" width="12" height="12" fill="#2F96FB"/>
<path d="M127.04 1512.5L133.04 1506.5L139.04 1512.5L133.04 1518.5Z" fill="#FF9000"/>
<path d="M168.77 1488.75L174.77 1482.75L180.77 1488.75L174.77 1494.75Z" fill="#FF9000"/>
<path d="M210.5 1445L216.5 1439L222.5 1445L216.5 1451Z" fill="#FF9000"/>
<path d="M252.23 1475L258.23 1469L264.23 1475L258.23 1481Z" fill="#FF9000"/>
<path d="M293.96 1511.25L299.96 1505.25L305.96 1511.25L299.96 1517.25Z" fill="#FF9000"/>
<polyline points="133.04,1507 174.77,1477.5 216.5,1438.75 258.23,1468 299.96,1507" fill="none" stroke="#666666" stroke-width="3.3" stroke-linejoin="round"/>
<polyline points="133.04,1516.25 174.77,1496.25 216.5,1452 258.23,1485 299.96,1521.25" fill="none" stroke="#2F96FB" stroke-width="3.3" stroke-linejoin="round" stroke-dasharray="4.8 4.8"/>
<polyline points="133.04,1512.5 174.77,1488.75 216.5,1445 258.23,1475 299.96,1511.25" fill="none" stroke="#FF9000" stroke-width="3.3" stroke-linejoin="round" stroke-dasharray="10.5 4.5"/>
<path d="M128.84 1496.5H137.24H133.04V1517.5H128.84H137.24" fill="none" stroke="#666666" stroke-width="2.9"/>
<path d="M170.57 1468.75H178.97H174.77V1486.25H170.57H178.97" fill="none" stroke="#666666" stroke-width="2.9"/>
<path d="M212.3 1429.75H220.7H216.5V1447.75H212.3H220.7" fill="none" stroke="#666666" stroke-width="2.9"/>
<path d="M254.03 1459.5H262.43H258.23V1476.5H254.03H262.43" fill="none" stroke="#666666" stroke-width="2.9"/>
<path d="M295.76 1499H304.16H299.96V1515H295.76H304.16" fill="none" stroke="#666666" stroke-width="2.9"/>
<path d="M128.84 1505.75H137.24H133.04V1526.75H128.84H137.24" fill="none" stroke="#2F96FB" stroke-width="2.9" stroke-dasharray="4.8 4.8"/>
<path d="M170.57 1487.5H178.97H174.77V1505H170.57H178.97" fill="none" stroke="#2F96FB" stroke-width="2.9" stroke-dasharray="4.8 4.8"/>
<path d="M212.3 1444H220.7H216.5V1460H212.3H220.7" fill="none" stroke="#2F96FB" stroke-width="2.9" stroke-dasharray="4.8 4.8"/>
<path d="M254.03 1476.25H262.43H258.23V1493.75H254.03H262.43" fill="none" stroke="#2F96FB" stroke-width="2.9" stroke-dasharray="4.8 4.8"/>
<path d="M295.76 1512.5H304.16H299.96V1530H295.76H304.16" fill="none" stroke="#2F96FB" stroke-width="2.9" stroke-dasharray="4.8 4.8"/>
<path d="M128.84 1502.5H137.24H133.04V1522.5H128.84H137.24" fill="none" stroke="#FF9000" stroke-width="2.9" stroke-dasharray="10.5 4.5"/>
<path d="M170.57 1479.75H178.97H174.77V1497.75H170.57H178.97" fill="none" stroke="#FF9000" stroke-width="2.9" stroke-dasharray="10.5 4.5"/>
<path d="M212.3 1436H220.7H216.5V1454H212.3H220.7" fill="none" stroke="#FF9000" stroke-width="2.9" stroke-dasharray="10.5 4.5"/>
<path d="M254.03 1466H262.43H258.23V1484H254.03H262.43" fill="none" stroke="#FF9000" stroke-width="2.9" stroke-dasharray="10.5 4.5"/>
<path d="M295.76 1503.25H304.16H299.96V1519.25H295.76H304.16" fill="none" stroke="#FF9000" stroke-width="2.9" stroke-dasharray="10.5 4.5"/>
<text x="174.77" y="1469.65" font-size="37" text-anchor="middle" fill="#000" stroke="#000" stroke-width="0.5" stroke-linejoin="round">*</text>
<text x="258.23" y="1460.15" font-size="37" text-anchor="middle" fill="#000" stroke="#000" stroke-width="0.5" stroke-linejoin="round">*</text>
<rect x="405.75" y="1361.6" width="216" height="48" fill="#D9D9D9" stroke="#333333" stroke-width="1.9"/>
<rect x="405.75" y="1409.6" width="216" height="128.3" fill="#fff" stroke="#333333" stroke-width="1.9"/>
<line x1="404.8" y1="1409.9" x2="622.7" y2="1409.9" stroke="#333333" stroke-width="3"/>
<text x="513.75" y="1394.8" font-size="25.4" text-anchor="middle" fill="#1A1A1A" stroke="#1A1A1A" stroke-width="0.25">SLF II (L)</text>
<line x1="397.15" y1="1428.75" x2="405.75" y2="1428.75" stroke="#333333" stroke-width="2.8"/>
<text x="391.35" y="1438.55" font-size="25.8" text-anchor="end" fill="#4D4D4D" stroke="#4D4D4D" stroke-width="0.25">0.70</text>
<line x1="397.15" y1="1459.75" x2="405.75" y2="1459.75" stroke="#333333" stroke-width="2.8"/>
<text x="391.35" y="1469.55" font-size="25.8" text-anchor="end" fill="#4D4D4D" stroke="#4D4D4D" stroke-width="0.25">0.65</text>
<line x1="397.15" y1="1490.75" x2="405.75" y2="1490.75" stroke="#333333" stroke-width="2.8"/>
<text x="391.35" y="1500.55" font-size="25.8" text-anchor="end" fill="#4D4D4D" stroke="#4D4D4D" stroke-width="0.25">0.60</text>
<line x1="397.15" y1="1522" x2="405.75" y2="1522" stroke="#333333" stroke-width="2.8"/>
<text x="391.35" y="1531.8" font-size="25.8" text-anchor="end" fill="#4D4D4D" stroke="#4D4D4D" stroke-width="0.25">0.55</text>
<line x1="430.67" y1="1537.9" x2="430.67" y2="1546.3" stroke="#333333" stroke-width="2.8"/>
<text x="430.67" y="1570.1" font-size="25.8" text-anchor="middle" fill="#4D4D4D" stroke="#4D4D4D" stroke-width="0.25">1</text>
<line x1="472.21" y1="1537.9" x2="472.21" y2="1546.3" stroke="#333333" stroke-width="2.8"/>
<text x="472.21" y="1570.1" font-size="25.8" text-anchor="middle" fill="#4D4D4D" stroke="#4D4D4D" stroke-width="0.25">2</text>
<line x1="513.75" y1="1537.9" x2="513.75" y2="1546.3" stroke="#333333" stroke-width="2.8"/>
<text x="513.75" y="1570.1" font-size="25.8" text-anchor="middle" fill="#4D4D4D" stroke="#4D4D4D" stroke-width="0.25">3</text>
<line x1="555.29" y1="1537.9" x2="555.29" y2="1546.3" stroke="#333333" stroke-width="2.8"/>
<text x="555.29" y="1570.1" font-size="25.8" text-anchor="middle" fill="#4D4D4D" stroke="#4D4D4D" stroke-width="0.25">4</text>
<line x1="596.83" y1="1537.9" x2="596.83" y2="1546.3" stroke="#333333" stroke-width="2.8"/>
<text x="596.83" y="1570.1" font-size="25.8" text-anchor="middle" fill="#4D4D4D" stroke="#4D4D4D" stroke-width="0.25">5</text>
<circle cx="430.67" cy="1485" r="6.1" fill="#666666"/>
<circle cx="472.21" cy="1473.75" r="6.1" fill="#666666"/>
<circle cx="513.75" cy="1440" r="6.1" fill="#666666"/>
<circle cx="555.29" cy="1473" r="6.1" fill="#666666"/>
<circle cx="596.83" cy="1512.5" r="6.1" fill="#666666"/>
<rect x="424.67" y="1496" width="12" height="12" fill="#2F96FB"/>
<rect x="466.21" y="1484" width="12" height="12" fill="#2F96FB"/>
<rect x="507.75" y="1443.5" width="12" height="12" fill="#2F96FB"/>
<rect x="549.29" y="1477.75" width="12" height="12" fill="#2F96FB"/>
<rect x="590.83" y="1517.75" width="12" height="12" fill="#2F96FB"/>
<path d="M424.67 1489.5L430.67 1483.5L436.67 1489.5L430.67 1495.5Z" fill="#FF9000"/>
<path d="M466.21 1480L472.21 1474L478.21 1480L472.21 1486Z" fill="#FF9000"/>
<path d="M507.75 1436.25L513.75 1430.25L519.75 1436.25L513.75 1442.25Z" fill="#FF9000"/>
<path d="M549.29 1477L555.29 1471L561.29 1477L555.29 1483Z" fill="#FF9000"/>
<path d="M590.83 1515L596.83 1509L602.83 1515L596.83 1521Z" fill="#FF9000"/>
<polyline points="430.67,1485 472.21,1473.75 513.75,1440 555.29,1473 596.83,1512.5" fill="none" stroke="#666666" stroke-width="3.3" stroke-linejoin="round"/>
<polyline points="430.67,1502 472.21,1490 513.75,1449.5 555.29,1483.75 596.83,1523.75" fill="none" stroke="#2F96FB" stroke-width="3.3" stroke-linejoin="round" stroke-dasharray="4.8 4.8"/>
<polyline points="430.67,1489.5 472.21,1480 513.75,1436.25 555.29,1477 596.83,1515" fill="none" stroke="#FF9000" stroke-width="3.3" stroke-linejoin="round" stroke-dasharray="10.5 4.5"/>
<path d="M426.47 1477H434.87H430.67V1493H426.47H434.87" fill="none" stroke="#666666" stroke-width="2.9"/>
<path d="M468.01 1466.25H476.41H472.21V1481.25H468.01H476.41" fill="none" stroke="#666666" stroke-width="2.9"/>
<path d="M509.55 1434H517.95H513.75V1446H509.55H517.95" fill="none" stroke="#666666" stroke-width="2.9"/>
<path d="M551.09 1467H559.49H555.29V1479H551.09H559.49" fill="none" stroke="#666666" stroke-width="2.9"/>
<path d="M592.63 1506.5H601.03H596.83V1518.5H592.63H601.03" fill="none" stroke="#666666" stroke-width="2.9"/>
<path d="M426.47 1493.5H434.87H430.67V1510.5H426.47H434.87" fill="none" stroke="#2F96FB" stroke-width="2.9" stroke-dasharray="4.8 4.8"/>
<path d="M468.01 1483H476.41H472.21V1497H468.01H476.41" fill="none" stroke="#2F96FB" stroke-width="2.9" stroke-dasharray="4.8 4.8"/>
<path d="M509.55 1443.5H517.95H513.75V1455.5H509.55H517.95" fill="none" stroke="#2F96FB" stroke-width="2.9" stroke-dasharray="4.8 4.8"/>
<path d="M551.09 1477.75H559.49H555.29V1489.75H551.09H559.49" fill="none" stroke="#2F96FB" stroke-width="2.9" stroke-dasharray="4.8 4.8"/>
<path d="M592.63 1517.75H601.03H596.83V1529.75H592.63H601.03" fill="none" stroke="#2F96FB" stroke-width="2.9" stroke-dasharray="4.8 4.8"/>
<path d="M426.47 1481.5H434.87H430.67V1497.5H426.47H434.87" fill="none" stroke="#FF9000" stroke-width="2.9" stroke-dasharray="10.5 4.5"/>
<path d="M468.01 1472.5H476.41H472.21V1487.5H468.01H476.41" fill="none" stroke="#FF9000" stroke-width="2.9" stroke-dasharray="10.5 4.5"/>
<path d="M509.55 1428.75H517.95H513.75V1443.75H509.55H517.95" fill="none" stroke="#FF9000" stroke-width="2.9" stroke-dasharray="10.5 4.5"/>
<path d="M551.09 1471H559.49H555.29V1483H551.09H559.49" fill="none" stroke="#FF9000" stroke-width="2.9" stroke-dasharray="10.5 4.5"/>
<path d="M592.63 1509H601.03H596.83V1521H592.63H601.03" fill="none" stroke="#FF9000" stroke-width="2.9" stroke-dasharray="10.5 4.5"/>
<text x="430.67" y="1478.4" font-size="37" text-anchor="middle" fill="#000" stroke="#000" stroke-width="0.5" stroke-linejoin="round">*</text>
<text x="472.21" y="1467.65" font-size="37" text-anchor="middle" fill="#000" stroke="#000" stroke-width="0.5" stroke-linejoin="round">*</text>
<rect x="702.5" y="1361.6" width="217" height="48" fill="#D9D9D9" stroke="#333333" stroke-width="1.9"/>
<rect x="702.5" y="1409.6" width="217" height="128.3" fill="#fff" stroke="#333333" stroke-width="1.9"/>
<line x1="701.55" y1="1409.9" x2="920.45" y2="1409.9" stroke="#333333" stroke-width="3"/>
<text x="811" y="1394.8" font-size="25.4" text-anchor="middle" fill="#1A1A1A" stroke="#1A1A1A" stroke-width="0.25">SLF II (R)</text>
<line x1="693.9" y1="1434.25" x2="702.5" y2="1434.25" stroke="#333333" stroke-width="2.8"/>
<text x="688.1" y="1444.05" font-size="25.8" text-anchor="end" fill="#4D4D4D" stroke="#4D4D4D" stroke-width="0.25">0.70</text>
<line x1="693.9" y1="1459.75" x2="702.5" y2="1459.75" stroke="#333333" stroke-width="2.8"/>
<text x="688.1" y="1469.55" font-size="25.8" text-anchor="end" fill="#4D4D4D" stroke="#4D4D4D" stroke-width="0.25">0.65</text>
<line x1="693.9" y1="1485.5" x2="702.5" y2="1485.5" stroke="#333333" stroke-width="2.8"/>
<text x="688.1" y="1495.3" font-size="25.8" text-anchor="end" fill="#4D4D4D" stroke="#4D4D4D" stroke-width="0.25">0.60</text>
<line x1="693.9" y1="1511" x2="702.5" y2="1511" stroke="#333333" stroke-width="2.8"/>
<text x="688.1" y="1520.8" font-size="25.8" text-anchor="end" fill="#4D4D4D" stroke="#4D4D4D" stroke-width="0.25">0.55</text>
<line x1="693.9" y1="1536.75" x2="702.5" y2="1536.75" stroke="#333333" stroke-width="2.8"/>
<text x="688.1" y="1546.55" font-size="25.8" text-anchor="end" fill="#4D4D4D" stroke="#4D4D4D" stroke-width="0.25">0.50</text>
<line x1="727.54" y1="1537.9" x2="727.54" y2="1546.3" stroke="#333333" stroke-width="2.8"/>
<text x="727.54" y="1570.1" font-size="25.8" text-anchor="middle" fill="#4D4D4D" stroke="#4D4D4D" stroke-width="0.25">1</text>
<line x1="769.27" y1="1537.9" x2="769.27" y2="1546.3" stroke="#333333" stroke-width="2.8"/>
<text x="769.27" y="1570.1" font-size="25.8" text-anchor="middle" fill="#4D4D4D" stroke="#4D4D4D" stroke-width="0.25">2</text>
<line x1="811" y1="1537.9" x2="811" y2="1546.3" stroke="#333333" stroke-width="2.8"/>
<text x="811" y="1570.1" font-size="25.8" text-anchor="middle" fill="#4D4D4D" stroke="#4D4D4D" stroke-width="0.25">3</text>
<line x1="852.73" y1="1537.9" x2="852.73" y2="1546.3" stroke="#333333" stroke-width="2.8"/>
<text x="852.73" y="1570.1" font-size="25.8" text-anchor="middle" fill="#4D4D4D" stroke="#4D4D4D" stroke-width="0.25">4</text>
<line x1="894.46" y1="1537.9" x2="894.46" y2="1546.3" stroke="#333333" stroke-width="2.8"/>
<text x="894.46" y="1570.1" font-size="25.8" text-anchor="middle" fill="#4D4D4D" stroke="#4D4D4D" stroke-width="0.25">5</text>
<circle cx="727.54" cy="1482" r="6.1" fill="#666666"/>
<circle cx="769.27" cy="1470" r="6.1" fill="#666666"/>
<circle cx="811" cy="1443" r="6.1" fill="#666666"/>
<circle cx="852.73" cy="1472.5" r="6.1" fill="#666666"/>
<circle cx="894.46" cy="1518.75" r="6.1" fill="#666666"/>
<rect x="721.54" y="1490.25" width="12" height="12" fill="#2F96FB"/>
<rect x="763.27" y="1472.75" width="12" height="12" fill="#2F96FB"/>
<rect x="805" y="1448.5" width="12" height="12" fill="#2F96FB"/>
<rect x="846.73" y="1475.25" width="12" height="12" fill="#2F96FB"/>
<rect x="888.46" y="1519" width="12" height="12" fill="#2F96FB"/>
<path d="M721.54 1487.5L727.54 1481.5L733.54 1487.5L727.54 1493.5Z" fill="#FF9000"/>
<path d="M763.27 1476.25L769.27 1470.25L775.27 1476.25L769.27 1482.25Z" fill="#FF9000"/>
<path d="M805 1452L811 1446L817 1452L811 1458Z" fill="#FF9000"/>
<path d="M846.73 1478.75L852.73 1472.75L858.73 1478.75L852.73 1484.75Z" fill="#FF9000"/>
<path d="M888.46 1515L894.46 1509L900.46 1515L894.46 1521Z" fill="#FF9000"/>
<polyline points="727.54,1482 769.27,1470 811,1443 852.73,1472.5 894.46,1518.75" fill="none" stroke="#666666" stroke-width="3.3" stroke-linejoin="round"/>
<polyline points="727.54,1496.25 769.27,1478.75 811,1454.5 852.73,1481.25 894.46,1525" fill="none" stroke="#2F96FB" stroke-width="3.3" stroke-linejoin="round" stroke-dasharray="4.8 4.8"/>
<polyline points="727.54,1487.5 769.27,1476.25 811,1452 852.73,1478.75 894.46,1515" fill="none" stroke="#FF9000" stroke-width="3.3" stroke-linejoin="round" stroke-dasharray="10.5 4.5"/>
<path d="M723.34 1477.5H731.74H727.54V1486.5H723.34H731.74" fill="none" stroke="#666666" stroke-width="2.9"/>
<path d="M765.07 1465.5H773.47H769.27V1474.5H765.07H773.47" fill="none" stroke="#666666" stroke-width="2.9"/>
<path d="M806.8 1438.5H815.2H811V1447.5H806.8H815.2" fill="none" stroke="#666666" stroke-width="2.9"/>
<path d="M848.53 1468H856.93H852.73V1477H848.53H856.93" fill="none" stroke="#666666" stroke-width="2.9"/>
<path d="M890.26 1514.25H898.66H894.46V1523.25H890.26H898.66" fill="none" stroke="#666666" stroke-width="2.9"/>
<path d="M723.34 1491.75H731.74H727.54V1500.75H723.34H731.74" fill="none" stroke="#2F96FB" stroke-width="2.9" stroke-dasharray="4.8 4.8"/>
<path d="M765.07 1474.25H773.47H769.27V1483.25H765.07H773.47" fill="none" stroke="#2F96FB" stroke-width="2.9" stroke-dasharray="4.8 4.8"/>
<path d="M806.8 1450H815.2H811V1459H806.8H815.2" fill="none" stroke="#2F96FB" stroke-width="2.9" stroke-dasharray="4.8 4.8"/>
<path d="M848.53 1476.75H856.93H852.73V1485.75H848.53H856.93" fill="none" stroke="#2F96FB" stroke-width="2.9" stroke-dasharray="4.8 4.8"/>
<path d="M890.26 1520.5H898.66H894.46V1529.5H890.26H898.66" fill="none" stroke="#2F96FB" stroke-width="2.9" stroke-dasharray="4.8 4.8"/>
<path d="M723.34 1482.5H731.74H727.54V1492.5H723.34H731.74" fill="none" stroke="#FF9000" stroke-width="2.9" stroke-dasharray="10.5 4.5"/>
<path d="M765.07 1471.25H773.47H769.27V1481.25H765.07H773.47" fill="none" stroke="#FF9000" stroke-width="2.9" stroke-dasharray="10.5 4.5"/>
<path d="M806.8 1447H815.2H811V1457H806.8H815.2" fill="none" stroke="#FF9000" stroke-width="2.9" stroke-dasharray="10.5 4.5"/>
<path d="M848.53 1473.75H856.93H852.73V1483.75H848.53H856.93" fill="none" stroke="#FF9000" stroke-width="2.9" stroke-dasharray="10.5 4.5"/>
<path d="M890.26 1510H898.66H894.46V1520H890.26H898.66" fill="none" stroke="#FF9000" stroke-width="2.9" stroke-dasharray="10.5 4.5"/>
<text x="727.54" y="1479.65" font-size="37" text-anchor="middle" fill="#000" stroke="#000" stroke-width="0.5" stroke-linejoin="round">*</text>
<text x="769.27" y="1466.4" font-size="37" text-anchor="middle" fill="#000" stroke="#000" stroke-width="0.5" stroke-linejoin="round">*</text>
<text x="811" y="1440.15" font-size="37" text-anchor="middle" fill="#000" stroke="#000" stroke-width="0.5" stroke-linejoin="round">*</text>
<text x="852.73" y="1470.15" font-size="37" text-anchor="middle" fill="#000" stroke="#000" stroke-width="0.5" stroke-linejoin="round">*</text>
<rect x="999.5" y="1361.6" width="217" height="48" fill="#D9D9D9" stroke="#333333" stroke-width="1.9"/>
<rect x="999.5" y="1409.6" width="217" height="128.3" fill="#fff" stroke="#333333" stroke-width="1.9"/>
<line x1="998.55" y1="1409.9" x2="1217.45" y2="1409.9" stroke="#333333" stroke-width="3"/>
<text x="1108" y="1394.8" font-size="25.4" text-anchor="middle" fill="#1A1A1A" stroke="#1A1A1A" stroke-width="0.25">SLF III (L)</text>
<line x1="990.9" y1="1411.75" x2="999.5" y2="1411.75" stroke="#333333" stroke-width="2.8"/>
<text x="985.1" y="1421.55" font-size="25.8" text-anchor="end" fill="#4D4D4D" stroke="#4D4D4D" stroke-width="0.25">0.72</text>
<line x1="990.9" y1="1437.75" x2="999.5" y2="1437.75" stroke="#333333" stroke-width="2.8"/>
<text x="985.1" y="1447.55" font-size="25.8" text-anchor="end" fill="#4D4D4D" stroke="#4D4D4D" stroke-width="0.25">0.68</text>
<line x1="990.9" y1="1463.75" x2="999.5" y2="1463.75" stroke="#333333" stroke-width="2.8"/>
<text x="985.1" y="1473.55" font-size="25.8" text-anchor="end" fill="#4D4D4D" stroke="#4D4D4D" stroke-width="0.25">0.64</text>
<line x1="990.9" y1="1489.75" x2="999.5" y2="1489.75" stroke="#333333" stroke-width="2.8"/>
<text x="985.1" y="1499.55" font-size="25.8" text-anchor="end" fill="#4D4D4D" stroke="#4D4D4D" stroke-width="0.25">0.60</text>
<line x1="990.9" y1="1515.75" x2="999.5" y2="1515.75" stroke="#333333" stroke-width="2.8"/>
<text x="985.1" y="1525.55" font-size="25.8" text-anchor="end" fill="#4D4D4D" stroke="#4D4D4D" stroke-width="0.25">0.56</text>
<line x1="1024.54" y1="1537.9" x2="1024.54" y2="1546.3" stroke="#333333" stroke-width="2.8"/>
<text x="1024.54" y="1570.1" font-size="25.8" text-anchor="middle" fill="#4D4D4D" stroke="#4D4D4D" stroke-width="0.25">1</text>
<line x1="1066.27" y1="1537.9" x2="1066.27" y2="1546.3" stroke="#333333" stroke-width="2.8"/>
<text x="1066.27" y="1570.1" font-size="25.8" text-anchor="middle" fill="#4D4D4D" stroke="#4D4D4D" stroke-width="0.25">2</text>
<line x1="1108" y1="1537.9" x2="1108" y2="1546.3" stroke="#333333" stroke-width="2.8"/>
<text x="1108" y="1570.1" font-size="25.8" text-anchor="middle" fill="#4D4D4D" stroke="#4D4D4D" stroke-width="0.25">3</text>
<line x1="1149.73" y1="1537.9" x2="1149.73" y2="1546.3" stroke="#333333" stroke-width="2.8"/>
<text x="1149.73" y="1570.1" font-size="25.8" text-anchor="middle" fill="#4D4D4D" stroke="#4D4D4D" stroke-width="0.25">4</text>
<line x1="1191.46" y1="1537.9" x2="1191.46" y2="1546.3" stroke="#333333" stroke-width="2.8"/>
<text x="1191.46" y="1570.1" font-size="25.8" text-anchor="middle" fill="#4D4D4D" stroke="#4D4D4D" stroke-width="0.25">5</text>
<circle cx="1024.54" cy="1500" r="6.1" fill="#666666"/>
<circle cx="1066.27" cy="1453.75" r="6.1" fill="#666666"/>
<circle cx="1108" cy="1442.5" r="6.1" fill="#666666"/>
<circle cx="1149.73" cy="1480" r="6.1" fill="#666666"/>
<circle cx="1191.46" cy="1516.25" r="6.1" fill="#666666"/>
<rect x="1018.54" y="1514.5" width="12" height="12" fill="#2F96FB"/>
<rect x="1060.27" y="1464" width="12" height="12" fill="#2F96FB"/>
<rect x="1102" y="1449" width="12" height="12" fill="#2F96FB"/>
<rect x="1143.73" y="1481" width="12" height="12" fill="#2F96FB"/>
<rect x="1185.46" y="1516" width="12" height="12" fill="#2F96FB"/>
<path d="M1018.54 1505L1024.54 1499L1030.54 1505L1024.54 1511Z" fill="#FF9000"/>
<path d="M1060.27 1452.5L1066.27 1446.5L1072.27 1452.5L1066.27 1458.5Z" fill="#FF9000"/>
<path d="M1102 1438L1108 1432L1114 1438L1108 1444Z" fill="#FF9000"/>
<path d="M1143.73 1478.75L1149.73 1472.75L1155.73 1478.75L1149.73 1484.75Z" fill="#FF9000"/>
<path d="M1185.46 1515L1191.46 1509L1197.46 1515L1191.46 1521Z" fill="#FF9000"/>
<polyline points="1024.54,1500 1066.27,1453.75 1108,1442.5 1149.73,1480 1191.46,1516.25" fill="none" stroke="#666666" stroke-width="3.3" stroke-linejoin="round"/>
<polyline points="1024.54,1520.5 1066.27,1470 1108,1455 1149.73,1487 1191.46,1522" fill="none" stroke="#2F96FB" stroke-width="3.3" stroke-linejoin="round" stroke-dasharray="4.8 4.8"/>
<polyline points="1024.54,1505 1066.27,1452.5 1108,1438 1149.73,1478.75 1191.46,1515" fill="none" stroke="#FF9000" stroke-width="3.3" stroke-linejoin="round" stroke-dasharray="10.5 4.5"/>
<path d="M1020.34 1494H1028.74H1024.54V1506H1020.34H1028.74" fill="none" stroke="#666666" stroke-width="2.9"/>
<path d="M1062.07 1447.75H1070.47H1066.27V1459.75H1062.07H1070.47" fill="none" stroke="#666666" stroke-width="2.9"/>
<path d="M1103.8 1435.5H1112.2H1108V1449.5H1103.8H1112.2" fill="none" stroke="#666666" stroke-width="2.9"/>
<path d="M1145.53 1475H1153.93H1149.73V1485H1145.53H1153.93" fill="none" stroke="#666666" stroke-width="2.9"/>
<path d="M1187.26 1511.25H1195.66H1191.46V1521.25H1187.26H1195.66" fill="none" stroke="#666666" stroke-width="2.9"/>
<path d="M1020.34 1511.5H1028.74H1024.54V1529.5H1020.34H1028.74" fill="none" stroke="#2F96FB" stroke-width="2.9" stroke-dasharray="4.8 4.8"/>
<path d="M1062.07 1464H1070.47H1066.27V1476H1062.07H1070.47" fill="none" stroke="#2F96FB" stroke-width="2.9" stroke-dasharray="4.8 4.8"/>
<path d="M1103.8 1448H1112.2H1108V1462H1103.8H1112.2" fill="none" stroke="#2F96FB" stroke-width="2.9" stroke-dasharray="4.8 4.8"/>
<path d="M1145.53 1482H1153.93H1149.73V1492H1145.53H1153.93" fill="none" stroke="#2F96FB" stroke-width="2.9" stroke-dasharray="4.8 4.8"/>
<path d="M1187.26 1517H1195.66H1191.46V1527H1187.26H1195.66" fill="none" stroke="#2F96FB" stroke-width="2.9" stroke-dasharray="4.8 4.8"/>
<path d="M1020.34 1497H1028.74H1024.54V1513H1020.34H1028.74" fill="none" stroke="#FF9000" stroke-width="2.9" stroke-dasharray="10.5 4.5"/>
<path d="M1062.07 1445H1070.47H1066.27V1460H1062.07H1070.47" fill="none" stroke="#FF9000" stroke-width="2.9" stroke-dasharray="10.5 4.5"/>
<path d="M1103.8 1429.5H1112.2H1108V1446.5H1103.8H1112.2" fill="none" stroke="#FF9000" stroke-width="2.9" stroke-dasharray="10.5 4.5"/>
<path d="M1145.53 1472.75H1153.93H1149.73V1484.75H1145.53H1153.93" fill="none" stroke="#FF9000" stroke-width="2.9" stroke-dasharray="10.5 4.5"/>
<path d="M1187.26 1509H1195.66H1191.46V1521H1187.26H1195.66" fill="none" stroke="#FF9000" stroke-width="2.9" stroke-dasharray="10.5 4.5"/>
<text x="1024.54" y="1493.9" font-size="37" text-anchor="middle" fill="#000" stroke="#000" stroke-width="0.5" stroke-linejoin="round">*</text>
<text x="1066.27" y="1445.15" font-size="37" text-anchor="middle" fill="#000" stroke="#000" stroke-width="0.5" stroke-linejoin="round">*</text>
<rect x="1311" y="1361.6" width="216.75" height="48" fill="#D9D9D9" stroke="#333333" stroke-width="1.9"/>
<rect x="1311" y="1409.6" width="216.75" height="128.3" fill="#fff" stroke="#333333" stroke-width="1.9"/>
<line x1="1310.05" y1="1409.9" x2="1528.7" y2="1409.9" stroke="#333333" stroke-width="3"/>
<text x="1419.38" y="1394.8" font-size="25.4" text-anchor="middle" fill="#1A1A1A" stroke="#1A1A1A" stroke-width="0.25">SLF III (R)</text>
<line x1="1302.4" y1="1418.25" x2="1311" y2="1418.25" stroke="#333333" stroke-width="2.8"/>
<text x="1296.6" y="1428.05" font-size="25.8" text-anchor="end" fill="#4D4D4D" stroke="#4D4D4D" stroke-width="0.25">0.70</text>
<line x1="1302.4" y1="1448.5" x2="1311" y2="1448.5" stroke="#333333" stroke-width="2.8"/>
<text x="1296.6" y="1458.3" font-size="25.8" text-anchor="end" fill="#4D4D4D" stroke="#4D4D4D" stroke-width="0.25">0.65</text>
<line x1="1302.4" y1="1479" x2="1311" y2="1479" stroke="#333333" stroke-width="2.8"/>
<text x="1296.6" y="1488.8" font-size="25.8" text-anchor="end" fill="#4D4D4D" stroke="#4D4D4D" stroke-width="0.25">0.60</text>
<line x1="1302.4" y1="1509.75" x2="1311" y2="1509.75" stroke="#333333" stroke-width="2.8"/>
<text x="1296.6" y="1519.55" font-size="25.8" text-anchor="end" fill="#4D4D4D" stroke="#4D4D4D" stroke-width="0.25">0.55</text>
<line x1="1336.01" y1="1537.9" x2="1336.01" y2="1546.3" stroke="#333333" stroke-width="2.8"/>
<text x="1336.01" y="1570.1" font-size="25.8" text-anchor="middle" fill="#4D4D4D" stroke="#4D4D4D" stroke-width="0.25">1</text>
<line x1="1377.69" y1="1537.9" x2="1377.69" y2="1546.3" stroke="#333333" stroke-width="2.8"/>
<text x="1377.69" y="1570.1" font-size="25.8" text-anchor="middle" fill="#4D4D4D" stroke="#4D4D4D" stroke-width="0.25">2</text>
<line x1="1419.38" y1="1537.9" x2="1419.38" y2="1546.3" stroke="#333333" stroke-width="2.8"/>
<text x="1419.38" y="1570.1" font-size="25.8" text-anchor="middle" fill="#4D4D4D" stroke="#4D4D4D" stroke-width="0.25">3</text>
<line x1="1461.06" y1="1537.9" x2="1461.06" y2="1546.3" stroke="#333333" stroke-width="2.8"/>
<text x="1461.06" y="1570.1" font-size="25.8" text-anchor="middle" fill="#4D4D4D" stroke="#4D4D4D" stroke-width="0.25">4</text>
<line x1="1502.74" y1="1537.9" x2="1502.74" y2="1546.3" stroke="#333333" stroke-width="2.8"/>
<text x="1502.74" y="1570.1" font-size="25.8" text-anchor="middle" fill="#4D4D4D" stroke="#4D4D4D" stroke-width="0.25">5</text>
<circle cx="1336.01" cy="1481.25" r="6.1" fill="#666666"/>
<circle cx="1377.69" cy="1444.5" r="6.1" fill="#666666"/>
<circle cx="1419.38" cy="1439.5" r="6.1" fill="#666666"/>
<circle cx="1461.06" cy="1472.5" r="6.1" fill="#666666"/>
<circle cx="1502.74" cy="1522" r="6.1" fill="#666666"/>
<rect x="1330.01" y="1489" width="12" height="12" fill="#2F96FB"/>
<rect x="1371.69" y="1452.75" width="12" height="12" fill="#2F96FB"/>
<rect x="1413.38" y="1442.75" width="12" height="12" fill="#2F96FB"/>
<rect x="1455.06" y="1470.25" width="12" height="12" fill="#2F96FB"/>
<rect x="1496.74" y="1517.75" width="12" height="12" fill="#2F96FB"/>
<path d="M1330.01 1486.25L1336.01 1480.25L1342.01 1486.25L1336.01 1492.25Z" fill="#FF9000"/>
<path d="M1371.69 1455L1377.69 1449L1383.69 1455L1377.69 1461Z" fill="#FF9000"/>
<path d="M1413.38 1452L1419.38 1446L1425.38 1452L1419.38 1458Z" fill="#FF9000"/>
<path d="M1455.06 1472L1461.06 1466L1467.06 1472L1461.06 1478Z" fill="#FF9000"/>
<path d="M1496.74 1516.25L1502.74 1510.25L1508.74 1516.25L1502.74 1522.25Z" fill="#FF9000"/>
<polyline points="1336.01,1481.25 1377.69,1444.5 1419.38,1439.5 1461.06,1472.5 1502.74,1522" fill="none" stroke="#666666" stroke-width="3.3" stroke-linejoin="round"/>
<polyline points="1336.01,1495 1377.69,1458.75 1419.38,1448.75 1461.06,1476.25 1502.74,1523.75" fill="none" stroke="#2F96FB" stroke-width="3.3" stroke-linejoin="round" stroke-dasharray="4.8 4.8"/>
<polyline points="1336.01,1486.25 1377.69,1455 1419.38,1452 1461.06,1472 1502.74,1516.25" fill="none" stroke="#FF9000" stroke-width="3.3" stroke-linejoin="round" stroke-dasharray="10.5 4.5"/>
<path d="M1331.81 1476.25H1340.21H1336.01V1486.25H1331.81H1340.21" fill="none" stroke="#666666" stroke-width="2.9"/>
<path d="M1373.49 1439.5H1381.89H1377.69V1449.5H1373.49H1381.89" fill="none" stroke="#666666" stroke-width="2.9"/>
<path d="M1415.17 1434.5H1423.58H1419.38V1444.5H1415.17H1423.58" fill="none" stroke="#666666" stroke-width="2.9"/>
<path d="M1456.86 1467.5H1465.26H1461.06V1477.5H1456.86H1465.26" fill="none" stroke="#666666" stroke-width="2.9"/>
<path d="M1498.54 1517H1506.94H1502.74V1527H1498.54H1506.94" fill="none" stroke="#666666" stroke-width="2.9"/>
<path d="M1331.81 1490H1340.21H1336.01V1500H1331.81H1340.21" fill="none" stroke="#2F96FB" stroke-width="2.9" stroke-dasharray="4.8 4.8"/>
<path d="M1373.49 1453.75H1381.89H1377.69V1463.75H1373.49H1381.89" fill="none" stroke="#2F96FB" stroke-width="2.9" stroke-dasharray="4.8 4.8"/>
<path d="M1415.17 1443.75H1423.58H1419.38V1453.75H1415.17H1423.58" fill="none" stroke="#2F96FB" stroke-width="2.9" stroke-dasharray="4.8 4.8"/>
<path d="M1456.86 1471.25H1465.26H1461.06V1481.25H1456.86H1465.26" fill="none" stroke="#2F96FB" stroke-width="2.9" stroke-dasharray="4.8 4.8"/>
<path d="M1498.54 1518.75H1506.94H1502.74V1528.75H1498.54H1506.94" fill="none" stroke="#2F96FB" stroke-width="2.9" stroke-dasharray="4.8 4.8"/>
<path d="M1331.81 1480.25H1340.21H1336.01V1492.25H1331.81H1340.21" fill="none" stroke="#FF9000" stroke-width="2.9" stroke-dasharray="10.5 4.5"/>
<path d="M1373.49 1449H1381.89H1377.69V1461H1373.49H1381.89" fill="none" stroke="#FF9000" stroke-width="2.9" stroke-dasharray="10.5 4.5"/>
<path d="M1415.17 1444.5H1423.58H1419.38V1459.5H1415.17H1423.58" fill="none" stroke="#FF9000" stroke-width="2.9" stroke-dasharray="10.5 4.5"/>
<path d="M1456.86 1467H1465.26H1461.06V1477H1456.86H1465.26" fill="none" stroke="#FF9000" stroke-width="2.9" stroke-dasharray="10.5 4.5"/>
<path d="M1498.54 1510.75H1506.94H1502.74V1521.75H1498.54H1506.94" fill="none" stroke="#FF9000" stroke-width="2.9" stroke-dasharray="10.5 4.5"/>
<text x="1336.01" y="1475.15" font-size="37" text-anchor="middle" fill="#000" stroke="#000" stroke-width="0.5" stroke-linejoin="round">*</text>
<text x="1377.69" y="1440.15" font-size="37" text-anchor="middle" fill="#000" stroke="#000" stroke-width="0.5" stroke-linejoin="round">*</text>
<rect x="108" y="1593.7" width="217" height="48" fill="#D9D9D9" stroke="#333333" stroke-width="1.9"/>
<rect x="108" y="1641.7" width="217" height="128.3" fill="#fff" stroke="#333333" stroke-width="1.9"/>
<line x1="107.05" y1="1642" x2="325.95" y2="1642" stroke="#333333" stroke-width="3"/>
<text x="216.5" y="1626.9" font-size="25.4" text-anchor="middle" fill="#1A1A1A" stroke="#1A1A1A" stroke-width="0.25">UF (L)</text>
<line x1="99.4" y1="1668" x2="108" y2="1668" stroke="#333333" stroke-width="2.8"/>
<text x="93.6" y="1677.8" font-size="25.8" text-anchor="end" fill="#4D4D4D" stroke="#4D4D4D" stroke-width="0.25">0.55</text>
<line x1="99.4" y1="1704.75" x2="108" y2="1704.75" stroke="#333333" stroke-width="2.8"/>
<text x="93.6" y="1714.55" font-size="25.8" text-anchor="end" fill="#4D4D4D" stroke="#4D4D4D" stroke-width="0.25">0.50</text>
<line x1="99.4" y1="1741.25" x2="108" y2="1741.25" stroke="#333333" stroke-width="2.8"/>
<text x="93.6" y="1751.05" font-size="25.8" text-anchor="end" fill="#4D4D4D" stroke="#4D4D4D" stroke-width="0.25">0.45</text>
<line x1="133.04" y1="1770" x2="133.04" y2="1778.4" stroke="#333333" stroke-width="2.8"/>
<text x="133.04" y="1802.2" font-size="25.8" text-anchor="middle" fill="#4D4D4D" stroke="#4D4D4D" stroke-width="0.25">1</text>
<line x1="174.77" y1="1770" x2="174.77" y2="1778.4" stroke="#333333" stroke-width="2.8"/>
<text x="174.77" y="1802.2" font-size="25.8" text-anchor="middle" fill="#4D4D4D" stroke="#4D4D4D" stroke-width="0.25">2</text>
<line x1="216.5" y1="1770" x2="216.5" y2="1778.4" stroke="#333333" stroke-width="2.8"/>
<text x="216.5" y="1802.2" font-size="25.8" text-anchor="middle" fill="#4D4D4D" stroke="#4D4D4D" stroke-width="0.25">3</text>
<line x1="258.23" y1="1770" x2="258.23" y2="1778.4" stroke="#333333" stroke-width="2.8"/>
<text x="258.23" y="1802.2" font-size="25.8" text-anchor="middle" fill="#4D4D4D" stroke="#4D4D4D" stroke-width="0.25">4</text>
<line x1="299.96" y1="1770" x2="299.96" y2="1778.4" stroke="#333333" stroke-width="2.8"/>
<text x="299.96" y="1802.2" font-size="25.8" text-anchor="middle" fill="#4D4D4D" stroke="#4D4D4D" stroke-width="0.25">5</text>
<circle cx="133.04" cy="1720.5" r="6.1" fill="#666666"/>
<circle cx="174.77" cy="1691.25" r="6.1" fill="#666666"/>
<circle cx="216.5" cy="1696.75" r="6.1" fill="#666666"/>
<circle cx="258.23" cy="1704.5" r="6.1" fill="#666666"/>
<circle cx="299.96" cy="1698.75" r="6.1" fill="#666666"/>
<rect x="127.04" y="1737" width="12" height="12" fill="#2F96FB"/>
<rect x="168.77" y="1699.5" width="12" height="12" fill="#2F96FB"/>
<rect x="210.5" y="1699" width="12" height="12" fill="#2F96FB"/>
<rect x="252.23" y="1710.25" width="12" height="12" fill="#2F96FB"/>
<rect x="293.96" y="1691.5" width="12" height="12" fill="#2F96FB"/>
<path d="M127.04 1737.5L133.04 1731.5L139.04 1737.5L133.04 1743.5Z" fill="#FF9000"/>
<path d="M168.77 1706.25L174.77 1700.25L180.77 1706.25L174.77 1712.25Z" fill="#FF9000"/>
<path d="M210.5 1716.25L216.5 1710.25L222.5 1716.25L216.5 1722.25Z" fill="#FF9000"/>
<path d="M252.23 1721.25L258.23 1715.25L264.23 1721.25L258.23 1727.25Z" fill="#FF9000"/>
<path d="M293.96 1702.5L299.96 1696.5L305.96 1702.5L299.96 1708.5Z" fill="#FF9000"/>
<polyline points="133.04,1720.5 174.77,1691.25 216.5,1696.75 258.23,1704.5 299.96,1698.75" fill="none" stroke="#666666" stroke-width="3.3" stroke-linejoin="round"/>
<polyline points="133.04,1743 174.77,1705.5 216.5,1705 258.23,1716.25 299.96,1697.5" fill="none" stroke="#2F96FB" stroke-width="3.3" stroke-linejoin="round" stroke-dasharray="4.8 4.8"/>
<polyline points="133.04,1737.5 174.77,1706.25 216.5,1716.25 258.23,1721.25 299.96,1702.5" fill="none" stroke="#FF9000" stroke-width="3.3" stroke-linejoin="round" stroke-dasharray="10.5 4.5"/>
<path d="M128.84 1703.75H137.24H133.04V1737.25H128.84H137.24" fill="none" stroke="#666666" stroke-width="2.9"/>
<path d="M170.57 1685.25H178.97H174.77V1697.25H170.57H178.97" fill="none" stroke="#666666" stroke-width="2.9"/>
<path d="M212.3 1690.25H220.7H216.5V1703.25H212.3H220.7" fill="none" stroke="#666666" stroke-width="2.9"/>
<path d="M254.03 1698H262.43H258.23V1711H254.03H262.43" fill="none" stroke="#666666" stroke-width="2.9"/>
<path d="M295.76 1691.75H304.16H299.96V1705.75H295.76H304.16" fill="none" stroke="#666666" stroke-width="2.9"/>
<path d="M128.84 1725H137.24H133.04V1761H128.84H137.24" fill="none" stroke="#2F96FB" stroke-width="2.9" stroke-dasharray="4.8 4.8"/>
<path d="M170.57 1698.5H178.97H174.77V1712.5H170.57H178.97" fill="none" stroke="#2F96FB" stroke-width="2.9" stroke-dasharray="4.8 4.8"/>
<path d="M212.3 1698H220.7H216.5V1712H212.3H220.7" fill="none" stroke="#2F96FB" stroke-width="2.9" stroke-dasharray="4.8 4.8"/>
<path d="M254.03 1708.25H262.43H258.23V1724.25H254.03H262.43" fill="none" stroke="#2F96FB" stroke-width="2.9" stroke-dasharray="4.8 4.8"/>
<path d="M295.76 1690.5H304.16H299.96V1704.5H295.76H304.16" fill="none" stroke="#2F96FB" stroke-width="2.9" stroke-dasharray="4.8 4.8"/>
<path d="M128.84 1720H137.24H133.04V1755H128.84H137.24" fill="none" stroke="#FF9000" stroke-width="2.9" stroke-dasharray="10.5 4.5"/>
<path d="M170.57 1699.25H178.97H174.77V1713.25H170.57H178.97" fill="none" stroke="#FF9000" stroke-width="2.9" stroke-dasharray="10.5 4.5"/>
<path d="M212.3 1709.25H220.7H216.5V1723.25H212.3H220.7" fill="none" stroke="#FF9000" stroke-width="2.9" stroke-dasharray="10.5 4.5"/>
<path d="M254.03 1712.25H262.43H258.23V1730.25H254.03H262.43" fill="none" stroke="#FF9000" stroke-width="2.9" stroke-dasharray="10.5 4.5"/>
<path d="M295.76 1694.5H304.16H299.96V1710.5H295.76H304.16" fill="none" stroke="#FF9000" stroke-width="2.9" stroke-dasharray="10.5 4.5"/>
<text x="174.77" y="1672.65" font-size="37" text-anchor="middle" fill="#000" stroke="#000" stroke-width="0.5" stroke-linejoin="round">*</text>
<text x="174.77" y="1677.3" font-size="22" text-anchor="middle" fill="#000" stroke="#000" stroke-width="0.3">#</text>
<text x="216.5" y="1683.55" font-size="22" text-anchor="middle" fill="#000" stroke="#000" stroke-width="0.3">##</text>
<text x="258.23" y="1691.05" font-size="22" text-anchor="middle" fill="#000" stroke="#000" stroke-width="0.3">#</text>
<rect x="405.75" y="1593.7" width="216" height="48" fill="#D9D9D9" stroke="#333333" stroke-width="1.9"/>
<rect x="405.75" y="1641.7" width="216" height="128.3" fill="#fff" stroke="#333333" stroke-width="1.9"/>
<line x1="404.8" y1="1642" x2="622.7" y2="1642" stroke="#333333" stroke-width="3"/>
<text x="513.75" y="1626.9" font-size="25.4" text-anchor="middle" fill="#1A1A1A" stroke="#1A1A1A" stroke-width="0.25">UF (R)</text>
<line x1="397.15" y1="1672" x2="405.75" y2="1672" stroke="#333333" stroke-width="2.8"/>
<text x="391.35" y="1681.8" font-size="25.8" text-anchor="end" fill="#4D4D4D" stroke="#4D4D4D" stroke-width="0.25">0.52</text>
<line x1="397.15" y1="1705.25" x2="405.75" y2="1705.25" stroke="#333333" stroke-width="2.8"/>
<text x="391.35" y="1715.05" font-size="25.8" text-anchor="end" fill="#4D4D4D" stroke="#4D4D4D" stroke-width="0.25">0.48</text>
<line x1="397.15" y1="1738.75" x2="405.75" y2="1738.75" stroke="#333333" stroke-width="2.8"/>
<text x="391.35" y="1748.55" font-size="25.8" text-anchor="end" fill="#4D4D4D" stroke="#4D4D4D" stroke-width="0.25">0.44</text>
<line x1="430.67" y1="1770" x2="430.67" y2="1778.4" stroke="#333333" stroke-width="2.8"/>
<text x="430.67" y="1802.2" font-size="25.8" text-anchor="middle" fill="#4D4D4D" stroke="#4D4D4D" stroke-width="0.25">1</text>
<line x1="472.21" y1="1770" x2="472.21" y2="1778.4" stroke="#333333" stroke-width="2.8"/>
<text x="472.21" y="1802.2" font-size="25.8" text-anchor="middle" fill="#4D4D4D" stroke="#4D4D4D" stroke-width="0.25">2</text>
<line x1="513.75" y1="1770" x2="513.75" y2="1778.4" stroke="#333333" stroke-width="2.8"/>
<text x="513.75" y="1802.2" font-size="25.8" text-anchor="middle" fill="#4D4D4D" stroke="#4D4D4D" stroke-width="0.25">3</text>
<line x1="555.29" y1="1770" x2="555.29" y2="1778.4" stroke="#333333" stroke-width="2.8"/>
<text x="555.29" y="1802.2" font-size="25.8" text-anchor="middle" fill="#4D4D4D" stroke="#4D4D4D" stroke-width="0.25">4</text>
<line x1="596.83" y1="1770" x2="596.83" y2="1778.4" stroke="#333333" stroke-width="2.8"/>
<text x="596.83" y="1802.2" font-size="25.8" text-anchor="middle" fill="#4D4D4D" stroke="#4D4D4D" stroke-width="0.25">5</text>
<circle cx="430.67" cy="1728.75" r="6.1" fill="#666666"/>
<circle cx="472.21" cy="1700" r="6.1" fill="#666666"/>
<circle cx="513.75" cy="1690.5" r="6.1" fill="#666666"/>
<circle cx="555.29" cy="1696.25" r="6.1" fill="#666666"/>
<circle cx="596.83" cy="1681.25" r="6.1" fill="#666666"/>
<rect x="424.67" y="1736.5" width="12" height="12" fill="#2F96FB"/>
<rect x="466.21" y="1711.5" width="12" height="12" fill="#2F96FB"/>
<rect x="507.75" y="1696.5" width="12" height="12" fill="#2F96FB"/>
<rect x="549.29" y="1705.25" width="12" height="12" fill="#2F96FB"/>
<rect x="590.83" y="1685.25" width="12" height="12" fill="#2F96FB"/>
<path d="M424.67 1733.75L430.67 1727.75L436.67 1733.75L430.67 1739.75Z" fill="#FF9000"/>
<path d="M466.21 1718.75L472.21 1712.75L478.21 1718.75L472.21 1724.75Z" fill="#FF9000"/>
<path d="M507.75 1711.25L513.75 1705.25L519.75 1711.25L513.75 1717.25Z" fill="#FF9000"/>
<path d="M549.29 1712L555.29 1706L561.29 1712L555.29 1718Z" fill="#FF9000"/>
<path d="M590.83 1685L596.83 1679L602.83 1685L596.83 1691Z" fill="#FF9000"/>
<polyline points="430.67,1728.75 472.21,1700 513.75,1690.5 555.29,1696.25 596.83,1681.25" fill="none" stroke="#666666" stroke-width="3.3" stroke-linejoin="round"/>
<polyline points="430.67,1742.5 472.21,1717.5 513.75,1702.5 555.29,1711.25 596.83,1691.25" fill="none" stroke="#2F96FB" stroke-width="3.3" stroke-linejoin="round" stroke-dasharray="4.8 4.8"/>
<polyline points="430.67,1733.75 472.21,1718.75 513.75,1711.25 555.29,1712 596.83,1685" fill="none" stroke="#FF9000" stroke-width="3.3" stroke-linejoin="round" stroke-dasharray="10.5 4.5"/>
<path d="M426.47 1710H434.87H430.67V1747.5H426.47H434.87" fill="none" stroke="#666666" stroke-width="2.9"/>
<path d="M468.01 1693.75H476.41H472.21V1706.25H468.01H476.41" fill="none" stroke="#666666" stroke-width="2.9"/>
<path d="M509.55 1683.75H517.95H513.75V1697.25H509.55H517.95" fill="none" stroke="#666666" stroke-width="2.9"/>
<path d="M551.09 1688.75H559.49H555.29V1703.75H551.09H559.49" fill="none" stroke="#666666" stroke-width="2.9"/>
<path d="M592.63 1672.5H601.03H596.83V1690H592.63H601.03" fill="none" stroke="#666666" stroke-width="2.9"/>
<path d="M426.47 1723.75H434.87H430.67V1761.25H426.47H434.87" fill="none" stroke="#2F96FB" stroke-width="2.9" stroke-dasharray="4.8 4.8"/>
<path d="M468.01 1709.5H476.41H472.21V1725.5H468.01H476.41" fill="none" stroke="#2F96FB" stroke-width="2.9" stroke-dasharray="4.8 4.8"/>
<path d="M509.55 1694.5H517.95H513.75V1710.5H509.55H517.95" fill="none" stroke="#2F96FB" stroke-width="2.9" stroke-dasharray="4.8 4.8"/>
<path d="M551.09 1703.25H559.49H555.29V1719.25H551.09H559.49" fill="none" stroke="#2F96FB" stroke-width="2.9" stroke-dasharray="4.8 4.8"/>
<path d="M592.63 1682.5H601.03H596.83V1700H592.63H601.03" fill="none" stroke="#2F96FB" stroke-width="2.9" stroke-dasharray="4.8 4.8"/>
<path d="M426.47 1712.75H434.87H430.67V1754.75H426.47H434.87" fill="none" stroke="#FF9000" stroke-width="2.9" stroke-dasharray="10.5 4.5"/>
<path d="M468.01 1710.75H476.41H472.21V1726.75H468.01H476.41" fill="none" stroke="#FF9000" stroke-width="2.9" stroke-dasharray="10.5 4.5"/>
<path d="M509.55 1703.25H517.95H513.75V1719.25H509.55H517.95" fill="none" stroke="#FF9000" stroke-width="2.9" stroke-dasharray="10.5 4.5"/>
<path d="M551.09 1703.5H559.49H555.29V1720.5H551.09H559.49" fill="none" stroke="#FF9000" stroke-width="2.9" stroke-dasharray="10.5 4.5"/>
<path d="M592.63 1677H601.03H596.83V1693H592.63H601.03" fill="none" stroke="#FF9000" stroke-width="2.9" stroke-dasharray="10.5 4.5"/>
<text x="472.21" y="1678.9" font-size="37" text-anchor="middle" fill="#000" stroke="#000" stroke-width="0.5" stroke-linejoin="round">*</text>
<text x="472.21" y="1684.8" font-size="22" text-anchor="middle" fill="#000" stroke="#000" stroke-width="0.3">##</text>
<text x="513.75" y="1674.8" font-size="22" text-anchor="middle" fill="#000" stroke="#000" stroke-width="0.3">##</text>
<text x="555.29" y="1672.65" font-size="37" text-anchor="middle" fill="#000" stroke="#000" stroke-width="0.5" stroke-linejoin="round">*</text>
<text x="555.29" y="1678.55" font-size="22" text-anchor="middle" fill="#000" stroke="#000" stroke-width="0.3">#</text>
<text x="817.9" y="1840.6" font-size="32" text-anchor="middle" fill="#000" font-weight="bold">Segment</text>
<text x="0" y="0" font-size="32" text-anchor="middle" fill="#000" font-weight="bold" transform="translate(29.4 1357) rotate(-90)">NDI</text>
<text x="7.8" y="929.1" font-size="36" text-anchor="start" fill="#000" font-weight="bold">B</text>
<text x="572.3" y="1892.4" font-size="32" text-anchor="start" fill="#000" font-weight="bold">Group</text>
<line x1="689" y1="1881" x2="733.1" y2="1881" stroke="#666666" stroke-width="3"/>
<circle cx="711.05" cy="1881" r="6.1" fill="#666666"/>
<text x="754" y="1889.9" font-size="25.8" text-anchor="start" fill="#000">CTL</text>
<line x1="823.8" y1="1881" x2="867.2" y2="1881" stroke="#2F96FB" stroke-width="3" stroke-dasharray="4.8 4.8"/>
<rect x="839.5" y="1875" width="12" height="12" fill="#2F96FB"/>
<text x="888" y="1889.9" font-size="25.8" text-anchor="start" fill="#000">CHD</text>
<line x1="965" y1="1881" x2="1008.8" y2="1881" stroke="#FF9000" stroke-width="3" stroke-dasharray="10.5 4.5"/>
<path d="M980.9 1881L986.9 1875L992.9 1881L986.9 1887Z" fill="#FF9000"/>
<text x="1029.7" y="1889.9" font-size="25.8" text-anchor="start" fill="#000">PT</text>
</svg>
</body>
</html>
